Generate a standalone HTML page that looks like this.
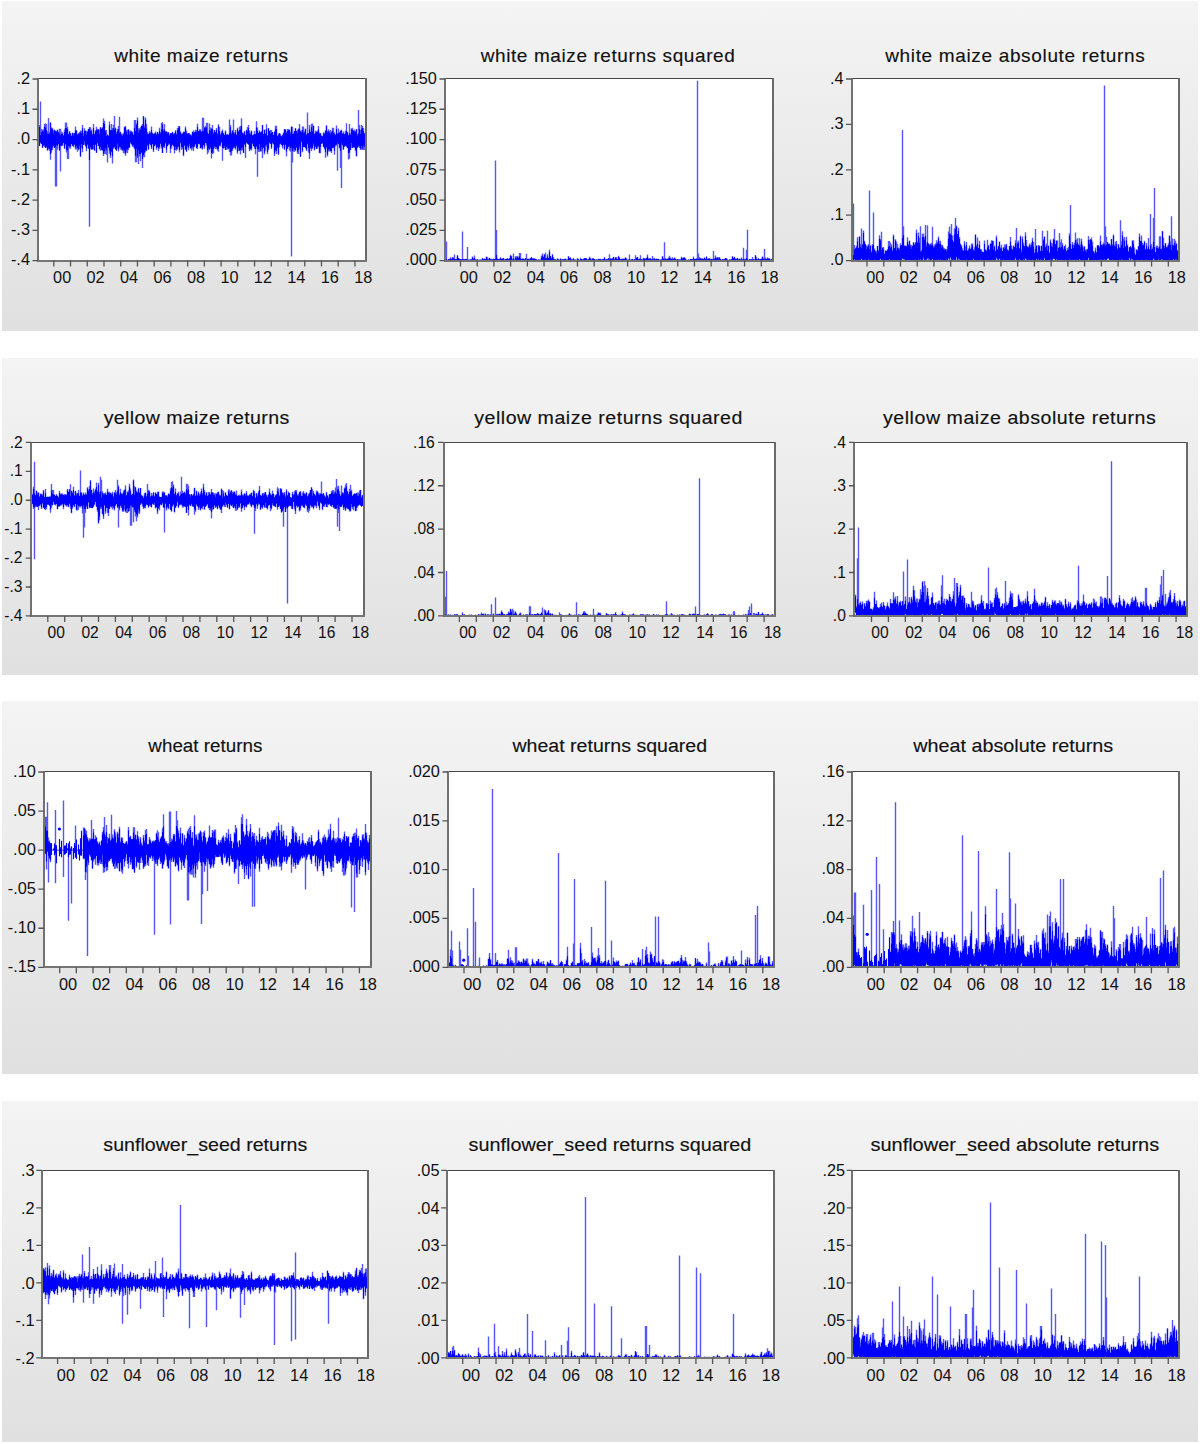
<!DOCTYPE html><html><head><meta charset="utf-8"><style>html,body{margin:0;padding:0;background:#fff;width:1200px;height:1444px;overflow:hidden}.p{position:absolute;left:2px;width:1196px;background:linear-gradient(#f4f4f4,#e0e0e0)}svg{position:absolute;left:0;top:0}text{font-family:"Liberation Sans",sans-serif;fill:#111}.t{stroke:#111;stroke-width:0.15px}</style></head><body>
<div class="p" style="top:1px;height:330px"></div>
<div class="p" style="top:358px;height:317px"></div>
<div class="p" style="top:701px;height:373px"></div>
<div class="p" style="top:1101px;height:341px"></div>
<svg width="1200" height="1444" viewBox="0 0 1200 1444">
<rect x="38" y="79" width="328" height="181.6" fill="#fff"/>
<text class="t" transform="scale(1 1)" x="114.19" y="61.6" font-size="19" textLength="173.8" lengthAdjust="spacing">white maize returns</text>
<path d="M39.5 125V145.9M40.5 101.4V142.8M41.5 129V144M42.5 129.6V147.9M43.5 129.6V145.7M44.5 123.9V147M45.5 123.2V147.7M46.5 124.1V147.8M47.5 131.5V150.7M48.5 118V149.4M49.5 131.8V150.8M50.5 122.2V159.7M51.5 127.3V152.8M52.5 128.3V149.9M53.5 130.6V146M54.5 129.4V147.9M55.5 130.4V186.4M56.5 130.9V186.4M57.5 129.5V149.6M58.5 131.7V144.4M59.5 128.8V150.8M60.5 128.8V171.6M61.5 131.5V146.2M62.5 132.6V146.1M63.5 134.9V142.9M64.5 129.5V149M65.5 122.6V144.8M66.5 122.6V152.5M67.5 126.7V158.9M68.5 134.3V158.9M69.5 130.9V148.3M70.5 132.9V148.7M71.5 135.5V144.1M72.5 132.5V146.1M73.5 132.9V147.3M74.5 133V144.6M75.5 126.4V149.6M76.5 129.9V149.6M77.5 134.1V151.7M78.5 133.6V150.3M79.5 132.1V149.2M80.5 130.6V157.1M81.5 131.1V147.7M82.5 125.1V152.3M83.5 133.2V145.1M84.5 128.3V144.6M85.5 130.7V146.5M86.5 130.8V151.3M87.5 130.8V145.2M88.5 128.9V148.5M89.5 127.1V226.7M90.5 127.2V148.7M91.5 129.5V149.5M92.5 133.7V149.2M93.5 123.9V149.6M94.5 133.8V150.7M95.5 130.3V145M96.5 126.8V152.9M97.5 128.7V143.5M98.5 129V145.9M99.5 129.8V149.5M100.5 127.1V150.8M101.5 128.4V150.5M102.5 127.1V150.7M103.5 118.6V155.9M104.5 120.7V154.1M105.5 130V154.1M106.5 130V154.7M107.5 134.6V162.5M108.5 135.4V147.9M109.5 121.5V153.6M110.5 130V157.7M111.5 124.1V152.3M112.5 128.1V163.4M113.5 124.7V148.8M114.5 115.9V147.3M115.5 127.6V149.3M116.5 132.1V150.8M117.5 128.9V148.3M118.5 125.9V151.5M119.5 116.8V147.8M120.5 131.7V149.4M121.5 133.8V150.3M122.5 133.8V151M123.5 132.7V153.2M124.5 126.8V153.2M125.5 126V155.7M126.5 129.8V152.5M127.5 129.8V152.9M128.5 128.9V150.1M129.5 130.7V147.7M130.5 130.6V143.2M131.5 131.1V144.6M132.5 131.8V146.8M133.5 134.4V147.3M134.5 120.1V149.3M135.5 120.1V162.3M136.5 123.6V162.3M137.5 117.6V158.1M138.5 128.6V164M139.5 128.1V156.4M140.5 127.2V161.2M141.5 125.4V152.8M142.5 124.1V168M143.5 116.1V157.1M144.5 125.5V157.3M145.5 117.5V152.6M146.5 123.7V151.1M147.5 131.9V146M148.5 134V149.8M149.5 131.2V144.1M150.5 132.3V145.2M151.5 126.6V149.1M152.5 132.5V144.2M153.5 133.7V152.1M154.5 133.5V146.3M155.5 131.4V144.9M156.5 133.7V149.8M157.5 132V147.3M158.5 133.6V150.9M159.5 127.8V148.8M160.5 131.9V143.8M161.5 123V148.5M162.5 121.9V153.1M163.5 129.2V147.2M164.5 124.1V148M165.5 130.9V143.6M166.5 131V152.8M167.5 131.9V146.5M168.5 131.9V145.1M169.5 134.6V144.4M170.5 133V153.1M171.5 133V148.8M172.5 131.8V144.9M173.5 133.6V146.5M174.5 133.2V153.5M175.5 130.2V150.1M176.5 133.4V150.7M177.5 128V149.6M178.5 125.9V147.6M179.5 126.1V152.5M180.5 131.2V143.3M181.5 133.4V149.7M182.5 133V148.8M183.5 131.6V156.3M184.5 131.7V146M185.5 126.6V149.6M186.5 130.8V151.6M187.5 133.8V147.2M188.5 133V150.2M189.5 133.1V146.1M190.5 134.5V148.5M191.5 134.7V150.5M192.5 131.5V149.3M193.5 130.4V150.9M194.5 131.8V146.5M195.5 129.7V144.4M196.5 130V148.6M197.5 123.7V149M198.5 131.3V143.8M199.5 129.3V144.6M200.5 129.3V148.6M201.5 131.3V148.6M202.5 117.7V149.7M203.5 117.7V145.2M204.5 126.9V148.8M205.5 126.1V143.1M206.5 122.7V145.5M207.5 122.7V154.3M208.5 133.5V152.4M209.5 123.4V149.6M210.5 127.4V148.4M211.5 128V158.6M212.5 124.9V154M213.5 132.6V153.3M214.5 130.1V148.1M215.5 132.2V148.9M216.5 128V148.7M217.5 133.3V150.4M218.5 124.3V151.7M219.5 127.1V145.6M220.5 134.3V146.4M221.5 131.4V142.8M222.5 129.6V160.7M223.5 133V148.8M224.5 134.7V148M225.5 130.6V150.1M226.5 134.3V149.7M227.5 134.2V149.5M228.5 134.8V149.3M229.5 119.6V151.9M230.5 124.9V155.5M231.5 132.5V155.5M232.5 130.1V151M233.5 119.6V148.4M234.5 132.2V148.1M235.5 129.9V149.7M236.5 134.4V146.4M237.5 127.7V153.8M238.5 131.1V150.8M239.5 126.8V151.1M240.5 126V154.4M241.5 118.3V150.7M242.5 132.7V150.2M243.5 133.3V153M244.5 131.1V145.1M245.5 134.5V158M246.5 129.7V142.8M247.5 127.1V143.7M248.5 125.1V144.5M249.5 130.2V151.2M250.5 132.7V149.2M251.5 130.5V150.4M252.5 135.2V143.6M253.5 134.3V146.2M254.5 131V148.8M255.5 133.7V154.2M256.5 121.2V147.2M257.5 127.5V176.8M258.5 132.9V152M259.5 130.3V152M260.5 132.3V151.5M261.5 131.4V151.5M262.5 125.1V158.3M263.5 133.8V148M264.5 129.4V154.6M265.5 133.3V150.7M266.5 124.3V146.8M267.5 135.2V154.3M268.5 128.1V150.2M269.5 130.8V142.6M270.5 130.1V144M271.5 130.1V149.1M272.5 131.9V143.2M273.5 135V144.6M274.5 131.6V156M275.5 125.5V151.4M276.5 125.9V154M277.5 135.8V148.3M278.5 133.4V155M279.5 133V147.2M280.5 133.7V143.9M281.5 136.3V145M282.5 134.7V148.4M283.5 132.4V145M284.5 129.2V149.8M285.5 129.3V145.3M286.5 131.7V156.5M287.5 128.9V149.1M288.5 128.9V147M289.5 129.4V150.5M290.5 131.9V151.7M291.5 126.6V256.4M292.5 126.9V162.5M293.5 132.7V151.4M294.5 130.8V152.1M295.5 127.9V150.7M296.5 131V147.5M297.5 129.8V153.8M298.5 128.6V154M299.5 124V148.7M300.5 130.6V157M301.5 130.6V142.4M302.5 126.4V152.3M303.5 126.4V146.9M304.5 131.2V147M305.5 128.4V148.3M306.5 133.9V151M307.5 112.6V144.4M308.5 133V152.5M309.5 124.9V159.1M310.5 131.4V148.5M311.5 123.8V150.9M312.5 123.5V148.4M313.5 125.4V146M314.5 133.5V150.4M315.5 130.7V146.9M316.5 131.3V149.1M317.5 130.6V148.8M318.5 125.9V147.2M319.5 132.5V153.2M320.5 133.1V153.2M321.5 135.6V144M322.5 136.3V143.5M323.5 132.2V146.9M324.5 133.5V149.5M325.5 130.6V157.7M326.5 125.2V148.2M327.5 131V156.4M328.5 129.2V151.4M329.5 131V151.4M330.5 130.1V151.5M331.5 131.6V152.9M332.5 127.7V148.2M333.5 127.7V148M334.5 132.3V154.7M335.5 134.6V146.5M336.5 125.6V145.6M337.5 133V170.7M338.5 128.4V144.3M339.5 132.4V148.4M340.5 130.5V168M341.5 129.8V188M342.5 133.5V145.4M343.5 131.5V149.6M344.5 134V146.7M345.5 130.7V145.9M346.5 123.2V147.2M347.5 132V148.3M348.5 134.7V159.4M349.5 124.1V158.8M350.5 133.6V150.2M351.5 128.2V147.6M352.5 127.7V148.2M353.5 130.6V147.4M354.5 129.4V147.8M355.5 130.8V151.2M356.5 129V156.4M357.5 133.8V148.2M358.5 109.9V146.9M359.5 124.7V147.9M360.5 130.1V150.1M361.5 124.9V149.4M362.5 126.1V150M363.5 127.9V150M364.5 132.7V149.9" stroke="#5656ff" stroke-width="1.4" fill="none"/><path d="M39.5 126.9V145.8M40.5 135V142.6M41.5 132.3V144M42.5 130.8V147.6M43.5 131.7V145.5M44.5 126.7V145.3M45.5 127.5V147.7M46.5 130.2V146.5M47.5 133.8V150M48.5 134V147.9M49.5 133.4V148.9M50.5 122.9V154.1M51.5 128.5V150M52.5 128.8V147.4M53.5 133.5V145.7M54.5 130.3V147.8M55.5 131.2V147.2M56.5 132V145.2M57.5 130.2V145.7M58.5 132.5V143.9M59.5 133.7V150.2M60.5 135.3V146.1M61.5 134.2V145.3M62.5 133.6V144.8M63.5 135.7V142.9M64.5 132.2V147.7M65.5 128V143.8M66.5 128.1V149.9M67.5 128.9V150.5M68.5 134.3V145.7M69.5 132V146.6M70.5 133.8V146.4M71.5 136V144.1M72.5 133V145.8M73.5 135.5V145.7M74.5 133.3V144.5M75.5 130.4V147.5M76.5 130.9V146M77.5 134.8V148.1M78.5 133.6V148.9M79.5 133.5V145.5M80.5 132.2V155.8M81.5 133.4V143.9M82.5 128.6V148.7M83.5 136.3V144.9M84.5 131.1V141.1M85.5 130.8V145.4M86.5 134.7V148.3M87.5 132V144.6M88.5 129V148.5M89.5 128.6V159.9M90.5 130.7V146.7M91.5 131.1V149.4M92.5 134.3V149.2M93.5 127.9V145M94.5 134V150.2M95.5 131.4V144.5M96.5 129.7V152.4M97.5 130.1V142.7M98.5 129.5V145.7M99.5 133.9V148.7M100.5 127.8V146.8M101.5 129.1V149.3M102.5 128.3V150M103.5 123.1V153.7M104.5 124.1V151.3M105.5 131.5V148.1M106.5 136V150.3M107.5 134.7V144.4M108.5 136.1V147.3M109.5 125.3V150.6M110.5 130.4V155.3M111.5 129.9V151.4M112.5 130.3V156.2M113.5 127.9V147.4M114.5 129.5V147.2M115.5 128.5V149.3M116.5 134V150.5M117.5 131.3V143.4M118.5 128.9V149.6M119.5 132.8V146.5M120.5 132.3V147.1M121.5 135V148.3M122.5 136.3V149.7M123.5 134.3V149.8M124.5 127.6V150.8M125.5 127.2V153.7M126.5 131.7V149.2M127.5 134.4V149.5M128.5 129.9V147.8M129.5 134.6V147.2M130.5 131.7V142.3M131.5 132.2V144M132.5 132.7V145.4M133.5 135V145.3M134.5 127.9V148.2M135.5 131.3V155.6M136.5 124.5V148.7M137.5 120.6V156.5M138.5 132.5V150.3M139.5 130.1V154.1M140.5 129.7V154.2M141.5 126.1V152.5M142.5 125.9V159M143.5 116.6V154.9M144.5 127.8V152.6M145.5 119.7V149.7M146.5 128.5V150.6M147.5 133.7V145.1M148.5 134.1V149M149.5 132.9V143.3M150.5 133V144.9M151.5 130.1V147.3M152.5 133.6V144M153.5 134V150.3M154.5 133.5V146M155.5 132.7V144.3M156.5 135V147.9M157.5 132.2V146.7M158.5 134V148.4M159.5 130.9V147.3M160.5 133.5V143.5M161.5 129.4V146.5M162.5 124.6V153M163.5 131.2V147M164.5 129.6V146.1M165.5 132.1V142.7M166.5 131.9V149.6M167.5 133.4V146M168.5 132.7V143.6M169.5 135.7V143.7M170.5 133.4V148.6M171.5 133.4V146.1M172.5 132.3V144.4M173.5 134.6V145.8M174.5 133.4V149.9M175.5 131.4V146.7M176.5 134.8V148.9M177.5 130V146.9M178.5 128.2V146.4M179.5 127.2V150.1M180.5 132.4V142.8M181.5 134.5V147M182.5 134.1V147.3M183.5 132.4V154.7M184.5 132.2V145.2M185.5 128.4V149.5M186.5 132.7V151.4M187.5 133.8V145.7M188.5 133.1V147.7M189.5 134.7V143.7M190.5 134.8V148.3M191.5 136.3V147.8M192.5 132V146.8M193.5 132.8V147.2M194.5 132.3V146.4M195.5 131.8V144.1M196.5 131.7V148.1M197.5 126.9V146.8M198.5 131.3V143.8M199.5 130.7V143.7M200.5 130.6V147.9M201.5 132.1V147.3M202.5 130.7V148.3M203.5 131.2V144.9M204.5 128.2V146.4M205.5 127.6V143.1M206.5 127.4V143.3M207.5 132.5V150.3M208.5 134V148.4M209.5 129.9V149.5M210.5 130.8V147.2M211.5 129V153.1M212.5 129.1V152.5M213.5 133.2V149M214.5 130.3V145.9M215.5 132.2V146.8M216.5 129.7V147.1M217.5 134.3V149.2M218.5 126.1V148.7M219.5 130.9V145.6M220.5 134.7V144.5M221.5 133V142M222.5 130.9V148M223.5 133.4V147.7M224.5 135.1V146.2M225.5 131.4V149.9M226.5 135.1V146.9M227.5 134.4V147.6M228.5 135V148.8M229.5 133.2V148.2M230.5 127.3V152.2M231.5 134V151.3M232.5 131.1V149.2M233.5 132.4V147.5M234.5 133.9V146.4M235.5 132.4V148.2M236.5 134.7V145.6M237.5 129.2V151.7M238.5 131.8V147.8M239.5 129.9V150.6M240.5 129.2V149.9M241.5 125.8V148.3M242.5 132.7V147.4M243.5 134.2V152.8M244.5 131.8V143.9M245.5 135.2V146.7M246.5 130.3V142.5M247.5 131.4V143.5M248.5 128V144.5M249.5 133.5V149.2M250.5 134.4V149.2M251.5 131.5V148.4M252.5 135.5V143.4M253.5 134.9V145.9M254.5 133.9V146.9M255.5 134.4V149.1M256.5 127.5V146M257.5 130.9V149.3M258.5 133.2V149.2M259.5 131.8V144M260.5 132.4V150.8M261.5 131.8V146.9M262.5 125.3V149.3M263.5 134V147.6M264.5 130.1V152.4M265.5 133.8V145.6M266.5 129.3V144.8M267.5 135.7V152.1M268.5 128.4V148.5M269.5 131.1V142.4M270.5 133.5V143.8M271.5 132.8V147.5M272.5 132.1V142.7M273.5 135.1V144.1M274.5 131.8V153.5M275.5 129.2V149.9M276.5 128.9V150.9M277.5 135.9V147.6M278.5 134.7V153.6M279.5 133.5V144.2M280.5 135.8V143.6M281.5 136.6V144.7M282.5 135.5V146.3M283.5 133.4V144.6M284.5 129.3V149.3M285.5 129.8V144.5M286.5 133.1V151.4M287.5 130.9V148.6M288.5 130.3V146.4M289.5 130V146.6M290.5 133.7V148.1M291.5 126.8V147.7M292.5 133.9V151M293.5 133.9V148.1M294.5 131.5V149.4M295.5 128.4V150.3M296.5 131.3V147.5M297.5 133.2V151.6M298.5 129.5V149.9M299.5 128.5V146.3M300.5 131.6V156.2M301.5 132.2V141.3M302.5 130.1V150.5M303.5 132.8V146.7M304.5 132.4V146.9M305.5 129.3V147.7M306.5 135.1V149.4M307.5 133.4V143.5M308.5 133.3V148.3M309.5 129.5V153.2M310.5 132.1V147.5M311.5 127.3V148.5M312.5 131.6V148.2M313.5 126V143.5M314.5 134V149.6M315.5 132.9V146.5M316.5 132V148.8M317.5 131.9V146.4M318.5 129.6V145.9M319.5 133.8V152.6M320.5 133.4V146.9M321.5 135.8V143.8M322.5 136.4V142.9M323.5 133.5V146.4M324.5 133.7V147.9M325.5 130.7V151.9M326.5 126.1V146.9M327.5 132.4V154.4M328.5 131.5V149.4M329.5 132.8V149.6M330.5 134.2V150.9M331.5 132.5V150.9M332.5 130.7V147.8M333.5 133.1V147.3M334.5 134V150.8M335.5 135.1V145M336.5 129.1V144.6M337.5 134.3V142.8M338.5 132.9V144.1M339.5 132.6V147.3M340.5 131.3V151.1M341.5 130.4V143.5M342.5 133.8V144.9M343.5 133.4V149.6M344.5 134.6V146.6M345.5 133.2V145.7M346.5 130.8V145.4M347.5 132.6V148M348.5 135.5V153M349.5 133.5V152.5M350.5 135V149.7M351.5 129.4V142.9M352.5 129.8V147.7M353.5 130.7V146.9M354.5 131.4V147.3M355.5 131.9V149.8M356.5 129.4V156M357.5 135.4V147.5M358.5 133.6V145.5M359.5 128.9V146.2M360.5 134.1V148.6M361.5 129.3V145.9M362.5 128.1V148.4M363.5 131.2V145.5M364.5 133.5V146.5" stroke="#0000ff" stroke-width="1.15" fill="none"/>
<rect x="37" y="78" width="330" height="1" fill="#484848"/>
<rect x="37" y="78" width="2" height="184" fill="#727272"/>
<rect x="365" y="78" width="2" height="184" fill="#6a6a6a"/>
<rect x="37" y="260" width="330" height="2" fill="#757575"/>
<text transform="translate(30.06 83.89) scale(1 1)" font-size="16.3" text-anchor="end">.2</text>
<text transform="translate(30.06 114.16) scale(1 1)" font-size="16.3" text-anchor="end">.1</text>
<text transform="translate(30.06 144.42) scale(1 1)" font-size="16.3" text-anchor="end">.0</text>
<text transform="translate(29.95 174.69) scale(1 1)" font-size="16.3" text-anchor="end">-.1</text>
<text transform="translate(29.95 204.96) scale(1 1)" font-size="16.3" text-anchor="end">-.2</text>
<text transform="translate(29.95 235.22) scale(1 1)" font-size="16.3" text-anchor="end">-.3</text>
<text transform="translate(29.95 265.49) scale(1 1)" font-size="16.3" text-anchor="end">-.4</text>
<text transform="translate(62.16 282.6) scale(1 1)" font-size="16.3" text-anchor="middle">00</text>
<text transform="translate(95.62 282.6) scale(1 1)" font-size="16.3" text-anchor="middle">02</text>
<text transform="translate(129.08 282.6) scale(1 1)" font-size="16.3" text-anchor="middle">04</text>
<text transform="translate(162.55 282.6) scale(1 1)" font-size="16.3" text-anchor="middle">06</text>
<text transform="translate(196 282.6) scale(1 1)" font-size="16.3" text-anchor="middle">08</text>
<text transform="translate(229.46 282.6) scale(1 1)" font-size="16.3" text-anchor="middle">10</text>
<text transform="translate(262.93 282.6) scale(1 1)" font-size="16.3" text-anchor="middle">12</text>
<text transform="translate(296.38 282.6) scale(1 1)" font-size="16.3" text-anchor="middle">14</text>
<text transform="translate(329.85 282.6) scale(1 1)" font-size="16.3" text-anchor="middle">16</text>
<text transform="translate(363.31 282.6) scale(1 1)" font-size="16.3" text-anchor="middle">18</text>
<path d="M32.5 79H38M32.5 109.27H38M32.5 139.53H38M32.5 169.8H38M32.5 200.07H38M32.5 230.33H38M32.5 260.6H38M53.8 260.6V266.6M70.53 260.6V266.6M87.26 260.6V266.6M103.99 260.6V266.6M120.72 260.6V266.6M137.45 260.6V266.6M154.18 260.6V266.6M170.91 260.6V266.6M187.64 260.6V266.6M204.37 260.6V266.6M221.1 260.6V266.6M237.83 260.6V266.6M254.56 260.6V266.6M271.29 260.6V266.6M288.02 260.6V266.6M304.75 260.6V266.6M321.48 260.6V266.6M338.21 260.6V266.6M354.94 260.6V266.6" stroke="#555" stroke-width="1.3" fill="none"/>
<rect x="445" y="79" width="328" height="181.6" fill="#fff"/>
<text class="t" transform="scale(1 1)" x="480.69" y="61.6" font-size="19" textLength="254.12" lengthAdjust="spacing">white maize returns squared</text>
<path d="M446.5 241.4V260.9M447.5 260V260.9M448.5 258.9V260.9M449.5 259.1V260.9M450.5 257.2V260.9M451.5 258.9V260.9M452.5 256.9V260.9M453.5 257.3V260.9M454.5 254.4V260.9M455.5 259.1V260.9M456.5 258.7V260.9M457.5 255.1V260.9M458.5 258.1V260.9M459.5 258.7V260.9M460.5 259V260.9M461.5 259.4V260.9M462.5 231.6V260.9M463.5 259V260.9M464.5 259V260.9M465.5 258.7V260.9M466.5 258.9V260.9M467.5 247V260.9M468.5 259.5V260.9M469.5 259.7V260.9M470.5 259V260.9M471.5 259.2V260.9M472.5 256.6V260.9M473.5 258.2V260.9M474.5 255.5V260.9M475.5 259.4V260.9M476.5 259.4V260.9M477.5 259.3V260.9M478.5 259.7V260.9M479.5 259.8V260.9M480.5 259.6V260.9M481.5 259.8V260.9M482.5 258.1V260.9M483.5 259.1V260.9M484.5 258.4V260.9M485.5 258.9V260.9M486.5 256.4V260.9M487.5 257.3V260.9M488.5 259.4V260.9M489.5 257.7V260.9M490.5 258.7V260.9M491.5 258.7V260.9M492.5 259.4V260.9M493.5 258.6V260.9M494.5 258.9V260.9M495.5 160.6V260.9M496.5 230.1V260.8M497.5 258.4V260.9M498.5 259V260.9M499.5 259.3V260.9M500.5 257.2V260.9M501.5 258.7V260.9M502.5 258.3V260.9M503.5 258V260.9M504.5 259.4V260.9M505.5 258.9V260.9M506.5 258.7V260.9M507.5 258.4V260.9M508.5 258.7V260.9M509.5 258.4V260.9M510.5 254.7V260.9M511.5 255.8V260.9M512.5 259.2V260.9M513.5 253.5V260.9M514.5 259.7V260.9M515.5 256.2V260.9M516.5 256.2V260.9M517.5 256.1V260.9M518.5 257.3V260.9M519.5 253V260.9M520.5 253.1V260.9M521.5 259V260.9M522.5 258.5V260.9M523.5 258.7V260.9M524.5 258.9V260.9M525.5 258V260.9M526.5 253.7V260.9M527.5 258.8V260.9M528.5 258.6V260.9M529.5 259.3V260.9M530.5 258V260.9M531.5 257V260.9M532.5 258.3V260.9M533.5 258.2V260.9M534.5 258V260.9M535.5 258.9V260.9M536.5 259.3V260.9M537.5 260V260.9M538.5 259.4V260.9M539.5 259.7V260.9M540.5 259.6V260.9M541.5 255.4V260.9M542.5 253.6V260.9M543.5 256.8V260.9M544.5 254.1V260.9M545.5 252.6V260.9M546.5 258.2V260.9M547.5 254.3V260.9M548.5 257.8V260.9M549.5 249.8V260.8M550.5 256.3V260.8M551.5 257.8V260.9M552.5 254.1V260.9M553.5 257.1V260.9M554.5 259V260.9M555.5 259.3V260.9M556.5 259.9V260.9M557.5 258.2V260.9M558.5 259.2V260.9M559.5 259.8V260.9M560.5 258.3V260.9M561.5 259.5V260.9M562.5 259V260.9M563.5 259.6V260.9M564.5 258.7V260.9M565.5 258.6V260.9M566.5 259.2V260.9M567.5 259.6V260.9M568.5 256.3V260.9M569.5 258V260.9M570.5 257.3V260.9M571.5 259.4V260.9M572.5 259.4V260.9M573.5 258.1V260.9M574.5 259.7V260.9M575.5 259.6V260.9M576.5 259.9V260.9M577.5 258V260.9M578.5 259.2V260.9M579.5 259.9V260.9M580.5 257.8V260.9M581.5 258.9V260.9M582.5 259.2V260.9M583.5 258.7V260.9M584.5 257.9V260.9M585.5 258V260.9M586.5 258.2V260.9M587.5 259.5V260.9M588.5 259V260.9M589.5 256.7V260.9M590.5 257.8V260.9M591.5 259.6V260.9M592.5 258.2V260.9M593.5 258.5V260.9M594.5 258.9V260.9M595.5 259.8V260.9M596.5 259.3V260.9M597.5 259.4V260.9M598.5 258.8V260.9M599.5 259.1V260.9M600.5 258.7V260.9M601.5 259.7V260.9M602.5 259.1V260.9M603.5 259.2V260.9M604.5 257.1V260.9M605.5 259.5V260.9M606.5 259V260.9M607.5 259.3V260.9M608.5 257.9V260.9M609.5 254.2V260.9M610.5 258.3V260.9M611.5 258.8V260.9M612.5 258V260.9M613.5 256.7V260.9M614.5 259.4V260.9M615.5 257V260.9M616.5 257V260.9M617.5 259.2V260.9M618.5 255.7V260.9M619.5 257.6V260.9M620.5 259.2V260.9M621.5 259.2V260.9M622.5 258.6V260.9M623.5 258.6V260.9M624.5 258.4V260.9M625.5 257.3V260.9M626.5 258.3V260.9M627.5 259.7V260.9M628.5 259.5V260.9M629.5 254.5V260.9M630.5 259.8V260.9M631.5 259.3V260.9M632.5 258.9V260.9M633.5 259.9V260.9M634.5 259.1V260.9M635.5 255.2V260.9M636.5 257.6V260.9M637.5 257.1V260.9M638.5 259.4V260.9M639.5 258.6V260.9M640.5 255.2V260.9M641.5 259V260.9M642.5 259.6V260.9M643.5 257.7V260.9M644.5 258.6V260.9M645.5 258.6V260.9M646.5 258V260.9M647.5 254.5V260.9M648.5 258.8V260.9M649.5 258.1V260.9M650.5 258V260.9M651.5 259.4V260.9M652.5 255.9V260.9M653.5 258.4V260.9M654.5 257.7V260.9M655.5 259.2V260.9M656.5 258.6V260.9M657.5 259.1V260.9M658.5 258.8V260.9M659.5 259.8V260.9M660.5 259.4V260.9M661.5 259.2V260.9M662.5 256V260.9M663.5 258.5V260.9M664.5 242.3V260.9M665.5 258.3V260.9M666.5 258.9V260.9M667.5 258.5V260.9M668.5 257.6V260.9M669.5 255.8V260.9M670.5 257.4V260.9M671.5 258.8V260.9M672.5 257.3V260.9M673.5 258.8V260.9M674.5 257.5V260.9M675.5 258.7V260.9M676.5 259.4V260.9M677.5 259.2V260.9M678.5 259.2V260.9M679.5 259.6V260.9M680.5 259.5V260.9M681.5 256.8V260.9M682.5 257.8V260.9M683.5 257.7V260.9M684.5 257.2V260.9M685.5 258.2V260.9M686.5 259.8V260.9M687.5 259.9V260.9M688.5 259.3V260.9M689.5 259.9V260.9M690.5 259V260.9M691.5 259V260.9M692.5 259V260.9M693.5 256.6V260.9M694.5 258.9V260.9M695.5 258.8V260.9M696.5 258.4V260.9M697.5 80.8V260.9M698.5 253.5V260.9M699.5 257V260.9M700.5 258.3V260.9M701.5 258.3V260.9M702.5 258.6V260.9M703.5 259V260.9M704.5 257.7V260.9M705.5 258.8V260.9M706.5 256.4V260.9M707.5 258.8V260.9M708.5 258.3V260.9M709.5 258.1V260.9M710.5 259.4V260.9M711.5 258.7V260.9M712.5 258.7V260.9M713.5 250.9V260.9M714.5 258.2V260.9M715.5 255.4V260.9M716.5 257.6V260.9M717.5 257.1V260.9M718.5 257.1V260.9M719.5 257V260.9M720.5 258.8V260.9M721.5 259.8V260.9M722.5 259.3V260.9M723.5 259.2V260.9M724.5 259.3V260.9M725.5 258V260.9M726.5 257.9V260.9M727.5 259.3V260.9M728.5 260.1V260.9M729.5 259.6V260.9M730.5 259.6V260.9M731.5 259.1V260.9M732.5 256.1V260.9M733.5 258.1V260.9M734.5 256.7V260.9M735.5 258.5V260.9M736.5 258.8V260.9M737.5 258.1V260.9M738.5 259.5V260.9M739.5 258.5V260.9M740.5 259.5V260.9M741.5 257.4V260.9M742.5 259.6V260.9M743.5 247.7V260.9M744.5 258.7V260.9M745.5 259.3V260.9M746.5 249.8V260.9M747.5 229.7V260.9M748.5 259.9V260.9M749.5 259V260.9M750.5 259V260.9M751.5 259.3V260.9M752.5 256.9V260.9M753.5 259.3V260.9M754.5 259.5V260.9M755.5 255.2V260.9M756.5 257.3V260.9M757.5 259.3V260.9M758.5 258.6V260.9M759.5 259.3V260.9M760.5 259V260.9M761.5 258.6V260.9M762.5 256.7V260.9M763.5 258.2V260.9M764.5 248.9V260.9M765.5 257.5V260.9M766.5 258.9V260.9M767.5 257.6V260.9M768.5 258V260.9M769.5 258.6V260.9M770.5 259.7V260.9M771.5 259V260.9" stroke="#5656ff" stroke-width="1.4" fill="none"/><path d="M446.5 259.3V260.9M447.5 260.1V260.9M448.5 259.2V260.9M449.5 259.3V260.9M450.5 258.5V260.9M451.5 259.2V260.9M452.5 258.3V260.9M453.5 258.5V260.9M454.5 258.9V260.9M455.5 259.3V260.9M456.5 258.9V260.9M457.5 255.9V260.9M458.5 258.3V260.9M459.5 258.9V260.9M460.5 259.2V260.9M461.5 259.4V260.9M462.5 259V260.9M463.5 259.2V260.9M464.5 259.6V260.9M465.5 259V260.9M466.5 258.9V260.9M467.5 259.6V260.9M468.5 259.9V260.9M469.5 259.8V260.9M470.5 259.6V260.9M471.5 259.5V260.9M472.5 257.5V260.9M473.5 259.4V260.9M474.5 258V260.9M475.5 259.6V260.9M476.5 259.7V260.9M477.5 259.6V260.9M478.5 259.9V260.9M479.5 259.8V260.9M480.5 259.7V260.9M481.5 259.8V260.9M482.5 258.6V260.9M483.5 259.4V260.9M484.5 259V260.9M485.5 259.3V260.9M486.5 256.9V260.9M487.5 259.6V260.9M488.5 259.4V260.9M489.5 258V260.9M490.5 259.3V260.9M491.5 259.5V260.9M492.5 259.6V260.9M493.5 259V260.9M494.5 259.1V260.9M495.5 259V260.9M496.5 255V260.8M497.5 259.1V260.9M498.5 259.1V260.9M499.5 259.6V260.9M500.5 258.2V260.9M501.5 258.9V260.9M502.5 259V260.9M503.5 258.2V260.9M504.5 259.7V260.9M505.5 259V260.9M506.5 258.9V260.9M507.5 258.6V260.9M508.5 258.9V260.9M509.5 258.4V260.9M510.5 255.9V260.9M511.5 256.8V260.9M512.5 259.4V260.9M513.5 258.6V260.9M514.5 259.8V260.9M515.5 257.6V260.9M516.5 258.6V260.9M517.5 257.1V260.9M518.5 258.1V260.9M519.5 256.2V260.9M520.5 258.4V260.9M521.5 259.1V260.8M522.5 258.7V260.9M523.5 258.8V260.9M524.5 259.7V260.9M525.5 258.3V260.9M526.5 259.7V260.9M527.5 259V260.9M528.5 259V260.9M529.5 259.5V260.9M530.5 258.6V260.9M531.5 257.5V260.9M532.5 259V260.9M533.5 258.7V260.9M534.5 259V260.9M535.5 258.9V260.9M536.5 259.5V260.9M537.5 260.1V260.9M538.5 259.5V260.9M539.5 259.8V260.9M540.5 259.8V260.9M541.5 257.5V260.9M542.5 256.1V260.9M543.5 256.9V260.9M544.5 255.1V260.8M545.5 258.2V260.9M546.5 258.3V260.8M547.5 256.5V260.9M548.5 257.9V260.9M549.5 251.7V260.8M550.5 256.3V260.8M551.5 258.5V260.9M552.5 255.2V260.9M553.5 258.8V260.9M554.5 259.4V260.9M555.5 259.4V260.9M556.5 259.9V260.9M557.5 259V260.9M558.5 259.5V260.9M559.5 259.9V260.9M560.5 258.9V260.9M561.5 259.7V260.9M562.5 259.4V260.9M563.5 259.6V260.9M564.5 259.3V260.9M565.5 258.9V260.9M566.5 259.9V260.9M567.5 259.8V260.9M568.5 256.6V260.9M569.5 258.1V260.9M570.5 258.2V260.9M571.5 259.6V260.9M572.5 259.4V260.9M573.5 258.9V260.9M574.5 259.8V260.9M575.5 259.7V260.9M576.5 259.9V260.9M577.5 259V260.9M578.5 259.4V260.9M579.5 259.9V260.9M580.5 258.9V260.9M581.5 259.3V260.9M582.5 259.5V260.9M583.5 259.2V260.9M584.5 258.3V260.9M585.5 258.4V260.9M586.5 258.8V260.9M587.5 259.7V260.9M588.5 259.4V260.9M589.5 258.1V260.9M590.5 258.7V260.9M591.5 259.7V260.9M592.5 258.7V260.9M593.5 258.5V260.9M594.5 259.4V260.9M595.5 259.8V260.9M596.5 259.7V260.9M597.5 259.7V260.9M598.5 259.2V260.9M599.5 259.2V260.9M600.5 259.2V260.9M601.5 259.7V260.9M602.5 259.2V260.9M603.5 259.2V260.9M604.5 258.2V260.9M605.5 259.7V260.9M606.5 259.2V260.9M607.5 259.3V260.9M608.5 258.5V260.9M609.5 259.4V260.9M610.5 258.7V260.9M611.5 259V260.9M612.5 258.9V260.9M613.5 257.2V260.9M614.5 259.5V260.9M615.5 257.7V260.9M616.5 258.8V260.9M617.5 259.3V260.9M618.5 256.7V260.8M619.5 257.8V260.9M620.5 259.2V260.9M621.5 259.3V260.9M622.5 259.1V260.9M623.5 259.1V260.9M624.5 258.9V260.8M625.5 258V260.9M626.5 259.2V260.9M627.5 259.9V260.9M628.5 259.8V260.9M629.5 259V260.9M630.5 259.9V260.9M631.5 259.4V260.9M632.5 259V260.9M633.5 259.9V260.9M634.5 259.1V260.9M635.5 259.8V260.9M636.5 258V260.9M637.5 257.1V260.8M638.5 259.5V260.9M639.5 259V260.9M640.5 259.3V260.9M641.5 259.1V260.9M642.5 259.8V260.9M643.5 258.4V260.9M644.5 258.6V260.9M645.5 259.2V260.9M646.5 258.1V260.9M647.5 256.7V260.9M648.5 258.8V260.9M649.5 259V260.9M650.5 258.9V260.9M651.5 259.6V260.9M652.5 259.2V260.9M653.5 259.3V260.9M654.5 259V260.9M655.5 259.5V260.9M656.5 259.1V260.9M657.5 259.2V260.9M658.5 259.1V260.9M659.5 259.8V260.9M660.5 259.7V260.9M661.5 259.7V260.9M662.5 256.9V260.9M663.5 258.8V260.9M664.5 259.6V260.9M665.5 258.8V260.9M666.5 259.3V260.9M667.5 258.9V260.9M668.5 258.7V260.9M669.5 258V260.9M670.5 258.4V260.9M671.5 258.9V260.9M672.5 258.7V260.9M673.5 259.3V260.9M674.5 258.3V260.9M675.5 258.7V260.9M676.5 259.7V260.9M677.5 259.2V260.9M678.5 259.7V260.9M679.5 259.6V260.9M680.5 259.7V260.9M681.5 257.8V260.8M682.5 258.7V260.9M683.5 257.8V260.9M684.5 257.8V260.9M685.5 258.9V260.9M686.5 259.9V260.9M687.5 259.9V260.9M688.5 259.7V260.9M689.5 260V260.9M690.5 259V260.9M691.5 259V260.9M692.5 259.4V260.9M693.5 258.1V260.9M694.5 258.9V260.9M695.5 259.1V260.9M696.5 258.8V260.9M697.5 258.8V260.9M698.5 258.9V260.9M699.5 258.7V260.9M700.5 258.4V260.9M701.5 259.2V260.9M702.5 258.7V260.9M703.5 259.1V260.9M704.5 257.7V260.9M705.5 259.3V260.9M706.5 256.8V260.9M707.5 259.1V260.9M708.5 259.1V260.9M709.5 258.7V260.9M710.5 259.5V260.9M711.5 259V260.9M712.5 259.4V260.9M713.5 259.3V260.9M714.5 258.9V260.9M715.5 257.7V260.9M716.5 258.5V260.9M717.5 258V260.9M718.5 259.2V260.9M719.5 258V260.9M720.5 259V260.9M721.5 259.9V260.9M722.5 259.3V260.8M723.5 259.2V260.9M724.5 259.5V260.8M725.5 258.2V260.9M726.5 258.7V260.9M727.5 260V260.9M728.5 260.1V260.9M729.5 259.6V260.9M730.5 259.8V260.9M731.5 259.2V260.9M732.5 257V260.9M733.5 258.2V260.9M734.5 257.6V260.9M735.5 258.9V260.9M736.5 259V260.9M737.5 258.3V260.9M738.5 259.7V260.9M739.5 259V260.9M740.5 259.6V260.9M741.5 258.8V260.9M742.5 259.7V260.9M743.5 258.9V260.9M744.5 259.5V260.9M745.5 259.5V260.9M746.5 258.1V260.9M747.5 259.3V260.9M748.5 259.9V260.9M749.5 259.3V260.9M750.5 259.4V260.9M751.5 259.5V260.9M752.5 259.2V260.9M753.5 259.6V260.9M754.5 259.5V260.9M755.5 255.4V260.9M756.5 259V260.9M757.5 259.4V260.9M758.5 258.6V260.9M759.5 259.4V260.9M760.5 259.3V260.9M761.5 259V260.9M762.5 256.8V260.9M763.5 258.9V260.9M764.5 259.7V260.9M765.5 258.7V260.9M766.5 259.1V260.9M767.5 258.4V260.9M768.5 258.9V260.9M769.5 258.8V260.9M770.5 259.7V260.9M771.5 259.2V260.9" stroke="#0000ff" stroke-width="1.15" fill="none"/>
<rect x="444" y="78" width="330" height="1" fill="#484848"/>
<rect x="444" y="78" width="2" height="184" fill="#727272"/>
<rect x="772" y="78" width="2" height="184" fill="#6a6a6a"/>
<rect x="444" y="260" width="330" height="2" fill="#757575"/>
<text transform="translate(436.94 83.89) scale(1 1)" font-size="16.3" text-anchor="end">.150</text>
<text transform="translate(436.94 114.16) scale(1 1)" font-size="16.3" text-anchor="end">.125</text>
<text transform="translate(436.94 144.42) scale(1 1)" font-size="16.3" text-anchor="end">.100</text>
<text transform="translate(436.94 174.69) scale(1 1)" font-size="16.3" text-anchor="end">.075</text>
<text transform="translate(436.94 204.96) scale(1 1)" font-size="16.3" text-anchor="end">.050</text>
<text transform="translate(436.94 235.22) scale(1 1)" font-size="16.3" text-anchor="end">.025</text>
<text transform="translate(436.94 265.49) scale(1 1)" font-size="16.3" text-anchor="end">.000</text>
<text transform="translate(468.86 282.6) scale(1 1)" font-size="16.3" text-anchor="middle">00</text>
<text transform="translate(502.27 282.6) scale(1 1)" font-size="16.3" text-anchor="middle">02</text>
<text transform="translate(535.7 282.6) scale(1 1)" font-size="16.3" text-anchor="middle">04</text>
<text transform="translate(569.12 282.6) scale(1 1)" font-size="16.3" text-anchor="middle">06</text>
<text transform="translate(602.53 282.6) scale(1 1)" font-size="16.3" text-anchor="middle">08</text>
<text transform="translate(635.96 282.6) scale(1 1)" font-size="16.3" text-anchor="middle">10</text>
<text transform="translate(669.38 282.6) scale(1 1)" font-size="16.3" text-anchor="middle">12</text>
<text transform="translate(702.8 282.6) scale(1 1)" font-size="16.3" text-anchor="middle">14</text>
<text transform="translate(736.22 282.6) scale(1 1)" font-size="16.3" text-anchor="middle">16</text>
<text transform="translate(769.63 282.6) scale(1 1)" font-size="16.3" text-anchor="middle">18</text>
<path d="M439.5 79H445M439.5 109.27H445M439.5 139.53H445M439.5 169.8H445M439.5 200.07H445M439.5 230.33H445M439.5 260.6H445M460.5 260.6V266.6M477.21 260.6V266.6M493.92 260.6V266.6M510.63 260.6V266.6M527.34 260.6V266.6M544.05 260.6V266.6M560.76 260.6V266.6M577.47 260.6V266.6M594.18 260.6V266.6M610.89 260.6V266.6M627.6 260.6V266.6M644.31 260.6V266.6M661.02 260.6V266.6M677.73 260.6V266.6M694.44 260.6V266.6M711.15 260.6V266.6M727.86 260.6V266.6M744.57 260.6V266.6M761.28 260.6V266.6" stroke="#555" stroke-width="1.3" fill="none"/>
<rect x="851.5" y="79" width="327.5" height="181.6" fill="#fff"/>
<text class="t" transform="scale(1 1)" x="885.19" y="61.6" font-size="19" textLength="259.57" lengthAdjust="spacing">white maize absolute returns</text>
<path d="M852.5 243.9V259.3M853.5 203.6V260.8M854.5 245V259.6M855.5 248.2V260.8M856.5 245.8V260.7M857.5 237.3V260.6M858.5 247.8V260.2M859.5 236.3V260.6M860.5 244.1V260.7M861.5 228.5V259.1M862.5 243.8V260.8M863.5 230.5V260.3M864.5 240.8V259.9M865.5 243.9V260.8M866.5 245.4V260.5M867.5 245.5V260.9M868.5 243.9V260M869.5 190.4V260.5M870.5 245.6V260.8M871.5 251.2V260.2M872.5 243.9V260.5M873.5 212.6V260.4M874.5 248.6V259.8M875.5 250.4V260.1M876.5 250.9V260.4M877.5 245.7V260.9M878.5 249.9V260.6M879.5 235.3V259.9M880.5 239.1V258.9M881.5 231.7V260.7M882.5 247.7V259.9M883.5 247V260.2M884.5 253.8V260.8M885.5 250.3V260.9M886.5 250.9V260.5M887.5 249.1V260.5M888.5 241V260M889.5 241V259.4M890.5 242.5V260.7M891.5 244.6V260.2M892.5 249.7V260.7M893.5 234.5V260.2M894.5 248.1V260.4M895.5 239.2V260.2M896.5 241.6V260.7M897.5 243.9V260.1M898.5 247.4V259.9M899.5 247.7V260.4M900.5 243.2V260.6M901.5 244.9V260.9M902.5 130V258.7M903.5 226.3V259.8M904.5 245.6V260.7M905.5 245.6V260.7M906.5 245.7V260.8M907.5 237.3V260.6M908.5 243.9V260.5M909.5 240.6V260.4M910.5 244.5V260.8M911.5 245V260.9M912.5 245.8V260.2M913.5 242.1V260.6M914.5 244.3V260.8M915.5 242.1V260.4M916.5 229.4V260.6M917.5 241.6V260.4M918.5 232.5V260.4M919.5 238.1V260.8M920.5 226.2V259.5M921.5 249.9V260.9M922.5 233.7V260.7M923.5 233.5V258.8M924.5 237.6V260.6M925.5 225V260.6M926.5 243.6V260.1M927.5 225.3V258.8M928.5 242.9V260M929.5 244.6V259.8M930.5 243.8V260.2M931.5 242.8V260.8M932.5 226.7V259.3M933.5 245.9V260.7M934.5 244.6V260.6M935.5 243.5V260.7M936.5 240.3V260.8M937.5 241.7V260.2M938.5 236.4V260M939.5 241.3V260.5M940.5 240.7V259.7M941.5 245V260.9M942.5 244.8V260.8M943.5 247.3V260.2M944.5 248.2V260.9M945.5 249.2V260.7M946.5 249.1V260.1M947.5 246.1V260.4M948.5 231.5V258.5M949.5 226.6V260.2M950.5 232.9V257.8M951.5 224V260.3M952.5 235.5V260.5M953.5 241.6V260.5M954.5 228.3V260.7M955.5 218.1V260.9M956.5 225.6V257.4M957.5 234.1V260.7M958.5 227.8V259.7M959.5 237V260.6M960.5 243.5V260.8M961.5 245.3V260.5M962.5 248.2V259.9M963.5 249.9V260.7M964.5 241.3V260.3M965.5 246.4V260.9M966.5 242V260M967.5 250.5V260.7M968.5 248.5V260.6M969.5 245.4V260.5M970.5 249.1V260.7M971.5 243.7V260.8M972.5 243.2V260.7M973.5 249.3V259.2M974.5 247.3V260.4M975.5 234.3V260.9M976.5 245.3V260.2M977.5 237.6V260.8M978.5 247.9V260.8M979.5 240.8V260.7M980.5 249.3V259.6M981.5 249.2V260.9M982.5 251.6V260.6M983.5 251.9V260.6M984.5 240.4V260.1M985.5 249.2V260.8M986.5 250.3V260.7M987.5 239.8V260.4M988.5 244.9V260.7M989.5 248.9V260.5M990.5 243.4V260.5M991.5 240.2V260.8M992.5 240.6V259.7M993.5 241.3V260.5M994.5 245.4V259.8M995.5 250.7V260.3M996.5 235.6V258.3M997.5 248.9V259.9M998.5 246.1V260.9M999.5 241.4V258.7M1000.5 247.3V260.3M1001.5 244.7V260.5M1002.5 251V260.1M1003.5 247.4V259.8M1004.5 244.4V260.4M1005.5 244.4V260.9M1006.5 243.7V260.6M1007.5 249.2V260.6M1008.5 250.2V260.8M1009.5 245.9V260M1010.5 237V260.9M1011.5 245.5V260.5M1012.5 249.1V260.7M1013.5 245.4V260.7M1014.5 247.1V260.2M1015.5 240.2V258.8M1016.5 228.1V260.4M1017.5 241.8V259.9M1018.5 240.6V260.9M1019.5 248V259.8M1020.5 235.5V260.5M1021.5 249.4V260M1022.5 236.6V260.4M1023.5 242.5V260M1024.5 246V260.6M1025.5 232.2V258.4M1026.5 240.1V259.6M1027.5 246.6V260.6M1028.5 246.6V260.2M1029.5 243.4V260.5M1030.5 244.5V260.7M1031.5 242.5V260.3M1032.5 237.8V259.9M1033.5 242.1V260.7M1034.5 252.7V260.6M1035.5 229V260.8M1036.5 245.5V259.3M1037.5 251.9V260.5M1038.5 245V260.3M1039.5 245.5V260.5M1040.5 250.8V260M1041.5 245.8V260.5M1042.5 230.8V260.7M1043.5 238.7V260.5M1044.5 236.8V258.5M1045.5 246.6V260.6M1046.5 243.5V260.7M1047.5 230.8V260.3M1048.5 245.5V260.7M1049.5 252.7V260.5M1050.5 239.4V259.4M1051.5 243.1V260.9M1052.5 243.5V260.1M1053.5 238.4V258.6M1054.5 229V259M1055.5 244.1V260.8M1056.5 240.6V259.3M1057.5 240.6V260.8M1058.5 247.6V260.7M1059.5 233.1V260.6M1060.5 242.1V260.6M1061.5 239.2V260.3M1062.5 243.2V260.9M1063.5 248.5V260.6M1064.5 246.2V260.6M1065.5 244.5V260M1066.5 250.7V260.5M1067.5 247.9V260.7M1068.5 246.8V260.7M1069.5 233.2V259.9M1070.5 204.9V260.9M1071.5 248.8V260.2M1072.5 242V260.5M1073.5 244.7V260.6M1074.5 242.8V260.2M1075.5 232.6V259.9M1076.5 239.6V260.9M1077.5 238.2V260.8M1078.5 244.1V260.9M1079.5 237.9V259.2M1080.5 244.4V260.5M1081.5 238.7V260.9M1082.5 244.4V260.9M1083.5 247.6V260.9M1084.5 246.5V260.6M1085.5 249.5V260.4M1086.5 249.3V260.1M1087.5 248.8V260.3M1088.5 236V258.2M1089.5 239.7V260.1M1090.5 239.1V260.7M1091.5 237.5V260.4M1092.5 241.4V260.9M1093.5 250.9V260.6M1094.5 252.6V260.9M1095.5 247.4V260.5M1096.5 252.5V260.6M1097.5 245.2V260.2M1098.5 245.4V260.9M1099.5 246.6V260.5M1100.5 235.4V260.3M1101.5 244.8V260.2M1102.5 244.3V259.8M1103.5 242.5V260.4M1104.5 85.5V260.2M1105.5 226.2V260.4M1106.5 236.8V260.8M1107.5 241.9V258.8M1108.5 243.4V258.5M1109.5 243.4V260.8M1110.5 245.3V260.7M1111.5 239.1V260.6M1112.5 244.3V260.9M1113.5 234.5V260.8M1114.5 244.4V260.4M1115.5 241.7V260.9M1116.5 241.1V260.5M1117.5 248.3V260.6M1118.5 244V260.8M1119.5 247.6V260.2M1120.5 220.3V260.7M1121.5 241.3V260.7M1122.5 231.3V260.5M1123.5 238.8V260.8M1124.5 237.1V260.8M1125.5 246.1V260.6M1126.5 236.7V260.9M1127.5 244.5V260.5M1128.5 250.7V260.6M1129.5 247.2V258.6M1130.5 246.4V260.4M1131.5 247.3V259.7M1132.5 240.3V259.5M1133.5 240.2V260.9M1134.5 247.5V260.4M1135.5 254.7V260.3M1136.5 249.6V260.5M1137.5 249.6V260.2M1138.5 245.7V260.4M1139.5 233.4V260.5M1140.5 240.8V260.6M1141.5 235.5V260.3M1142.5 242.9V260.7M1143.5 244.3V260.5M1144.5 240.7V260.8M1145.5 248.8V260.2M1146.5 243V260.1M1147.5 248.6V260.7M1148.5 237.9V260.4M1149.5 249.1V260.8M1150.5 214V260.5M1151.5 244V260.9M1152.5 247.4V260.6M1153.5 218.1V258.5M1154.5 188.1V259.7M1155.5 251.9V260.7M1156.5 245.6V260.3M1157.5 245.7V260.5M1158.5 247.5V260.5M1159.5 236.2V260.5M1160.5 236.2V260.5M1161.5 248.5V259.7M1162.5 231V259.9M1163.5 237.6V260.4M1164.5 246.1V260.6M1165.5 243V260.7M1166.5 247.3V260.5M1167.5 245.6V260.1M1168.5 243.3V260.8M1169.5 235.5V260M1170.5 241.4V260.5M1171.5 216.3V260.7M1172.5 238.5V260.7M1173.5 244.9V259.6M1174.5 238.8V260.4M1175.5 240.7V260.6M1176.5 243.2V260M1177.5 250.5V260.7" stroke="#5656ff" stroke-width="1.4" fill="none"/><path d="M852.5 245.7V259.2M853.5 254.9V260.3M854.5 249.5V259.3M855.5 248.6V260.1M856.5 247.4V260.7M857.5 241.4V260.4M858.5 248.2V259.8M859.5 237.1V260.6M860.5 246.5V260.1M861.5 248.2V258.6M862.5 245V260M863.5 232.9V260M864.5 241.7V259.8M865.5 244.6V259.5M866.5 249.3V260.1M867.5 246.9V260.4M868.5 245.7V258.8M869.5 249.1V260.1M870.5 245.7V260.6M871.5 252.4V259.9M872.5 245.7V260.3M873.5 245.1V260.3M874.5 249.9V259.6M875.5 251.8V260M876.5 253.6V260.4M877.5 246.2V260.2M878.5 251.2V259.9M879.5 238.7V259.8M880.5 240.4V258.5M881.5 250.3V260.5M882.5 247.7V259.8M883.5 249.2V259.8M884.5 254V260.8M885.5 251.1V259.9M886.5 250.9V260.2M887.5 250.2V260.5M888.5 246.7V260M889.5 246V259.1M890.5 248.1V260.6M891.5 246.7V260M892.5 250.9V260.7M893.5 236.3V260M894.5 248.3V260.3M895.5 240.4V260.1M896.5 250.6V260.4M897.5 248V260.1M898.5 249V259.9M899.5 249.9V260.1M900.5 245.6V259.9M901.5 245V260.7M902.5 238.1V258.2M903.5 235.2V259M904.5 245.7V258.9M905.5 246.3V260.5M906.5 246.6V260.6M907.5 241.9V260.5M908.5 245.6V260.5M909.5 241.2V260M910.5 246.5V260.6M911.5 248.7V260.5M912.5 246V259.9M913.5 243.1V260.4M914.5 245.2V260.1M915.5 243.2V259.7M916.5 233.2V260.5M917.5 243V260.1M918.5 236.1V259.2M919.5 242.7V260.7M920.5 251.8V259.3M921.5 251.1V260.6M922.5 237.1V260M923.5 237V257M924.5 239.7V260.2M925.5 235.8V259.6M926.5 246.7V259.6M927.5 242V258.3M928.5 244.2V258.1M929.5 245.4V259.2M930.5 244.4V259.9M931.5 245.6V260.6M932.5 244.5V258.9M933.5 247.6V260.3M934.5 247.6V260.4M935.5 245.5V260.4M936.5 244.2V259.8M937.5 242.9V259.9M938.5 238.6V259.5M939.5 244.1V260.3M940.5 243.7V259.4M941.5 247.7V260.5M942.5 246.3V260.8M943.5 249V260M944.5 249.8V260.6M945.5 249.5V260.5M946.5 251.3V259.5M947.5 249.5V259.7M948.5 238.8V258.2M949.5 233.8V259.3M950.5 234.5V256.7M951.5 235V259.6M952.5 240V260.3M953.5 242V259.3M954.5 234.5V260.2M955.5 229V260.2M956.5 226.4V257.1M957.5 234.3V259.8M958.5 231V258.3M959.5 239.1V258.8M960.5 244.4V260.6M961.5 246.6V260.4M962.5 250.6V259.8M963.5 251V260.4M964.5 244.2V260.3M965.5 250.5V260.8M966.5 244.9V259.2M967.5 251V260.5M968.5 250.3V260.4M969.5 248.2V260.5M970.5 249.3V260.7M971.5 247.5V260.3M972.5 245.2V260.5M973.5 250.5V258.6M974.5 250.4V260.2M975.5 235.2V260.6M976.5 246.8V260M977.5 244.1V260.4M978.5 248V260.4M979.5 244.8V260.5M980.5 249.5V259.5M981.5 251.5V260.7M982.5 252V260.5M983.5 252.2V260.6M984.5 244V260M985.5 250V260.4M986.5 251.2V260M987.5 247.4V260.3M988.5 246V260.2M989.5 250.4V260.2M990.5 243.7V260.2M991.5 243.8V260.3M992.5 241V259.7M993.5 249.6V260.3M994.5 247V259.8M995.5 251.2V260.2M996.5 238V257.6M997.5 249.7V259.1M998.5 246.2V260.8M999.5 242.1V258.6M1000.5 248.4V259.7M1001.5 248.2V259.8M1002.5 251.1V260M1003.5 247.6V259.5M1004.5 249.1V260M1005.5 247.6V260.8M1006.5 245.6V260.5M1007.5 249.9V260.5M1008.5 251.1V260.4M1009.5 246.2V259.9M1010.5 241.8V260.3M1011.5 248.5V260.4M1012.5 250.3V260.7M1013.5 246.5V260.6M1014.5 247.2V259.7M1015.5 243.2V257.4M1016.5 248.2V259.8M1017.5 243.7V259.6M1018.5 242.8V260.9M1019.5 248.8V259.1M1020.5 237.2V260M1021.5 252V259.9M1022.5 239.3V260.2M1023.5 245.3V259.2M1024.5 246.5V260.3M1025.5 235.9V258.2M1026.5 245.5V259.4M1027.5 246.8V260.3M1028.5 247.4V259.6M1029.5 245.4V260.1M1030.5 247.3V260.7M1031.5 245.2V259.9M1032.5 240.7V259.5M1033.5 246.7V260.2M1034.5 252.8V260.5M1035.5 249.1V260.6M1036.5 245.7V258.7M1037.5 252.8V260.1M1038.5 246.3V258.8M1039.5 246.5V260.4M1040.5 251.3V259.3M1041.5 246V259.7M1042.5 251V260.5M1043.5 240.6V260.4M1044.5 236.8V257.6M1045.5 247.4V260.6M1046.5 245.5V260.6M1047.5 250.5V259.9M1048.5 246V260.2M1049.5 252.8V260.4M1050.5 241.5V259.4M1051.5 246.3V260.8M1052.5 247.2V259.7M1053.5 239.5V258.4M1054.5 240.2V258.9M1055.5 244.4V260.6M1056.5 240.8V259.2M1057.5 251.2V260.7M1058.5 247.9V260.7M1059.5 246.8V260.6M1060.5 248.1V260.5M1061.5 247.1V259.5M1062.5 245.2V260.8M1063.5 249.6V259.9M1064.5 246.3V260.5M1065.5 249V259.5M1066.5 251.2V260.4M1067.5 250.2V260.5M1068.5 249.7V260.1M1069.5 236.1V258.8M1070.5 244.2V260.6M1071.5 249.1V260.1M1072.5 244.7V259.8M1073.5 247.9V260.4M1074.5 244.9V259.8M1075.5 240.3V259.8M1076.5 244.3V260.7M1077.5 242.7V260.7M1078.5 244.9V260.6M1079.5 245.4V259M1080.5 247.5V260.4M1081.5 241.4V260.6M1082.5 246.6V260.6M1083.5 251.5V260.8M1084.5 246.6V260M1085.5 250.8V260.2M1086.5 252.2V260M1087.5 249.4V260.3M1088.5 239.9V257.8M1089.5 244V260M1090.5 239.7V260.5M1091.5 239.9V260.3M1092.5 245.8V260.8M1093.5 251.5V260.5M1094.5 253.5V260.6M1095.5 250.6V259.8M1096.5 252.6V260.5M1097.5 245.4V260.1M1098.5 245.4V260.8M1099.5 247.8V259.4M1100.5 241.5V259.5M1101.5 244.9V259.7M1102.5 245.9V259.7M1103.5 244.2V260.2M1104.5 244.4V258.9M1105.5 245.8V260.3M1106.5 244.4V260.8M1107.5 242.5V258.7M1108.5 244.3V258.3M1109.5 244.3V260.5M1110.5 245.8V260.6M1111.5 239.2V260.4M1112.5 245.8V259.5M1113.5 235.7V260.3M1114.5 246.1V260.1M1115.5 246.8V260.3M1116.5 244.1V260.4M1117.5 249V260.5M1118.5 245.3V260.3M1119.5 247.7V259.4M1120.5 247.8V260.7M1121.5 245.3V259.2M1122.5 235.5V259.5M1123.5 248V260.7M1124.5 240.8V260.7M1125.5 246.8V260.5M1126.5 240.4V260.1M1127.5 245.7V260.1M1128.5 251.9V260.4M1129.5 247.4V257.8M1130.5 246.6V260M1131.5 248.4V258M1132.5 241.2V259.2M1133.5 244.3V260.4M1134.5 253.2V260.2M1135.5 254.7V260.3M1136.5 249.7V260.3M1137.5 251.1V259.8M1138.5 246.7V260.2M1139.5 236.7V260.3M1140.5 241.2V259.9M1141.5 240.9V259.6M1142.5 245V260.1M1143.5 245.6V260.3M1144.5 241.9V260.6M1145.5 250.1V259.7M1146.5 245.7V259.6M1147.5 249.3V260.4M1148.5 246.5V260.1M1149.5 249.8V260.2M1150.5 245.6V260.2M1151.5 249.7V260.8M1152.5 248.9V260.6M1153.5 241.7V258.4M1154.5 247V259.6M1155.5 252.3V260.6M1156.5 247.4V260M1157.5 248V260.3M1158.5 249V258.7M1159.5 246.7V260.3M1160.5 249.2V260.3M1161.5 249V259M1162.5 231.4V259.2M1163.5 245.5V260.2M1164.5 247.9V260.3M1165.5 243.4V260.4M1166.5 247.6V260.4M1167.5 247.2V260M1168.5 245.3V260.8M1169.5 236.1V259.7M1170.5 244.9V260.4M1171.5 250V260.7M1172.5 244.8V260.4M1173.5 245.8V259M1174.5 242.8V260.3M1175.5 245.5V259.2M1176.5 244.2V259.3M1177.5 250.6V260.3" stroke="#0000ff" stroke-width="1.15" fill="none"/>
<rect x="851" y="78" width="329" height="1" fill="#484848"/>
<rect x="851" y="78" width="2" height="184" fill="#727272"/>
<rect x="1178" y="78" width="2" height="184" fill="#6a6a6a"/>
<rect x="851" y="260" width="329" height="2" fill="#757575"/>
<text transform="translate(843.56 83.89) scale(1 1)" font-size="16.3" text-anchor="end">.4</text>
<text transform="translate(843.56 129.29) scale(1 1)" font-size="16.3" text-anchor="end">.3</text>
<text transform="translate(843.56 174.69) scale(1 1)" font-size="16.3" text-anchor="end">.2</text>
<text transform="translate(843.56 220.09) scale(1 1)" font-size="16.3" text-anchor="end">.1</text>
<text transform="translate(843.56 265.49) scale(1 1)" font-size="16.3" text-anchor="end">.0</text>
<text transform="translate(875.37 282.6) scale(1 1)" font-size="16.3" text-anchor="middle">00</text>
<text transform="translate(908.85 282.6) scale(1 1)" font-size="16.3" text-anchor="middle">02</text>
<text transform="translate(942.33 282.6) scale(1 1)" font-size="16.3" text-anchor="middle">04</text>
<text transform="translate(975.81 282.6) scale(1 1)" font-size="16.3" text-anchor="middle">06</text>
<text transform="translate(1009.29 282.6) scale(1 1)" font-size="16.3" text-anchor="middle">08</text>
<text transform="translate(1042.77 282.6) scale(1 1)" font-size="16.3" text-anchor="middle">10</text>
<text transform="translate(1076.25 282.6) scale(1 1)" font-size="16.3" text-anchor="middle">12</text>
<text transform="translate(1109.73 282.6) scale(1 1)" font-size="16.3" text-anchor="middle">14</text>
<text transform="translate(1143.21 282.6) scale(1 1)" font-size="16.3" text-anchor="middle">16</text>
<text transform="translate(1176.69 282.6) scale(1 1)" font-size="16.3" text-anchor="middle">18</text>
<path d="M846 79H851.5M846 124.4H851.5M846 169.8H851.5M846 215.2H851.5M846 260.6H851.5M867 260.6V266.6M883.74 260.6V266.6M900.48 260.6V266.6M917.22 260.6V266.6M933.96 260.6V266.6M950.7 260.6V266.6M967.44 260.6V266.6M984.18 260.6V266.6M1000.92 260.6V266.6M1017.66 260.6V266.6M1034.4 260.6V266.6M1051.14 260.6V266.6M1067.88 260.6V266.6M1084.62 260.6V266.6M1101.36 260.6V266.6M1118.1 260.6V266.6M1134.84 260.6V266.6M1151.58 260.6V266.6M1168.32 260.6V266.6" stroke="#555" stroke-width="1.3" fill="none"/>
<rect x="31.3" y="442.4" width="332.7" height="173.5" fill="#fff"/>
<text class="t" transform="scale(1.12 1)" x="92.59" y="424" font-size="17.5" textLength="165.69" lengthAdjust="spacing">yellow maize returns</text>
<path d="M32.5 493.7V504.3M33.5 486.7V509.1M34.5 461.8V559.2M35.5 494.7V507.3M36.5 490.5V507.1M37.5 492.6V506.9M38.5 492.3V509.9M39.5 496.6V506.3M40.5 493.6V504.7M41.5 493.7V508.9M42.5 494.2V503.8M43.5 490V508.1M44.5 496.9V509.3M45.5 489.1V510M46.5 497V509.2M47.5 496.5V504.6M48.5 496.8V505.1M49.5 496.3V506.1M50.5 496.4V512.7M51.5 484V508.1M52.5 489.9V505.4M53.5 489.9V502.3M54.5 494.4V504.7M55.5 495.9V505.4M56.5 494.1V504.1M57.5 495.7V509.2M58.5 496.9V506.4M59.5 490.8V506.8M60.5 493.8V505.8M61.5 493.3V505.8M62.5 493.6V504.4M63.5 494.9V509.3M64.5 493.9V504.6M65.5 494V505.4M66.5 494.5V506.7M67.5 489V505.4M68.5 491.7V507.3M69.5 489.2V504M70.5 484.3V508.7M71.5 490.8V513.2M72.5 492.3V508.7M73.5 486.8V505.3M74.5 495.4V507.2M75.5 491V504.1M76.5 493.4V510.5M77.5 493.2V510.5M78.5 490.1V509.7M79.5 495.6V507.1M80.5 470.4V507.6M81.5 492.2V505.9M82.5 495.6V513.4M83.5 492.6V537.8M84.5 494.5V527.4M85.5 492.6V512.7M86.5 494.4V506.7M87.5 487.3V509M88.5 489.6V502.6M89.5 485.9V508.3M90.5 480V507.5M91.5 489.7V508.3M92.5 493.1V508.3M93.5 488.6V506.9M94.5 491.3V505M95.5 488.7V501.9M96.5 482.4V506.9M97.5 490.5V511.7M98.5 482.7V523.4M99.5 492V520.2M100.5 476.8V509M101.5 479.7V509M102.5 491.3V514M103.5 493.2V518.9M104.5 493V505.7M105.5 492.6V513.7M106.5 494.7V508M107.5 488.8V512.7M108.5 491.8V516M109.5 491.8V509M110.5 492.8V507.1M111.5 493.4V507.7M112.5 491.8V509.4M113.5 496.2V508.1M114.5 492V510.4M115.5 489.9V505.6M116.5 492.6V504M117.5 479.7V508M118.5 485.3V527.4M119.5 493.8V510.4M120.5 488.7V506.2M121.5 493.5V508M122.5 493.4V511.7M123.5 490.5V511.7M124.5 489.7V509.4M125.5 485.6V512M126.5 495.1V513M127.5 491.6V513M128.5 490.3V511.8M129.5 483.7V510.7M130.5 488.5V525.7M131.5 494.5V525.7M132.5 493.7V507.3M133.5 479.6V522.2M134.5 485.9V511.8M135.5 487.2V516.4M136.5 490.5V521.2M137.5 492.4V517.6M138.5 487.7V512.9M139.5 492.1V513.9M140.5 488.1V505M141.5 494.7V503.3M142.5 495.7V506.4M143.5 497.6V509M144.5 493V507.8M145.5 492.6V508.5M146.5 495.7V505M147.5 484V505.2M148.5 489.7V507.8M149.5 490.4V505.9M150.5 496.1V506.4M151.5 493.1V507.3M152.5 495.1V504.1M153.5 492.4V504.9M154.5 496.5V504.9M155.5 492.5V508.5M156.5 494V507.5M157.5 491.8V514.1M158.5 491.4V509M159.5 496.8V510.3M160.5 496.9V504.5M161.5 496.7V505.3M162.5 491.5V503.8M163.5 491.6V508.1M164.5 491.9V532.6M165.5 495.5V503.5M166.5 495.5V510.5M167.5 495.5V507.5M168.5 493.3V509.3M169.5 494.4V504.3M170.5 488.2V510M171.5 482V511.7M172.5 481.3V506.8M173.5 484.4V504.6M174.5 493.5V512.4M175.5 488.5V508.1M176.5 495.2V506.2M177.5 493.4V502.6M178.5 491.7V507.9M179.5 495.9V505.6M180.5 491.6V504.7M181.5 476.8V505.3M182.5 490.7V507.5M183.5 492.8V507.4M184.5 491.5V506.8M185.5 492.7V507.2M186.5 483.7V513.1M187.5 483.7V507.1M188.5 485.6V515.5M189.5 494.2V505.1M190.5 494.4V506.3M191.5 494.2V504.4M192.5 495.4V506.8M193.5 493.8V506.8M194.5 487.8V514.8M195.5 495.4V511.7M196.5 490.5V505.1M197.5 495.3V506.3M198.5 491.6V510M199.5 493.9V508.1M200.5 492.2V510.5M201.5 488.5V508.5M202.5 493.1V509.3M203.5 483.8V506.2M204.5 490.1V509.8M205.5 494.8V507.1M206.5 492.2V506.1M207.5 495.6V504.4M208.5 491.9V508.2M209.5 492V510.1M210.5 494.3V510.4M211.5 489.1V518.4M212.5 492.4V510.3M213.5 492.4V509.3M214.5 493.3V505.5M215.5 493.3V508M216.5 493.4V506.4M217.5 492V509.3M218.5 491.4V505.6M219.5 494.3V508.2M220.5 495.3V510M221.5 488.6V513.1M222.5 490V507.1M223.5 491V505.2M224.5 496.5V507M225.5 492.3V507M226.5 494.7V504.8M227.5 495.9V507.6M228.5 489.4V503.9M229.5 489.4V509.4M230.5 491.2V504.6M231.5 490V506M232.5 491.9V506.7M233.5 491.5V508.3M234.5 491.5V507M235.5 493.4V510.8M236.5 490.6V510.8M237.5 495.9V509.9M238.5 495.2V507.9M239.5 494.6V507.8M240.5 494.9V503.6M241.5 489.5V511.8M242.5 494.4V508.2M243.5 494.4V505.8M244.5 493.3V509.9M245.5 494.2V506.7M246.5 491.1V507.4M247.5 495.3V504.9M248.5 495.6V504.4M249.5 494.4V503.2M250.5 493.5V505.5M251.5 492.5V507.2M252.5 496V504.5M253.5 489.7V505.5M254.5 491V533.8M255.5 497.5V511.1M256.5 493.2V504.6M257.5 495.3V508.7M258.5 491.2V504.7M259.5 485.9V504.4M260.5 495.2V509.9M261.5 495.4V507.6M262.5 492.9V508.7M263.5 492.9V505.3M264.5 492.6V507.7M265.5 492V507.7M266.5 494.4V507.9M267.5 496.6V509.4M268.5 494.6V505.6M269.5 488.5V505.3M270.5 493.3V511.2M271.5 494.8V509.4M272.5 490.6V505M273.5 493.7V506.2M274.5 497.3V506.6M275.5 495V507.3M276.5 494.3V503.5M277.5 487.2V509.7M278.5 488.6V507M279.5 494.9V505.7M280.5 487.9V509M281.5 488.7V512.4M282.5 492.2V511.5M283.5 493V526.8M284.5 492.1V507.3M285.5 495.5V512M286.5 489.2V508.7M287.5 495.2V603.5M288.5 491.6V506.5M289.5 492.8V505.6M290.5 497V506.3M291.5 497.6V508.7M292.5 492.1V509.3M293.5 494.6V502M294.5 491.1V509.2M295.5 489.9V514.1M296.5 489.9V506.1M297.5 494.6V507.8M298.5 494.1V506.9M299.5 491.7V511.5M300.5 491V510.6M301.5 495.6V505.6M302.5 492.6V506.3M303.5 491.1V507.6M304.5 493.1V508.2M305.5 493.5V504.8M306.5 491.9V506M307.5 495.9V511.9M308.5 493.8V512.8M309.5 492.4V510.8M310.5 489.9V505.8M311.5 487V507.6M312.5 489.2V506.8M313.5 491.1V509.3M314.5 493.9V506.4M315.5 495.6V506.5M316.5 490.6V508.3M317.5 490.8V502M318.5 492.5V506.3M319.5 493.3V510.2M320.5 493.2V502.6M321.5 481.4V503.7M322.5 494.1V510.2M323.5 493V506.8M324.5 495.4V506.9M325.5 496.7V504.6M326.5 492V507.2M327.5 495.2V507.2M328.5 496.8V504.7M329.5 494V504M330.5 494V506M331.5 491V507.1M332.5 489.9V504.9M333.5 489.9V507.9M334.5 491.5V508.8M335.5 487.6V509.1M336.5 479.1V509.3M337.5 486.6V526.8M338.5 485.8V513.1M339.5 491.2V530.9M340.5 495.5V507.2M341.5 485.5V506.7M342.5 491.9V505M343.5 493.4V510M344.5 487.6V508.6M345.5 484.6V511M346.5 482.9V507.8M347.5 490.8V508.9M348.5 493.7V509.4M349.5 488.8V511.6M350.5 484.8V511.4M351.5 489.7V506.9M352.5 495.7V509M353.5 494.4V510.3M354.5 493.5V506.8M355.5 493.8V511.2M356.5 493.3V510.7M357.5 492.6V507.5M358.5 492.6V505.5M359.5 490.6V504.6M360.5 490.1V505.8M361.5 496.8V506.6M362.5 494.7V505.9" stroke="#5656ff" stroke-width="1.4" fill="none"/><path d="M32.5 494.9V503.8M33.5 489.1V507M34.5 493.4V507.6M35.5 495.3V505.5M36.5 491.1V505.7M37.5 494.7V506.9M38.5 492.9V506.1M39.5 496.8V505.6M40.5 494.3V504.2M41.5 494.7V507.6M42.5 495.7V503M43.5 491.4V507.3M44.5 497.1V508.7M45.5 493.2V507.7M46.5 497.1V507M47.5 496.9V504.5M48.5 497.1V504.2M49.5 496.9V505.3M50.5 496.7V509.5M51.5 490.3V504.4M52.5 493.8V505.1M53.5 494.3V501.6M54.5 494.9V504.2M55.5 496V504.3M56.5 495.2V504.1M57.5 496V508.7M58.5 497.8V506.2M59.5 493.1V505.9M60.5 494.8V504.9M61.5 494.5V504.1M62.5 494.6V503.7M63.5 495.1V506.9M64.5 495.5V503.4M65.5 494.9V504.8M66.5 495.3V505.3M67.5 490.5V505.1M68.5 492V506.5M69.5 489.4V503.4M70.5 496.2V506.1M71.5 490.9V512.6M72.5 493.3V507.2M73.5 490.1V504.8M74.5 495.6V506.4M75.5 491.3V503.9M76.5 495.6V509.4M77.5 493.2V504.6M78.5 493.5V505.9M79.5 496V505.8M80.5 492.4V506M81.5 493.2V505.7M82.5 495.7V508.6M83.5 494V505.6M84.5 495.1V509.1M85.5 494.5V509.1M86.5 494.5V505.5M87.5 488.6V508.8M88.5 491.2V502.2M89.5 489.1V507.3M90.5 481.6V507.4M91.5 490V507.8M92.5 494.8V508.1M93.5 492.6V506.2M94.5 493.4V504.3M95.5 490.1V501.8M96.5 486.9V506.4M97.5 492.1V509.8M98.5 485.2V522.7M99.5 494.1V516.5M100.5 491.3V506.7M101.5 497.5V507.1M102.5 492.9V513.7M103.5 494.5V516.2M104.5 494.4V505.1M105.5 493.7V511.5M106.5 495V507.8M107.5 491.6V508.1M108.5 493.1V513.1M109.5 493.7V508.8M110.5 493.1V506.1M111.5 494.4V506.5M112.5 494.1V505.9M113.5 496.9V507.2M114.5 493V508.9M115.5 492.9V505.6M116.5 494.8V503.9M117.5 491.1V507.2M118.5 487V506.6M119.5 495.3V508.6M120.5 492.3V505.6M121.5 493.8V506.4M122.5 494.5V510.3M123.5 492.5V510.5M124.5 490.5V505.2M125.5 489.2V511M126.5 495.4V509.3M127.5 492.4V508.1M128.5 492.5V511.3M129.5 486.4V508.1M130.5 491.2V505.6M131.5 495.2V505.6M132.5 494.1V507.3M133.5 480.6V507.2M134.5 494.8V510.1M135.5 487.6V512.4M136.5 491.8V514.2M137.5 492.5V515.6M138.5 488.9V508.8M139.5 492.9V511.4M140.5 488.3V504.2M141.5 495.4V503.2M142.5 496.3V503.8M143.5 498.1V507.2M144.5 495.3V507.6M145.5 492.9V506.1M146.5 496.8V504.2M147.5 494V504.7M148.5 490.9V506.8M149.5 492.1V504.7M150.5 497.3V505M151.5 495.7V507.2M152.5 496.2V503.5M153.5 492.6V503.9M154.5 496.6V502.5M155.5 492.7V507.5M156.5 494.3V507.1M157.5 494.4V511.4M158.5 492V507.9M159.5 496.8V506.6M160.5 496.9V504.3M161.5 497.2V505.1M162.5 492.8V502.8M163.5 493.2V507M164.5 493.1V507.5M165.5 495.6V503.4M166.5 495.5V508.6M167.5 497V506.7M168.5 494.1V508M169.5 494.4V503.8M170.5 490.8V509.6M171.5 487.4V510.8M172.5 488.4V506M173.5 486.2V504.4M174.5 494.1V511.7M175.5 491.9V507.4M176.5 495.5V505.8M177.5 493.6V501.4M178.5 493.5V506.9M179.5 496.6V504.7M180.5 494.9V504.2M181.5 494V504.3M182.5 493.6V505.5M183.5 493.1V505.9M184.5 492.5V505.9M185.5 494.6V506.5M186.5 489.3V512.8M187.5 490.7V506.2M188.5 489.4V510.1M189.5 494.5V504.4M190.5 496.7V505.8M191.5 494.3V503.7M192.5 495.7V505.8M193.5 494.8V506.6M194.5 488V509.1M195.5 496V510.6M196.5 491.4V503.9M197.5 495.5V506.2M198.5 492.9V507.8M199.5 495.9V506.3M200.5 494.6V509.6M201.5 491.1V507.9M202.5 494.4V506.8M203.5 487.3V505.7M204.5 492.3V509M205.5 495.7V506.4M206.5 492.7V504.7M207.5 496.1V504.1M208.5 494.9V507.6M209.5 493.5V508.1M210.5 494.5V508.6M211.5 492.5V512M212.5 492.6V507.1M213.5 494.7V509M214.5 495.2V505.1M215.5 497.2V506.8M216.5 494.1V506.4M217.5 493.4V508.6M218.5 492.6V505.3M219.5 495.6V507.7M220.5 495.8V509M221.5 489.4V509.6M222.5 497.8V505.9M223.5 493.6V504.6M224.5 496.5V505.2M225.5 493.1V502.6M226.5 495.2V504.4M227.5 495.9V507.4M228.5 491.6V503.8M229.5 494.1V508.8M230.5 492.6V504.4M231.5 491.1V505.8M232.5 494V504.6M233.5 492.8V507.9M234.5 491.7V506.2M235.5 494.9V508.1M236.5 494.5V504.1M237.5 496V508.8M238.5 495.5V506.5M239.5 496V506.5M240.5 496.1V503.3M241.5 492.2V508.7M242.5 495.6V507.8M243.5 496.3V505.1M244.5 493.8V507.1M245.5 495.5V505.7M246.5 493.3V506.6M247.5 496V504.3M248.5 496.2V504M249.5 494.8V502.4M250.5 494.7V504.1M251.5 493.2V506.6M252.5 496V504.5M253.5 491.2V504.9M254.5 493.6V507.9M255.5 497.9V507.4M256.5 493.5V503.8M257.5 496.6V505.9M258.5 492.8V503.2M259.5 490.2V503.8M260.5 495.3V509.3M261.5 496V506.5M262.5 493.8V507.6M263.5 495.5V505.1M264.5 494.1V506.8M265.5 492V502.7M266.5 495.6V507.6M267.5 497.2V508.6M268.5 494.7V505.4M269.5 492V504.6M270.5 494.8V508M271.5 495.5V508.3M272.5 494V503.2M273.5 493.8V504.9M274.5 497.4V505.8M275.5 495.7V506.4M276.5 494.5V503.4M277.5 490.4V507.3M278.5 492.6V506.9M279.5 496.3V505.4M280.5 489.3V508.9M281.5 489.8V512.3M282.5 493.1V510.8M283.5 495.1V508.7M284.5 493.6V507M285.5 497V511.9M286.5 490.8V506.2M287.5 495.6V508.3M288.5 492.8V506.4M289.5 493.3V505.5M290.5 497.4V505.7M291.5 498V506M292.5 493.8V508.8M293.5 495.2V501.8M294.5 494.1V506.6M295.5 491.5V511.1M296.5 492.3V505.5M297.5 495.6V506.5M298.5 495.9V506.1M299.5 492.5V509.9M300.5 491.9V507.9M301.5 496V505.6M302.5 496.1V505.2M303.5 493.3V507M304.5 494.5V507.6M305.5 494.6V504.3M306.5 493V505.4M307.5 496.7V509.7M308.5 495.5V508M309.5 493.6V508.7M310.5 490V504.8M311.5 488.2V505.8M312.5 495.7V506.5M313.5 493.1V508.1M314.5 494.6V505.1M315.5 495.8V504.8M316.5 492.4V505.8M317.5 492.2V501.3M318.5 494.3V505.4M319.5 495.3V508.1M320.5 493.8V502.2M321.5 494.1V503.3M322.5 494.5V509M323.5 493.6V506.1M324.5 495.8V504.7M325.5 497.6V503.6M326.5 493.3V507M327.5 495.8V503.8M328.5 498.2V504.5M329.5 494.2V503.7M330.5 494.2V505.4M331.5 492.7V505.8M332.5 492.3V504.9M333.5 493.9V506.9M334.5 493.6V507.3M335.5 492V508.8M336.5 493.8V508.2M337.5 489.7V505.2M338.5 488.9V509.5M339.5 493.8V506M340.5 496.2V506.7M341.5 494.5V506.5M342.5 493V504.2M343.5 493.5V507.5M344.5 489.1V506.8M345.5 488.2V509.7M346.5 486.4V507.6M347.5 491.7V508.3M348.5 494.5V508.7M349.5 491.9V510.1M350.5 491.3V510.7M351.5 491.6V504M352.5 496.1V506.9M353.5 494.5V506.7M354.5 493.8V505.9M355.5 493.8V510.9M356.5 493.3V508M357.5 495.4V505.8M358.5 496.2V505.4M359.5 494.1V504.6M360.5 490.1V505.3M361.5 498.1V506.5M362.5 495.4V505.8" stroke="#0000ff" stroke-width="1.15" fill="none"/>
<rect x="30" y="442" width="335" height="1" fill="#484848"/>
<rect x="30" y="442" width="2" height="175" fill="#727272"/>
<rect x="363" y="442" width="2" height="175" fill="#6a6a6a"/>
<rect x="30" y="615" width="335" height="2" fill="#757575"/>
<text transform="translate(22.66 447.55) scale(1 1)" font-size="15.6" text-anchor="end">.2</text>
<text transform="translate(22.66 476.46) scale(1 1)" font-size="15.6" text-anchor="end">.1</text>
<text transform="translate(22.66 505.38) scale(1 1)" font-size="15.6" text-anchor="end">.0</text>
<text transform="translate(22.55 534.3) scale(1 1)" font-size="15.6" text-anchor="end">-.1</text>
<text transform="translate(22.55 563.21) scale(1 1)" font-size="15.6" text-anchor="end">-.2</text>
<text transform="translate(22.55 592.13) scale(1 1)" font-size="15.6" text-anchor="end">-.3</text>
<text transform="translate(22.55 621.05) scale(1 1)" font-size="15.6" text-anchor="end">-.4</text>
<text transform="translate(56.25 637.5) scale(1 1)" font-size="15.6" text-anchor="middle">00</text>
<text transform="translate(90.05 637.5) scale(1 1)" font-size="15.6" text-anchor="middle">02</text>
<text transform="translate(123.85 637.5) scale(1 1)" font-size="15.6" text-anchor="middle">04</text>
<text transform="translate(157.65 637.5) scale(1 1)" font-size="15.6" text-anchor="middle">06</text>
<text transform="translate(191.45 637.5) scale(1 1)" font-size="15.6" text-anchor="middle">08</text>
<text transform="translate(225.25 637.5) scale(1 1)" font-size="15.6" text-anchor="middle">10</text>
<text transform="translate(259.05 637.5) scale(1 1)" font-size="15.6" text-anchor="middle">12</text>
<text transform="translate(292.85 637.5) scale(1 1)" font-size="15.6" text-anchor="middle">14</text>
<text transform="translate(326.65 637.5) scale(1 1)" font-size="15.6" text-anchor="middle">16</text>
<text transform="translate(360.45 637.5) scale(1 1)" font-size="15.6" text-anchor="middle">18</text>
<path d="M25.8 442.4H31.3M25.8 471.32H31.3M25.8 500.23H31.3M25.8 529.15H31.3M25.8 558.07H31.3M25.8 586.98H31.3M25.8 615.9H31.3M47.8 615.9V621.9M64.7 615.9V621.9M81.6 615.9V621.9M98.5 615.9V621.9M115.4 615.9V621.9M132.3 615.9V621.9M149.2 615.9V621.9M166.1 615.9V621.9M183 615.9V621.9M199.9 615.9V621.9M216.8 615.9V621.9M233.7 615.9V621.9M250.6 615.9V621.9M267.5 615.9V621.9M284.4 615.9V621.9M301.3 615.9V621.9M318.2 615.9V621.9M335.1 615.9V621.9M352 615.9V621.9" stroke="#555" stroke-width="1.3" fill="none"/>
<rect x="443.5" y="442.4" width="331.9" height="173.5" fill="#fff"/>
<text class="t" transform="scale(1.12 1)" x="423.48" y="424" font-size="17.5" textLength="239.38" lengthAdjust="spacing">yellow maize returns squared</text>
<path d="M444.5 613.3V616.2M445.5 596.7V616.2M446.5 570.9V616.2M447.5 614.7V616.2M448.5 614.4V616.2M449.5 614.8V616.2M450.5 614.5V616.2M451.5 615.3V616.2M452.5 614.7V616.2M453.5 615.1V616.2M454.5 614.3V616.2M455.5 614.6V616.2M456.5 614.1V616.2M457.5 614.4V616.2M458.5 615.3V616.2M459.5 615.3V616.2M460.5 615.4V616.2M461.5 615.2V616.2M462.5 612.3V616.2M463.5 614.8V616.2M464.5 614.3V616.2M465.5 615.2V616.2M466.5 615.3V616.2M467.5 615.2V616.2M468.5 614.8V616.2M469.5 614.6V616.2M470.5 615.2V616.2M471.5 614.5V616.2M472.5 615V616.2M473.5 615.1V616.2M474.5 615.1V616.2M475.5 614.6V616.2M476.5 615.1V616.2M477.5 615.1V616.2M478.5 614V616.2M479.5 614.7V616.2M480.5 614.7V616.2M481.5 612.4V616.2M482.5 613.9V616.2M483.5 613.5V616.2M484.5 614.8V616.2M485.5 613.4V616.2M486.5 614.9V616.2M487.5 614.6V616.2M488.5 614.3V616.2M489.5 615V616.2M490.5 614.4V616.2M491.5 604.3V616.2M492.5 614.8V616.2M493.5 613.5V616.2M494.5 615.3V616.2M495.5 597.6V616.2M496.5 614.6V616.2M497.5 613.7V616.2M498.5 614.4V616.2M499.5 613.5V616.2M500.5 614.2V616.2M501.5 610.4V616.2M502.5 611.9V616.2M503.5 614.2V616.2M504.5 613.9V616.2M505.5 615.1V616.2M506.5 614.6V616.2M507.5 614V616.2M508.5 611.6V616.2M509.5 612.4V616.2M510.5 608.8V616.2M511.5 610.6V616.2M512.5 608.7V616.2M513.5 610.3V616.2M514.5 613.3V616.2M515.5 611.2V616.2M516.5 613.3V616.2M517.5 614.9V616.2M518.5 614.9V616.2M519.5 613.7V616.2M520.5 612.5V616.2M521.5 614.7V616.2M522.5 614.9V616.2M523.5 614.6V616.2M524.5 615.3V616.2M525.5 614.8V616.2M526.5 614.3V616.2M527.5 614.3V616.2M528.5 614.9V616.2M529.5 606.2V616.2M530.5 606.2V616.2M531.5 614.3V616.2M532.5 614V616.2M533.5 614.9V616.2M534.5 614V616.2M535.5 614.1V616.2M536.5 614.4V616.2M537.5 612.9V616.2M538.5 613.6V616.2M539.5 614.4V616.2M540.5 613.9V616.2M541.5 612.2V616.2M542.5 607.4V616.2M543.5 615V616.2M544.5 609.5V616.2M545.5 610.2V616.2M546.5 613.5V616.2M547.5 612.3V616.2M548.5 610.1V616.2M549.5 613.4V616.2M550.5 613.3V616.2M551.5 614.6V616.2M552.5 613.8V616.2M553.5 615.2V616.2M554.5 614.7V616.2M555.5 615V616.2M556.5 614.8V616.2M557.5 614.9V616.2M558.5 615.2V616.2M559.5 612.3V616.2M560.5 614.3V616.2M561.5 614.4V616.2M562.5 615.1V616.2M563.5 615V616.2M564.5 615.4V616.2M565.5 614.9V616.2M566.5 614.8V616.2M567.5 614.9V616.2M568.5 614.7V616.2M569.5 613.2V616.2M570.5 614.7V616.2M571.5 614.4V616.2M572.5 615.4V616.2M573.5 615.3V616.2M574.5 614.7V616.2M575.5 614.7V616.2M576.5 602.2V616.2M577.5 615.3V616.2M578.5 614.3V616.2M579.5 614.6V616.2M580.5 614.6V616.2M581.5 615.2V616.2M582.5 613.8V616.2M583.5 611.4V616.2M584.5 611.1V616.2M585.5 612.5V616.2M586.5 613.8V616.2M587.5 613.9V616.2M588.5 615.1V616.2M589.5 615.1V616.2M590.5 614.7V616.2M591.5 615.3V616.2M592.5 614.7V616.2M593.5 608.7V616.2M594.5 614.5V616.2M595.5 614.9V616.2M596.5 614.7V616.2M597.5 613.7V616.2M598.5 612.2V616.2M599.5 612.7V616.2M600.5 612.7V616.2M601.5 615.2V616.2M602.5 615.2V616.2M603.5 615.2V616.2M604.5 615.1V616.2M605.5 615.1V616.2M606.5 613V616.2M607.5 614V616.2M608.5 614.5V616.2M609.5 614.4V616.2M610.5 614.4V616.2M611.5 614.3V616.2M612.5 614.7V616.2M613.5 613.9V616.2M614.5 614.6V616.2M615.5 612.2V616.2M616.5 614.4V616.2M617.5 615V616.2M618.5 614.8V616.2M619.5 615.4V616.2M620.5 614.8V616.2M621.5 614.4V616.2M622.5 611.4V616.2M623.5 614.1V616.2M624.5 614.4V616.2M625.5 614.6V616.2M626.5 615V616.2M627.5 614.9V616.2M628.5 615V616.2M629.5 614.6V616.2M630.5 614.6V616.2M631.5 614.8V616.2M632.5 614.4V616.2M633.5 613.6V616.2M634.5 615V616.2M635.5 614.6V616.2M636.5 615.1V616.2M637.5 614.8V616.2M638.5 615.2V616.2M639.5 615V616.2M640.5 614.2V616.2M641.5 614.6V616.2M642.5 614.3V616.2M643.5 614.3V616.2M644.5 614.9V616.2M645.5 614.7V616.2M646.5 614.7V616.2M647.5 614.2V616.2M648.5 614.5V616.2M649.5 614.5V616.2M650.5 614.9V616.2M651.5 614.9V616.2M652.5 615.3V616.2M653.5 614V616.2M654.5 614.8V616.2M655.5 615.2V616.2M656.5 614.5V616.2M657.5 615.1V616.2M658.5 614.6V616.2M659.5 615.3V616.2M660.5 615.3V616.2M661.5 615.2V616.2M662.5 615.1V616.2M663.5 614.9V616.2M664.5 615.4V616.2M665.5 614.2V616.2M666.5 601.3V616.2M667.5 614.1V616.2M668.5 615V616.2M669.5 614.7V616.2M670.5 614.6V616.2M671.5 613.1V616.2M672.5 614.5V616.2M673.5 614.9V616.2M674.5 614.7V616.2M675.5 615.3V616.2M676.5 614.9V616.2M677.5 614.8V616.2M678.5 614.9V616.2M679.5 614.6V616.2M680.5 615.2V616.2M681.5 613.9V616.2M682.5 614.1V616.2M683.5 614.6V616.2M684.5 614.5V616.2M685.5 615.1V616.2M686.5 615.1V616.2M687.5 615V616.2M688.5 615.2V616.2M689.5 613.5V616.2M690.5 613.9V616.2M691.5 615.3V616.2M692.5 613.7V616.2M693.5 613.8V616.2M694.5 614V616.2M695.5 606.6V616.2M696.5 614.8V616.2M697.5 613.9V616.2M698.5 614.1V616.2M699.5 478.2V616.2M700.5 614.7V616.2M701.5 614.9V616.2M702.5 614.9V616.2M703.5 614.7V616.2M704.5 614.6V616.2M705.5 615.2V616.2M706.5 614.6V616.2M707.5 613.2V616.2M708.5 614.3V616.2M709.5 614.9V616.2M710.5 615.1V616.2M711.5 614V616.2M712.5 614.3V616.2M713.5 615.3V616.2M714.5 615.2V616.2M715.5 614.6V616.2M716.5 614.8V616.2M717.5 615.1V616.2M718.5 614.8V616.2M719.5 613.9V616.2M720.5 613.7V616.2M721.5 614.2V616.2M722.5 614.3V616.2M723.5 613.4V616.2M724.5 614.1V616.2M725.5 614.6V616.2M726.5 615.1V616.2M727.5 615.1V616.2M728.5 614.5V616.2M729.5 614.5V616.2M730.5 614.9V616.2M731.5 614.4V616.2M732.5 615V616.2M733.5 611.2V616.2M734.5 611.2V616.2M735.5 615V616.2M736.5 615.1V616.2M737.5 615.4V616.2M738.5 614.8V616.2M739.5 615V616.2M740.5 615.4V616.2M741.5 615.1V616.2M742.5 615.1V616.2M743.5 614.6V616.2M744.5 615.2V616.2M745.5 614.3V616.2M746.5 614.7V616.2M747.5 614.6V616.2M748.5 610V616.2M749.5 606.6V616.2M750.5 613V616.2M751.5 603.6V616.2M752.5 615V616.2M753.5 612.9V616.2M754.5 612.9V616.2M755.5 614.4V616.2M756.5 613.6V616.2M757.5 614.2V616.2M758.5 611.9V616.2M759.5 614.7V616.2M760.5 614.5V616.2M761.5 614V616.2M762.5 612.6V616.2M763.5 614.2V616.2M764.5 614.7V616.2M765.5 614.4V616.2M766.5 614.4V616.2M767.5 614.1V616.2M768.5 614.1V616.2M769.5 615V616.2M770.5 614.9V616.2M771.5 614.5V616.2M772.5 614.3V616.2M773.5 615.1V616.2M774.5 615.4V616.2" stroke="#5656ff" stroke-width="1.4" fill="none"/><path d="M444.5 613.7V616.2M445.5 614.6V616.2M446.5 614.9V616.2M447.5 615V616.2M448.5 614.7V616.2M449.5 615V616.2M450.5 614.8V616.2M451.5 615.4V616.2M452.5 614.9V616.2M453.5 615.1V616.2M454.5 614.6V616.2M455.5 614.7V616.2M456.5 614.7V616.2M457.5 614.5V616.2M458.5 615.4V616.2M459.5 615.4V616.2M460.5 615.5V616.2M461.5 615.3V616.2M462.5 613.7V616.2M463.5 615V616.2M464.5 614.8V616.2M465.5 615.2V616.2M466.5 615.3V616.2M467.5 615.3V616.2M468.5 615.1V616.2M469.5 615V616.2M470.5 615.2V616.2M471.5 614.8V616.2M472.5 615.1V616.2M473.5 615.2V616.2M474.5 615.3V616.2M475.5 615V616.2M476.5 615.1V616.2M477.5 615.2V616.2M478.5 614.7V616.2M479.5 614.7V616.2M480.5 614.8V616.2M481.5 614.2V616.2M482.5 614.3V616.2M483.5 614.1V616.2M484.5 614.9V616.2M485.5 614.2V616.2M486.5 615.1V616.2M487.5 614.6V616.2M488.5 614.7V616.2M489.5 615V616.2M490.5 614.4V616.2M491.5 615V616.2M492.5 614.9V616.2M493.5 614.2V616.2M494.5 615.3V616.2M495.5 614.9V616.2M496.5 614.6V616.2M497.5 614.4V616.2M498.5 614.5V616.2M499.5 613.9V616.2M500.5 614.6V616.2M501.5 611.8V616.2M502.5 613.3V616.2M503.5 614.6V616.2M504.5 614.5V616.2M505.5 615.3V616.2M506.5 614.6V616.2M507.5 614.2V616.2M508.5 613.2V616.2M509.5 613.1V616.2M510.5 609.2V616.2M511.5 612.3V616.2M512.5 614.8V616.2M513.5 614.3V616.2M514.5 614V616.2M515.5 612.3V616.2M516.5 614V616.2M517.5 615V616.2M518.5 614.9V616.2M519.5 613.8V616.2M520.5 613.5V616.2M521.5 614.9V616.2M522.5 615V616.2M523.5 614.7V616.2M524.5 615.4V616.2M525.5 614.8V616.2M526.5 614.7V616.2M527.5 614.8V616.2M528.5 614.9V616.2M529.5 613.4V616.2M530.5 614.7V616.2M531.5 614.7V616.2M532.5 614.6V616.2M533.5 615V616.2M534.5 614.3V616.2M535.5 614.2V616.2M536.5 614.5V616.2M537.5 613.5V616.2M538.5 614.3V616.2M539.5 614.5V616.2M540.5 614.1V616.2M541.5 613.1V616.2M542.5 614.6V616.2M543.5 615.1V616.2M544.5 614.8V616.2M545.5 610.8V616.1M546.5 613.8V616.2M547.5 613.1V616.2M548.5 611V616.2M549.5 614.2V616.2M550.5 613.5V616.2M551.5 614.7V616.2M552.5 613.8V616.2M553.5 615.4V616.2M554.5 614.9V616.2M555.5 615.1V616.2M556.5 614.9V616.2M557.5 615.2V616.2M558.5 615.3V616.2M559.5 614.7V616.2M560.5 614.8V616.2M561.5 614.8V616.2M562.5 615.3V616.2M563.5 615V616.2M564.5 615.4V616.2M565.5 614.9V616.2M566.5 615.1V616.2M567.5 614.9V616.2M568.5 614.8V616.2M569.5 614V616.2M570.5 614.7V616.2M571.5 615V616.2M572.5 615.4V616.2M573.5 615.4V616.2M574.5 614.8V616.2M575.5 615V616.2M576.5 614.8V616.2M577.5 615.4V616.2M578.5 614.7V616.2M579.5 614.8V616.2M580.5 615.2V616.2M581.5 615.2V616.2M582.5 614.2V616.1M583.5 612.9V616.2M584.5 613.4V616.2M585.5 613.1V616.2M586.5 614V616.2M587.5 614.4V616.2M588.5 615.1V616.2M589.5 615.2V616.2M590.5 614.8V616.2M591.5 615.3V616.2M592.5 614.9V616.2M593.5 615.1V616.2M594.5 614.9V616.2M595.5 615V616.2M596.5 614.9V616.2M597.5 614.4V616.2M598.5 612.9V616.2M599.5 613.5V616.2M600.5 614V616.2M601.5 615.3V616.2M602.5 615.2V616.2M603.5 615.2V616.2M604.5 615.2V616.2M605.5 615.1V616.2M606.5 613.4V616.2M607.5 614.4V616.2M608.5 614.6V616.2M609.5 614.9V616.2M610.5 614.9V616.2M611.5 614.6V616.2M612.5 614.8V616.2M613.5 614.4V616.2M614.5 614.8V616.2M615.5 613.3V616.1M616.5 614.5V616.2M617.5 615.1V616.2M618.5 614.9V616.2M619.5 615.4V616.2M620.5 614.8V616.2M621.5 614.6V616.2M622.5 613.1V616.2M623.5 614.6V616.2M624.5 614.6V616.2M625.5 614.7V616.2M626.5 615.2V616.2M627.5 615V616.2M628.5 615.1V616.2M629.5 614.7V616.2M630.5 615V616.2M631.5 614.9V616.2M632.5 614.6V616.2M633.5 613.8V616.2M634.5 615.2V616.2M635.5 615V616.2M636.5 615.3V616.2M637.5 615V616.2M638.5 615.3V616.2M639.5 615V616.2M640.5 614.5V616.2M641.5 614.7V616.2M642.5 614.5V616.2M643.5 614.8V616.2M644.5 615V616.2M645.5 614.8V616.2M646.5 614.7V616.2M647.5 614.8V616.2M648.5 614.9V616.2M649.5 614.7V616.2M650.5 615.1V616.2M651.5 615.1V616.2M652.5 615.4V616.2M653.5 614.1V616.2M654.5 614.9V616.2M655.5 615.2V616.2M656.5 614.8V616.2M657.5 615.1V616.2M658.5 614.8V616.2M659.5 615.4V616.2M660.5 615.3V616.2M661.5 615.3V616.2M662.5 615.2V616.2M663.5 615V616.2M664.5 615.4V616.2M665.5 614.6V616.2M666.5 614.3V616.2M667.5 615V616.2M668.5 615.1V616.2M669.5 615.1V616.2M670.5 614.9V616.2M671.5 614.2V616.2M672.5 614.6V616.2M673.5 615V616.2M674.5 614.9V616.2M675.5 615.3V616.2M676.5 614.9V616.2M677.5 614.8V616.2M678.5 614.9V616.2M679.5 614.7V616.2M680.5 615.2V616.2M681.5 614.7V616.2M682.5 614.6V616.2M683.5 614.8V616.2M684.5 615V616.2M685.5 615.1V616.2M686.5 615.2V616.2M687.5 615.1V616.2M688.5 615.2V616.2M689.5 614.1V616.2M690.5 614.6V616.2M691.5 615.3V616.2M692.5 614.1V616.2M693.5 613.8V616.2M694.5 614.2V616.2M695.5 614.5V616.2M696.5 614.9V616.2M697.5 613.9V616.2M698.5 614.5V616.2M699.5 614.6V616.2M700.5 614.9V616.2M701.5 615V616.2M702.5 615.3V616.2M703.5 615.1V616.2M704.5 614.7V616.2M705.5 615.3V616.2M706.5 614.6V616.2M707.5 613.8V616.2M708.5 614.8V616.2M709.5 615.1V616.2M710.5 615.1V616.2M711.5 614.4V616.2M712.5 614.4V616.2M713.5 615.3V616.2M714.5 615.3V616.2M715.5 614.8V616.2M716.5 614.9V616.2M717.5 615.2V616.2M718.5 615V616.2M719.5 614.5V616.2M720.5 614.5V616.2M721.5 614.6V616.2M722.5 614.3V616.2M723.5 614.3V616.2M724.5 614.7V616.2M725.5 614.6V616.2M726.5 615.1V616.2M727.5 615.3V616.2M728.5 614.7V616.2M729.5 614.8V616.2M730.5 615V616.2M731.5 614.8V616.2M732.5 615.2V616.2M733.5 615.2V616.2M734.5 614.6V616.2M735.5 615V616.2M736.5 615.2V616.2M737.5 615.4V616.2M738.5 614.9V616.2M739.5 615.2V616.2M740.5 615.4V616.2M741.5 615.2V616.2M742.5 615.2V616.2M743.5 614.8V616.2M744.5 615.2V616.2M745.5 614.5V616.2M746.5 614.7V616.2M747.5 614.7V616.2M748.5 614.1V616.2M749.5 615V616.2M750.5 613.2V616.2M751.5 614.9V616.2M752.5 615.1V616.2M753.5 615.1V616.2M754.5 615V616.2M755.5 614.8V616.2M756.5 614.1V616.2M757.5 614.4V616.2M758.5 612.2V616.2M759.5 614.8V616.2M760.5 614.6V616.2M761.5 614.4V616.2M762.5 613.4V616.2M763.5 614.6V616.2M764.5 615V616.2M765.5 614.8V616.2M766.5 615.1V616.2M767.5 614.4V616.2M768.5 614.5V616.2M769.5 615.2V616.2M770.5 615.1V616.2M771.5 615V616.2M772.5 614.4V616.2M773.5 615.1V616.2M774.5 615.4V616.2" stroke="#0000ff" stroke-width="1.15" fill="none"/>
<rect x="443" y="442" width="333" height="1" fill="#484848"/>
<rect x="443" y="442" width="2" height="175" fill="#727272"/>
<rect x="774" y="442" width="2" height="175" fill="#6a6a6a"/>
<rect x="443" y="615" width="333" height="2" fill="#757575"/>
<text transform="translate(434.8 447.55) scale(1 1)" font-size="15.6" text-anchor="end">.16</text>
<text transform="translate(434.8 490.92) scale(1 1)" font-size="15.6" text-anchor="end">.12</text>
<text transform="translate(434.8 534.3) scale(1 1)" font-size="15.6" text-anchor="end">.08</text>
<text transform="translate(434.8 577.67) scale(1 1)" font-size="15.6" text-anchor="end">.04</text>
<text transform="translate(434.8 621.05) scale(1 1)" font-size="15.6" text-anchor="end">.00</text>
<text transform="translate(467.86 637.5) scale(1 1)" font-size="15.6" text-anchor="middle">00</text>
<text transform="translate(501.72 637.5) scale(1 1)" font-size="15.6" text-anchor="middle">02</text>
<text transform="translate(535.59 637.5) scale(1 1)" font-size="15.6" text-anchor="middle">04</text>
<text transform="translate(569.44 637.5) scale(1 1)" font-size="15.6" text-anchor="middle">06</text>
<text transform="translate(603.3 637.5) scale(1 1)" font-size="15.6" text-anchor="middle">08</text>
<text transform="translate(637.16 637.5) scale(1 1)" font-size="15.6" text-anchor="middle">10</text>
<text transform="translate(671.02 637.5) scale(1 1)" font-size="15.6" text-anchor="middle">12</text>
<text transform="translate(704.88 637.5) scale(1 1)" font-size="15.6" text-anchor="middle">14</text>
<text transform="translate(738.74 637.5) scale(1 1)" font-size="15.6" text-anchor="middle">16</text>
<text transform="translate(772.61 637.5) scale(1 1)" font-size="15.6" text-anchor="middle">18</text>
<path d="M438 442.4H443.5M438 485.77H443.5M438 529.15H443.5M438 572.52H443.5M438 615.9H443.5M459.4 615.9V621.9M476.33 615.9V621.9M493.26 615.9V621.9M510.19 615.9V621.9M527.12 615.9V621.9M544.05 615.9V621.9M560.98 615.9V621.9M577.91 615.9V621.9M594.84 615.9V621.9M611.77 615.9V621.9M628.7 615.9V621.9M645.63 615.9V621.9M662.56 615.9V621.9M679.49 615.9V621.9M696.42 615.9V621.9M713.35 615.9V621.9M730.28 615.9V621.9M747.21 615.9V621.9M764.14 615.9V621.9" stroke="#555" stroke-width="1.3" fill="none"/>
<rect x="854.5" y="442.4" width="332.8" height="173.5" fill="#fff"/>
<text class="t" transform="scale(1.12 1)" x="788.39" y="424" font-size="17.5" textLength="243.56" lengthAdjust="spacing">yellow maize absolute returns</text>
<path d="M855.5 594.5V612.5M856.5 606.2V615.8M857.5 558.3V616.2M858.5 527.5V615.9M859.5 602.9V616.1M860.5 601.5V616M861.5 604.2V616.1M862.5 601.5V615.9M863.5 608.8V615.9M864.5 603.1V615.9M865.5 606.3V615.9M866.5 600.8V615.7M867.5 600.8V615.9M868.5 599.4V615.5M869.5 601.4V616M870.5 608.5V616.2M871.5 608.8V615.6M872.5 609.5V616.2M873.5 607.2V616.1M874.5 591.7V616.1M875.5 603.9V615.9M876.5 600.6V616.1M877.5 607V615.9M878.5 607.9V615.1M879.5 606.9V616M880.5 604V616M881.5 602.6V616M882.5 606.8V615.8M883.5 602V615M884.5 605.6V616.2M885.5 608.8V615.7M886.5 606.1V615.8M887.5 602.5V615.9M888.5 606.6V615.9M889.5 608.3V616.1M890.5 599.1V615.1M891.5 603.1V615.3M892.5 603.2V616M893.5 592.2V615.1M894.5 598.3V615.1M895.5 596.6V615.3M896.5 603.4V616.1M897.5 595.9V616.1M898.5 604.5V616.2M899.5 602.2V616.1M900.5 600.7V616.1M901.5 605.4V615.4M902.5 600.9V616.1M903.5 571.4V615.6M904.5 604.1V615.4M905.5 596.4V613.9M906.5 608.7V615.6M907.5 559.6V616.1M908.5 602.2V615.9M909.5 597.3V615.6M910.5 602.9V616.2M911.5 596.7V615.5M912.5 600.1V615.2M913.5 585.7V615.7M914.5 590.3V615.1M915.5 600.2V615.9M916.5 598.6V615.8M917.5 598.6V616.1M918.5 602.6V616.1M919.5 598.8V616M920.5 589.3V616.1M921.5 591.9V615.9M922.5 581.3V615M923.5 586.2V615.7M924.5 580.9V615.7M925.5 585.2V616M926.5 595.4V615.1M927.5 588V615M928.5 595.8V615.1M929.5 604.6V615.8M930.5 604.4V616.2M931.5 597.3V614.3M932.5 592.4V616M933.5 603V615.9M934.5 604.9V615.2M935.5 602.3V615.6M936.5 602.3V615.4M937.5 603.6V615.5M938.5 600.8V616.1M939.5 600.6V616.1M940.5 604.4V615.8M941.5 585.2V614.1M942.5 575.3V614M943.5 600.9V616M944.5 598.7V616M945.5 604.3V616M946.5 598.8V616M947.5 599.6V616.1M948.5 601.1V616.1M949.5 594.1V615.9M950.5 596.9V616.1M951.5 601.1V615.9M952.5 598.7V616.1M953.5 591.2V616M954.5 577.9V614.7M955.5 605.5V615.9M956.5 583.1V615.5M957.5 583.1V613.9M958.5 596.5V616.2M959.5 591.8V615.6M960.5 584.7V616.2M961.5 595.9V615.5M962.5 595.6V615.5M963.5 595.6V616.1M964.5 597.8V615.4M965.5 607.8V615.8M966.5 602.9V616M967.5 607.3V616.1M968.5 603.7V615.9M969.5 604.6V615.6M970.5 607V615.9M971.5 591.7V616.2M972.5 600.3V616.1M973.5 601.2V615.9M974.5 606.8V616.1M975.5 605.3V615.6M976.5 610.3V616.1M977.5 604.3V616M978.5 603.7V616.2M979.5 603.7V615.6M980.5 603V615.1M981.5 595.2V616.1M982.5 602.8V616.1M983.5 601V615.4M984.5 609V615.4M985.5 608.4V616.1M986.5 603V616.1M987.5 603.2V616.2M988.5 567.5V615.5M989.5 609V616.2M990.5 600.6V615.9M991.5 602.5V615.2M992.5 602.5V616M993.5 607.3V615.6M994.5 598.1V615M995.5 588.7V613.8M996.5 587.6V616.2M997.5 592.3V615.5M998.5 597.8V616.1M999.5 598.5V615.5M1000.5 607.2V615.9M1001.5 605.9V615.9M1002.5 603.3V616.2M1003.5 608V615.9M1004.5 603.1V616.1M1005.5 580.9V615.2M1006.5 601.7V616.2M1007.5 604.8V615.8M1008.5 602.9V615.3M1009.5 597.6V614.9M1010.5 591.2V614M1011.5 593.2V616.1M1012.5 593.2V615.8M1013.5 607V616.1M1014.5 606.9V615.8M1015.5 607V616.1M1016.5 606.2V616.2M1017.5 606.3V616.1M1018.5 594.3V615.7M1019.5 598.8V614.3M1020.5 601.5V615.5M1021.5 601.4V615.9M1022.5 601.4V615.9M1023.5 600.6V616.1M1024.5 603.2V615.2M1025.5 598.4V613.8M1026.5 602.4V615.7M1027.5 591.3V613.8M1028.5 601.3V615.5M1029.5 605.7V615.8M1030.5 603.9V615.8M1031.5 609V616.2M1032.5 603.5V615.8M1033.5 601.2V615.4M1034.5 588.8V615.3M1035.5 599.4V615.7M1036.5 601V615.8M1037.5 602.4V616M1038.5 605.6V615.6M1039.5 604.3V615.8M1040.5 605.8V615.5M1041.5 602.5V615.5M1042.5 602.8V615.7M1043.5 604.1V616.1M1044.5 601.4V615.8M1045.5 596.8V615.1M1046.5 605.7V616M1047.5 602.2V615.8M1048.5 606V615.9M1049.5 604.1V616.2M1050.5 607.8V615.2M1051.5 605.1V616M1052.5 599.8V615.8M1053.5 602.4V615.3M1054.5 600.6V616.2M1055.5 600.6V614.4M1056.5 604.2V616M1057.5 603V615.9M1058.5 602.9V615.6M1059.5 600.2V615.6M1060.5 601.6V616.2M1061.5 601.5V616.1M1062.5 604.6V616M1063.5 604.7V616.2M1064.5 608V615.9M1065.5 598.7V616.1M1066.5 604.1V615.5M1067.5 607.3V615.8M1068.5 601.6V615.4M1069.5 606.3V615.7M1070.5 602.3V616M1071.5 608.6V616.1M1072.5 608.4V615.2M1073.5 607.3V616.1M1074.5 605.6V616.1M1075.5 604.5V616M1076.5 609.6V616.1M1077.5 600.2V615.9M1078.5 565.7V615.9M1079.5 603.2V615.3M1080.5 605.5V616M1081.5 603.4V616.1M1082.5 602.5V615.8M1083.5 594.6V614.2M1084.5 601.6V616.2M1085.5 605V615.6M1086.5 603.3V615.8M1087.5 608.1V615.8M1088.5 604.6V616.2M1089.5 603.6V615.4M1090.5 604.5V616.1M1091.5 602.2V615.6M1092.5 607.6V615.8M1093.5 598.5V615.5M1094.5 599.5V615.8M1095.5 602.3V616.1M1096.5 601.6V616.2M1097.5 606.2V616M1098.5 606.5V616.2M1099.5 605.5V615.8M1100.5 596.5V615.8M1101.5 596.5V616M1102.5 598.6V615.5M1103.5 607.9V616.2M1104.5 597.5V616M1105.5 597.8V615.9M1106.5 599.1V615.7M1107.5 576.1V615.8M1108.5 603.9V614.8M1109.5 598.4V616.1M1110.5 599.5V615.6M1111.5 461.2V615.4M1112.5 603.2V616.1M1113.5 605V615.6M1114.5 607V615.5M1115.5 603.4V615.9M1116.5 602.4V616.1M1117.5 607.6V616M1118.5 602.4V616.1M1119.5 595.2V616.1M1120.5 600.5V615.4M1121.5 604.7V615.6M1122.5 606.1V616.1M1123.5 599.1V615.5M1124.5 600.5V616.1M1125.5 608V615.8M1126.5 604.6V615.8M1127.5 602.4V616.1M1128.5 604.1V616.2M1129.5 605.9V616.2M1130.5 603.5V616M1131.5 598.5V615.3M1132.5 597.2V615.5M1133.5 600.2V614.6M1134.5 600.5V616M1135.5 596.2V616M1136.5 599.5V615.8M1137.5 602.4V615.4M1138.5 606.6V616M1139.5 606.7V616.1M1140.5 601.6V616M1141.5 601.9V616.2M1142.5 604.5V615.8M1143.5 601.2V615.9M1144.5 605.5V616.2M1145.5 587.8V615M1146.5 587.8V615.5M1147.5 605.3V615M1148.5 606V616.1M1149.5 609.6V616.1M1150.5 603.7V616.1M1151.5 605.6V616M1152.5 609.3V616.1M1153.5 606.7V615.9M1154.5 606.7V616.1M1155.5 602.2V616M1156.5 607.1V616M1157.5 600.5V615.1M1158.5 602.9V615.6M1159.5 597V616.2M1160.5 584.4V616M1161.5 576.1V616.2M1162.5 594.4V614.3M1163.5 570.1V616.1M1164.5 605.6V615.4M1165.5 593.9V614.7M1166.5 603.6V616.1M1167.5 601.4V615.2M1168.5 597.2V615.5M1169.5 592.6V615.3M1170.5 590.1V615.1M1171.5 601.9V616M1172.5 602.3V615.8M1173.5 599V615.2M1174.5 592.9V615.7M1175.5 600.2V615.5M1176.5 602.8V616.2M1177.5 601V615.8M1178.5 606V615M1179.5 599.6V615.7M1180.5 600.4V616M1181.5 605.2V615.5M1182.5 604.6V616M1183.5 601.6V616M1184.5 600.8V615.8M1185.5 606.5V615.8M1186.5 609.1V616.2" stroke="#5656ff" stroke-width="1.4" fill="none"/><path d="M855.5 596.4V612.5M856.5 607.6V615.8M857.5 599.2V615.9M858.5 604.4V615.7M859.5 605.6V615.9M860.5 603.1V615.7M861.5 605.2V616M862.5 604V614.4M863.5 609.1V615.8M864.5 604.6V615.8M865.5 606.7V615.8M866.5 602.7V615.6M867.5 604.2V615.6M868.5 601.1V615.2M869.5 602V615.9M870.5 609V616.2M871.5 609.1V615.3M872.5 610.7V616M873.5 608.7V615.9M874.5 597.7V616.1M875.5 604.1V615.9M876.5 604.3V615.9M877.5 607.2V615.9M878.5 608V614.7M879.5 608.4V615.8M880.5 606.9V615.9M881.5 605.8V615.9M882.5 607.1V615.2M883.5 604.3V614.5M884.5 606.1V616M885.5 609.9V615.4M886.5 607.4V615.1M887.5 605.6V615.7M888.5 606.7V615.7M889.5 608.8V615.9M890.5 603.2V615M891.5 603.4V615M892.5 603.6V615.7M893.5 599.8V615M894.5 600.5V614.9M895.5 599.3V614.8M896.5 603.8V615.9M897.5 600.9V615.6M898.5 606.3V615.9M899.5 602.6V616.1M900.5 602.5V615.4M901.5 605.5V615.3M902.5 601.4V616.1M903.5 605.4V615.5M904.5 604.3V615.3M905.5 600.8V613.8M906.5 608.9V615.5M907.5 604.7V615.6M908.5 602.7V615.3M909.5 601.4V615.6M910.5 604.2V615.9M911.5 598.6V615.2M912.5 602.4V614.6M913.5 590.3V615.6M914.5 596.3V615.1M915.5 602.3V615.3M916.5 602.4V615.5M917.5 607.2V615.9M918.5 602.6V616M919.5 600.2V615.9M920.5 599.2V614.8M921.5 594.8V615.8M922.5 582.4V614M923.5 592.1V614.6M924.5 601.9V615.5M925.5 601.8V615.8M926.5 599.2V614.6M927.5 592.1V614.1M928.5 599.1V615M929.5 605.7V615.8M930.5 604.6V616M931.5 598.2V614.1M932.5 596.8V615.7M933.5 603.3V615.6M934.5 605.3V615M935.5 602.9V615.3M936.5 609.2V615.3M937.5 604V615.1M938.5 603.2V616.1M939.5 604.5V615.9M940.5 604.5V615.8M941.5 596.4V613.7M942.5 602.9V613.8M943.5 603.3V615.6M944.5 603.4V615.8M945.5 605.1V615.5M946.5 601V615.8M947.5 599.9V616M948.5 601.8V615.9M949.5 596.5V615.1M950.5 600.9V616M951.5 602.2V615.5M952.5 599.5V615.4M953.5 595.3V616M954.5 602.5V614.6M955.5 606.5V615.6M956.5 603.5V615.1M957.5 586.8V613.4M958.5 597.7V615.7M959.5 595V615.4M960.5 587.6V615.3M961.5 600.1V614.8M962.5 596.4V614.6M963.5 603.3V615.6M964.5 598.1V615.3M965.5 609.7V615.6M966.5 605.1V616M967.5 607.5V615.6M968.5 604.3V615.8M969.5 607.3V615.3M970.5 607.8V615.7M971.5 607.8V616.1M972.5 602V616M973.5 603.9V615.2M974.5 608.4V616.1M975.5 605.4V615.5M976.5 610.4V616M977.5 604.6V616M978.5 607V615.9M979.5 604.8V614.8M980.5 604.2V614.5M981.5 599.8V615.9M982.5 602.8V615.9M983.5 605.8V615.4M984.5 609.4V615M985.5 609.7V616M986.5 603.7V616M987.5 605.1V616.2M988.5 604.1V615.5M989.5 609.1V615.8M990.5 603.7V615.8M991.5 604V614.6M992.5 606.9V615.9M993.5 607.3V615.4M994.5 599.9V612.4M995.5 594.4V613.7M996.5 597.5V616.2M997.5 595V615.2M998.5 598.9V615.6M999.5 601.7V615.2M1000.5 607.6V615.1M1001.5 606.1V615.9M1002.5 604V615.9M1003.5 608.9V615.7M1004.5 604.5V616.1M1005.5 606.4V614.8M1006.5 605.5V616.2M1007.5 605.1V615.7M1008.5 604.5V615M1009.5 601.3V614.9M1010.5 594.3V613.9M1011.5 596.6V615.9M1012.5 599.8V615.8M1013.5 608.6V615.8M1014.5 607.1V615.7M1015.5 607.1V616.1M1016.5 607.6V616.1M1017.5 606.3V615.9M1018.5 595.9V615.6M1019.5 600.6V613.7M1020.5 602.8V615.3M1021.5 604.7V615.2M1022.5 604.9V615.4M1023.5 602.6V616.1M1024.5 603.7V615.1M1025.5 601.3V613.5M1026.5 604.1V615.3M1027.5 596.2V613.2M1028.5 601.5V615.3M1029.5 606.8V615.8M1030.5 604.7V615.1M1031.5 609.4V616M1032.5 603.8V615.4M1033.5 602.6V614.9M1034.5 595.5V614.1M1035.5 603.1V615.5M1036.5 602.7V615.5M1037.5 602.9V615.8M1038.5 607V615.4M1039.5 605.8V615.7M1040.5 606.3V614.2M1041.5 603.2V615.5M1042.5 605.7V615.4M1043.5 604.9V615.6M1044.5 602.8V615.1M1045.5 597.8V615M1046.5 607.5V615.6M1047.5 605.8V615.6M1048.5 607.7V615.6M1049.5 605.3V615.8M1050.5 608.5V615.1M1051.5 605.3V615.9M1052.5 602.1V615.5M1053.5 603.3V615.2M1054.5 601.7V615.6M1055.5 603.8V613.8M1056.5 605.4V616M1057.5 603.5V615.4M1058.5 603.2V615.2M1059.5 604.3V615.6M1060.5 605.2V615.9M1061.5 603.3V615.9M1062.5 606.5V615.9M1063.5 606.3V615.8M1064.5 609.3V615.5M1065.5 599.4V615.8M1066.5 606.1V615.3M1067.5 607.5V615.8M1068.5 603.8V614.9M1069.5 606.7V615.6M1070.5 604V616M1071.5 609.9V616.1M1072.5 608.8V615.1M1073.5 608.6V615.9M1074.5 605.8V616M1075.5 605.4V615.7M1076.5 609.6V616M1077.5 602.4V615.9M1078.5 601V615.5M1079.5 605.2V615.1M1080.5 606.1V615.9M1081.5 606.2V616M1082.5 605V615.5M1083.5 601V614.2M1084.5 602.4V616.1M1085.5 605.8V615.3M1086.5 604.3V615.3M1087.5 608.3V615.4M1088.5 604.7V616M1089.5 603.7V615.3M1090.5 605V615.8M1091.5 603.6V615.4M1092.5 607.7V615.6M1093.5 603.4V615.5M1094.5 603V615.8M1095.5 604.1V615.7M1096.5 605.7V615.8M1097.5 606.4V616M1098.5 607.7V615.9M1099.5 606.8V615.6M1100.5 602.5V614.8M1101.5 603.5V615.9M1102.5 602.7V615.3M1103.5 608V615.8M1104.5 599.8V615.9M1105.5 598V615.9M1106.5 600.1V615.3M1107.5 602.3V615.7M1108.5 604.8V614.4M1109.5 598.5V616.1M1110.5 601.5V615.4M1111.5 603.4V615.2M1112.5 605V616M1113.5 605.6V614.9M1114.5 607.9V615.4M1115.5 607.1V615.9M1116.5 603.2V615.8M1117.5 608.6V615.9M1118.5 602.5V615.9M1119.5 598V615.5M1120.5 604.2V615.3M1121.5 606.3V615.3M1122.5 606.5V615.9M1123.5 601.2V615.2M1124.5 601.5V616M1125.5 608V615.8M1126.5 606V615.7M1127.5 603.9V616M1128.5 604.8V616.1M1129.5 607.5V615.6M1130.5 605.3V616M1131.5 601.9V615M1132.5 602V615.5M1133.5 602.5V614.5M1134.5 600.7V615.8M1135.5 598.1V614.9M1136.5 606.6V615.7M1137.5 602.4V615M1138.5 606.7V615.8M1139.5 608V615.8M1140.5 603V615.6M1141.5 603.9V616.1M1142.5 605.8V615.8M1143.5 603.7V615.6M1144.5 606.4V616.1M1145.5 606.8V614.8M1146.5 602.9V614.7M1147.5 605.8V614.7M1148.5 607.5V615.9M1149.5 610.2V616.1M1150.5 604.9V616.1M1151.5 607.2V615.6M1152.5 609.6V616M1153.5 607V615.5M1154.5 606.9V616.1M1155.5 604.2V615.4M1156.5 607.5V615.9M1157.5 601.8V615.1M1158.5 603.1V615.1M1159.5 600V616.2M1160.5 604.1V615.8M1161.5 600.6V615.5M1162.5 595.7V614.3M1163.5 604.5V616M1164.5 606.4V615.1M1165.5 606.6V614.5M1166.5 605.3V615.2M1167.5 603.7V615.1M1168.5 599.3V615.4M1169.5 596.7V613.7M1170.5 595.2V614.8M1171.5 602.5V615.3M1172.5 603.3V615.5M1173.5 601.2V615.2M1174.5 596.3V615.3M1175.5 603.2V615.4M1176.5 606.1V616.1M1177.5 604.6V615.6M1178.5 606.4V615M1179.5 601.2V615.6M1180.5 602V615.7M1181.5 607.5V615.4M1182.5 606.6V615.9M1183.5 606V616M1184.5 600.9V615.3M1185.5 606.6V615.7M1186.5 610V616.1" stroke="#0000ff" stroke-width="1.15" fill="none"/>
<rect x="853" y="442" width="335" height="1" fill="#484848"/>
<rect x="853" y="442" width="2" height="175" fill="#727272"/>
<rect x="1186" y="442" width="2" height="175" fill="#6a6a6a"/>
<rect x="853" y="615" width="335" height="2" fill="#757575"/>
<text transform="translate(845.86 447.55) scale(1 1)" font-size="15.6" text-anchor="end">.4</text>
<text transform="translate(845.86 490.92) scale(1 1)" font-size="15.6" text-anchor="end">.3</text>
<text transform="translate(845.86 534.3) scale(1 1)" font-size="15.6" text-anchor="end">.2</text>
<text transform="translate(845.86 577.67) scale(1 1)" font-size="15.6" text-anchor="end">.1</text>
<text transform="translate(845.86 621.05) scale(1 1)" font-size="15.6" text-anchor="end">.0</text>
<text transform="translate(879.96 637.5) scale(1 1)" font-size="15.6" text-anchor="middle">00</text>
<text transform="translate(913.8 637.5) scale(1 1)" font-size="15.6" text-anchor="middle">02</text>
<text transform="translate(947.64 637.5) scale(1 1)" font-size="15.6" text-anchor="middle">04</text>
<text transform="translate(981.48 637.5) scale(1 1)" font-size="15.6" text-anchor="middle">06</text>
<text transform="translate(1015.32 637.5) scale(1 1)" font-size="15.6" text-anchor="middle">08</text>
<text transform="translate(1049.16 637.5) scale(1 1)" font-size="15.6" text-anchor="middle">10</text>
<text transform="translate(1083 637.5) scale(1 1)" font-size="15.6" text-anchor="middle">12</text>
<text transform="translate(1116.84 637.5) scale(1 1)" font-size="15.6" text-anchor="middle">14</text>
<text transform="translate(1150.68 637.5) scale(1 1)" font-size="15.6" text-anchor="middle">16</text>
<text transform="translate(1184.52 637.5) scale(1 1)" font-size="15.6" text-anchor="middle">18</text>
<path d="M849 442.4H854.5M849 485.77H854.5M849 529.15H854.5M849 572.52H854.5M849 615.9H854.5M871.5 615.9V621.9M888.42 615.9V621.9M905.34 615.9V621.9M922.26 615.9V621.9M939.18 615.9V621.9M956.1 615.9V621.9M973.02 615.9V621.9M989.94 615.9V621.9M1006.86 615.9V621.9M1023.78 615.9V621.9M1040.7 615.9V621.9M1057.62 615.9V621.9M1074.54 615.9V621.9M1091.46 615.9V621.9M1108.38 615.9V621.9M1125.3 615.9V621.9M1142.22 615.9V621.9M1159.14 615.9V621.9M1176.06 615.9V621.9" stroke="#555" stroke-width="1.3" fill="none"/>
<rect x="43.8" y="772" width="327.2" height="195.3" fill="#fff"/>
<text class="t" transform="scale(0.99 1)" x="149.84" y="752" font-size="19" textLength="115.1" lengthAdjust="spacing">wheat returns</text>
<path d="M44.5 832.9V849.3M45.5 816.8V854M46.5 816.8V869.4M47.5 802.2V851.9M48.5 837.4V882.4M49.5 840.4V858.9M50.5 843V862.3M55.5 810V883.2M63.5 800.6V877M68.5 843.4V920.7M71.5 846.4V903.5M75.5 825.6V857.4M83.5 827.4V859.2M84.5 827.7V858.5M85.5 829.4V879.9M86.5 830.7V872.4M87.5 836.9V955.9M88.5 840.2V865M89.5 838.2V855.2M90.5 838.2V857.1M91.5 820.1V860.3M92.5 838.4V868.9M93.5 828.9V861.5M94.5 838.9V859.2M95.5 835.3V864.8M96.5 836.9V856M97.5 841.4V865.6M98.5 843.7V865.4M99.5 841.5V862.8M100.5 845.2V864M101.5 840.4V864.2M102.5 831.9V864.2M103.5 826.9V872.8M104.5 817V872.2M105.5 835.2V867.2M106.5 825.1V871.2M107.5 837V870.2M108.5 838.5V862.3M109.5 833.7V861M110.5 840.2V859.3M111.5 814.7V859.3M112.5 834.5V863.7M113.5 837.8V866.6M114.5 829.3V868.8M115.5 832.4V868.8M116.5 842.3V867.5M117.5 831.7V868.6M118.5 833.6V863.2M119.5 826.8V871.5M120.5 841.5V863.3M121.5 837.3V871.7M122.5 837.4V873.7M123.5 843V859M124.5 843.8V866.6M125.5 842.2V861M126.5 840.9V854.8M127.5 843.4V864M128.5 827.1V868.4M129.5 837.3V857.6M130.5 835.7V864.8M131.5 839.1V863.2M132.5 838.8V869.2M133.5 827.3V869.6M134.5 827.3V872.9M135.5 834.4V857.6M136.5 839.2V867.8M137.5 831.3V861.9M138.5 836.5V863M139.5 841.6V869.8M140.5 836.9V863.1M141.5 842.5V857.9M142.5 845.4V862.8M143.5 835.1V869.1M144.5 840.2V867.1M145.5 830.1V866.1M146.5 829V855.1M147.5 844.4V864.9M148.5 843.8V866.1M149.5 836.9V857.3M150.5 839.4V858.7M151.5 843.2V855.5M152.5 841V861M153.5 840.5V859.2M154.5 841.1V934.8M155.5 840.1V863.9M156.5 832.7V864.1M157.5 830.2V865.9M158.5 832.3V859.6M159.5 841.5V858M160.5 838.2V863.9M161.5 836.1V862.7M162.5 828.2V868.4M163.5 814.3V864.8M164.5 838.3V861.7M165.5 841.4V854.7M166.5 841.1V859.8M167.5 843.5V866.5M168.5 843.1V868.8M169.5 811.5V861M170.5 811.5V924.6M171.5 838.6V862.1M172.5 839.2V858.5M173.5 834.1V861.7M174.5 834V859.8M175.5 841.4V866.4M176.5 810.9V863.6M177.5 820.2V865.5M178.5 830.4V871.5M179.5 837V858.1M180.5 827.6V861.5M181.5 843.2V869.8M182.5 833.1V861.9M183.5 844.9V865.7M184.5 835V868M185.5 841.1V859.5M186.5 838V855M187.5 830.8V900.4M188.5 828.8V900.4M189.5 827.5V873.5M190.5 826.1V874.5M191.5 837.2V874.7M192.5 831.9V874.7M193.5 845.4V877.4M194.5 815.3V865.9M195.5 834.4V877.8M196.5 834.4V866.2M197.5 839.6V869.6M198.5 833.6V861.2M199.5 832.4V859M200.5 830.6V862.8M201.5 832.3V923.9M202.5 840.4V894.2M203.5 831.9V862.4M204.5 830.5V871.7M205.5 837V866.1M206.5 842.7V862M207.5 841.3V891M208.5 837.2V861.6M209.5 825.4V864.6M210.5 837V868.7M211.5 837.3V866.7M212.5 829.9V864.3M213.5 831.3V867.7M214.5 829.6V864M215.5 829.6V857.2M216.5 844.6V857.1M217.5 845.5V857.3M218.5 839.7V857M219.5 843.1V857M220.5 840.2V856.5M221.5 839.6V863.1M222.5 836.8V864.7M223.5 835.6V854.3M224.5 840.6V857.9M225.5 837.1V856.3M226.5 832.8V863.6M227.5 837.7V862M228.5 829.3V858.1M229.5 841.1V866.2M230.5 833.7V856.1M231.5 841.1V859.4M232.5 848V862M233.5 841.8V862.3M234.5 832.3V873.7M235.5 825.1V869M236.5 827.7V868.5M237.5 841.5V860.3M238.5 847.1V884M239.5 839.9V866.5M240.5 843.9V861.3M241.5 817.2V864.7M242.5 814.2V868.9M243.5 831.2V866.6M244.5 835.8V879M245.5 834.3V865.9M246.5 818.7V875.2M247.5 830.9V866.1M248.5 836.3V879.2M249.5 831.3V867.3M250.5 824.1V876.4M251.5 836.8V862.6M252.5 831.9V906.7M253.5 833.8V863.9M254.5 833V906.7M255.5 841.9V869M256.5 835.8V862.6M257.5 840V863.8M258.5 841.9V859.3M259.5 827.8V871.8M260.5 840V859.4M261.5 837.6V863.9M262.5 836.1V856M263.5 839.4V855.5M264.5 839V859M265.5 836.9V862.8M266.5 843.8V863.7M267.5 831.8V864.6M268.5 833.5V869.7M269.5 839.1V864.5M270.5 838.2V859.2M271.5 830.6V867.2M272.5 832V861.1M273.5 830.6V866.3M274.5 830.1V866.6M275.5 830.1V863.7M276.5 826.3V866.4M277.5 835.8V858M278.5 822.4V856.7M279.5 829.8V866.8M280.5 840V866.8M281.5 824.7V870.5M282.5 835.9V863.3M283.5 830.8V856.9M284.5 838.7V861.8M285.5 845.6V857M286.5 835.4V864M287.5 846.6V860.4M288.5 845.7V857.6M289.5 842.4V856.8M290.5 842.9V854.7M291.5 839.1V872.7M292.5 826.1V858.8M293.5 827.3V866.4M294.5 841.6V863M295.5 831.8V868.8M296.5 833.1V862.9M297.5 841.6V865.1M298.5 840V864.8M299.5 836.3V861.5M300.5 844V860.2M301.5 842.5V856.7M302.5 833.3V858.5M303.5 840.4V856.8M304.5 843.5V857.5M305.5 842.9V889.5M306.5 844.5V860.3M307.5 841V856.9M308.5 838.5V854.4M309.5 837.1V854.8M310.5 841.6V859.7M311.5 835V864M312.5 841.3V856.2M313.5 846.4V856.3M314.5 845V854.6M315.5 842.4V866.4M316.5 841.5V856.2M317.5 840.1V871.4M318.5 829.7V859.6M319.5 838.9V866.3M320.5 841.8V861M321.5 844.4V859.6M322.5 837.8V871.1M323.5 836.3V876.1M324.5 834.4V855.6M325.5 836.7V861.8M326.5 840.3V865.3M327.5 838.2V868.4M328.5 829.4V861.2M329.5 833.6V862.6M330.5 823.8V868.7M331.5 840.4V872.1M332.5 838.2V867M333.5 830.7V867.8M334.5 838.4V855.5M335.5 838.4V856.1M336.5 838.5V862.9M337.5 837.2V864M338.5 817.8V861.3M339.5 838.2V862.9M340.5 838.2V860.4M341.5 842.2V858.5M342.5 838.8V871.9M343.5 836.5V875.4M344.5 831.6V875.4M345.5 841V874.4M346.5 836V868.6M347.5 837.7V860.7M348.5 836.3V861.5M349.5 846.3V858.5M350.5 842.6V863.8M351.5 842.4V907.4M352.5 836.3V865.2M353.5 833.8V865.4M354.5 832.7V912.1M355.5 832.7V865M356.5 828.5V877.5M357.5 838.1V877.5M358.5 835.8V860M359.5 846.1V874.1M360.5 839.9V866.1M361.5 840.6V858.2M362.5 834.3V867M363.5 834.3V859.2M364.5 838.2V860M365.5 824.1V875.3M366.5 832.8V859.3M367.5 840.4V862.7M368.5 842.3V869.9M369.5 835V861.6" stroke="#5656ff" stroke-width="1.4" fill="none"/><path d="M45.5 826.4V853.8M46.5 830.7V861.5M47.5 830.4V851.3M48.5 841.2V855.7M49.5 842.3V857.9M50.5 843.2V860.2M51.5 843.2V854.9M51.5 849.8V850.4M52.5 849.8V850.4M53.5 848.5V850.4M54.5 843.6V855.2M54.5 849.8V850.4M55.5 845.3V853.4M55.5 849.8V850.4M56.5 845.2V863.3M56.5 849.8V851.2M57.5 849.8V850.4M58.5 849.8V850.4M59.5 838.9V856.3M59.5 847.3V850.4M60.5 847.3V854M60.5 849.8V850.4M61.5 840.7V857.3M61.5 849.8V850.4M62.5 849.8V850.4M63.5 849.8V850.4M64.5 845.4V854.8M64.5 849.3V850.4M65.5 845.6V854.2M65.5 849.8V850.4M66.5 843V853.1M66.5 849.8V850.4M67.5 848.3V850.4M68.5 843.4V856.9M68.5 849.8V850.4M69.5 841.3V854.8M69.5 849.8V850.4M70.5 848.6V854.4M70.5 849.8V850.4M71.5 846.4V850.7M71.5 849.8V850.4M72.5 849.8V850.4M73.5 848V859.3M73.5 849.8V850.4M74.5 843V853M74.5 849.8V851.3M75.5 845.8V857.4M75.5 849.6V850.4M76.5 839.6V859.1M76.5 849.8V850.4M77.5 849.8V850.4M78.5 844.5V854.5M78.5 849.8V850.4M79.5 849.3V860.4M79.5 849.8V850.4M80.5 838.3V855.5M80.5 849.4V850.4M81.5 830.8V855.7M81.5 849.8V850.4M82.5 849.8V850.4M83.5 835.6V858.3M84.5 828.6V858.4M85.5 833.6V871.9M86.5 835.1V866.4M87.5 838.7V860.6M88.5 842.1V862.5M89.5 840.7V854.3M90.5 840.2V855.6M91.5 838.9V860.2M92.5 838.9V868.1M93.5 832.6V859.4M94.5 839.6V858.7M95.5 838.9V858.6M96.5 838.2V855.8M97.5 842.6V862.7M98.5 844.4V862.9M99.5 843.2V860.5M100.5 845.7V859.7M101.5 840.7V862.2M102.5 834.6V855.1M103.5 830.4V866.7M104.5 833.6V868M105.5 837.1V863.7M106.5 831.8V867M107.5 843.5V866.9M108.5 838.6V860.2M109.5 837.8V860.7M110.5 840.9V859M111.5 839.6V857.7M112.5 837.5V862.2M113.5 839V866.2M114.5 831.3V863.8M115.5 836.2V861.4M116.5 843V865.6M117.5 834V863.2M118.5 837.7V863.1M119.5 829V870.9M120.5 842.7V862.1M121.5 838.6V868.4M122.5 840.7V870.1M123.5 843.1V859M124.5 844.1V862.2M125.5 843.5V857.6M126.5 841.7V853.4M127.5 844.4V860.7M128.5 830.2V863.3M129.5 837.4V857.1M130.5 836.5V862M131.5 839.2V859.2M132.5 839V868.9M133.5 832.5V868.3M134.5 837.7V871.7M135.5 834.9V856.7M136.5 839.5V865.8M137.5 835.3V861.4M138.5 838.8V862.4M139.5 844.7V862.5M140.5 839.2V858.6M141.5 844.2V856.3M142.5 845.8V860M143.5 837.8V867.2M144.5 842.3V865.3M145.5 834.7V864.1M146.5 834.1V854.8M147.5 844.5V862.7M148.5 844.5V860.5M149.5 839.5V857.2M150.5 841.6V857.3M151.5 843.3V855.5M152.5 841.4V857.7M153.5 841.9V856.2M154.5 841.6V860.5M155.5 840.3V862.2M156.5 834.1V859.5M157.5 836.5V863.4M158.5 839.8V859.3M159.5 842.1V856.5M160.5 838.6V860.9M161.5 837.1V862.2M162.5 831.9V868.4M163.5 826.5V864.2M164.5 839.2V859.7M165.5 842.7V853.8M166.5 843.2V856.6M167.5 844.5V865.7M168.5 845.4V867.7M169.5 843.8V859.7M170.5 841.9V858.5M171.5 841.4V860M172.5 840.4V856.8M173.5 835.9V861.7M174.5 835.4V857.8M175.5 841.6V866.2M176.5 826V862.8M177.5 828.3V864.4M178.5 833.4V869.8M179.5 839.1V856.8M180.5 833.2V859.9M181.5 843.6V862.9M182.5 834.2V859.8M183.5 845.5V865.4M184.5 838V862.5M185.5 842V857.7M186.5 839.1V854.9M187.5 832.8V860.2M188.5 833.8V872.2M189.5 835.2V866.8M190.5 829.9V871.6M191.5 838.4V869.7M192.5 837.7V864.8M193.5 845.9V868.5M194.5 826.3V863.4M195.5 838.4V873.8M196.5 837.3V862.7M197.5 840.6V862.6M198.5 840V860.9M199.5 834.3V852.4M200.5 831.6V862.1M201.5 836.7V866M202.5 842.1V861.5M203.5 835.7V862.1M204.5 833V864M205.5 837.9V864.4M206.5 844.6V857.7M207.5 841.8V859.2M208.5 838.2V858.9M209.5 835.4V863.9M210.5 838V867.6M211.5 837.5V864.7M212.5 833V859.1M213.5 837.8V865.6M214.5 831.6V860.7M215.5 838.2V855M216.5 844.6V856.5M217.5 845.6V857.1M218.5 842V856.8M219.5 843.4V854.5M220.5 842.1V856.3M221.5 842.7V861M222.5 838.1V864.4M223.5 837.7V853.6M224.5 842.6V856.8M225.5 841V854.2M226.5 838.3V862.6M227.5 839.6V860.5M228.5 834.4V857.9M229.5 843.5V864.6M230.5 837.4V854.8M231.5 841.3V859.1M232.5 848.5V861.3M233.5 843.2V858.8M234.5 833.6V871.9M235.5 834.2V868.7M236.5 829.5V860.3M237.5 842.9V858.4M238.5 847.5V860.4M239.5 841V865.4M240.5 845.1V861.1M241.5 823.9V864.3M242.5 824.1V864.4M243.5 832.2V862.9M244.5 837.1V872.4M245.5 835V865.6M246.5 824.9V869.2M247.5 835.2V863.9M248.5 837.3V878.5M249.5 833.5V863.6M250.5 828.6V868.5M251.5 841.3V861.6M252.5 836.1V861.3M253.5 836.5V863.5M254.5 839V868.4M255.5 845.4V865.4M256.5 840.2V856.3M257.5 841.5V860.7M258.5 842V857.2M259.5 833.9V868.4M260.5 841.8V859.4M261.5 840.2V863.5M262.5 838.8V856M263.5 839.8V854.1M264.5 839.1V858M265.5 838.6V861.6M266.5 845.1V859M267.5 836.2V860.8M268.5 837.5V867.8M269.5 839.4V863.7M270.5 839.9V858.5M271.5 835.6V865.3M272.5 832.7V859.9M273.5 831.3V862.6M274.5 830.6V859.6M275.5 841V862M276.5 833.1V865.3M277.5 836.3V857.1M278.5 825.9V855M279.5 830.7V862.1M280.5 840.7V863.4M281.5 832V865.8M282.5 837.2V861.9M283.5 834.4V856.6M284.5 839.9V860.5M285.5 846.1V856.8M286.5 839.2V862.3M287.5 847.1V859.4M288.5 846.2V856.5M289.5 842.5V856.4M290.5 844.1V854.2M291.5 839.2V864.5M292.5 829.6V857.8M293.5 833.1V862.3M294.5 842.8V862.3M295.5 835.3V864.9M296.5 836.7V859.4M297.5 842.2V863.7M298.5 843.5V863.1M299.5 839.8V859.4M300.5 845.5V858M301.5 843.7V855.9M302.5 840.2V858M303.5 843V855.2M304.5 845.1V856.6M305.5 843.5V854.2M306.5 846.1V858.6M307.5 842V855.4M308.5 842.4V853.9M309.5 841.9V854.4M310.5 843.9V858.9M311.5 837.9V861.6M312.5 841.6V855.1M313.5 846.5V856.1M314.5 845.7V854.3M315.5 844.2V862.4M316.5 841.8V855.4M317.5 840.6V869.2M318.5 832.1V858.1M319.5 842.4V863.2M320.5 842.8V859.6M321.5 844.4V858.5M322.5 842.4V870.9M323.5 838.1V873.9M324.5 839.4V854.7M325.5 837.2V861.6M326.5 842.5V860.4M327.5 840.2V867.8M328.5 837V860.8M329.5 835.4V861.9M330.5 829V865.6M331.5 840.4V866.8M332.5 839.7V860.8M333.5 837.6V861.3M334.5 840.8V853.8M335.5 842.8V855.5M336.5 842.5V860M337.5 841.3V863.3M338.5 838.2V861.3M339.5 838.7V861.6M340.5 839.8V859M341.5 842.3V858M342.5 840.4V864.6M343.5 840.3V868.1M344.5 833.9V862.7M345.5 841.4V871.2M346.5 836.6V864.5M347.5 838V860.6M348.5 837.1V860.1M349.5 846.5V855.7M350.5 842.8V861.1M351.5 843.1V862.3M352.5 837.4V865.1M353.5 836.3V861.8M354.5 836.1V857.8M355.5 840.1V864.9M356.5 834.8V873.5M357.5 839V862.4M358.5 837.9V859.7M359.5 846.4V869.7M360.5 840.4V860M361.5 842.4V857.4M362.5 836.2V861.6M363.5 838.7V855.8M364.5 839.7V858.9M365.5 832.5V872.2M366.5 835.5V859.2M367.5 842.2V860.8M368.5 843.3V864.3M369.5 838.4V860.7" stroke="#0000ff" stroke-width="1.15" fill="none"/><circle cx="59.4" cy="829" r="1.6" fill="#0000ff"/>
<rect x="43" y="771" width="329" height="1" fill="#484848"/>
<rect x="43" y="771" width="2" height="197" fill="#727272"/>
<rect x="370" y="771" width="2" height="197" fill="#6a6a6a"/>
<rect x="43" y="966" width="329" height="2" fill="#757575"/>
<text transform="translate(35.8 776.8) scale(1.02 1)" font-size="16" text-anchor="end">.10</text>
<text transform="translate(35.8 815.86) scale(1.02 1)" font-size="16" text-anchor="end">.05</text>
<text transform="translate(35.8 854.92) scale(1.02 1)" font-size="16" text-anchor="end">.00</text>
<text transform="translate(35.85 893.98) scale(1.02 1)" font-size="16" text-anchor="end">-.05</text>
<text transform="translate(35.85 933.04) scale(1.02 1)" font-size="16" text-anchor="end">-.10</text>
<text transform="translate(35.85 972.1) scale(1.02 1)" font-size="16" text-anchor="end">-.15</text>
<text transform="translate(68.03 989.5) scale(1.02 1)" font-size="16" text-anchor="middle">00</text>
<text transform="translate(101.33 989.5) scale(1.02 1)" font-size="16" text-anchor="middle">02</text>
<text transform="translate(134.62 989.5) scale(1.02 1)" font-size="16" text-anchor="middle">04</text>
<text transform="translate(167.93 989.5) scale(1.02 1)" font-size="16" text-anchor="middle">06</text>
<text transform="translate(201.22 989.5) scale(1.02 1)" font-size="16" text-anchor="middle">08</text>
<text transform="translate(234.52 989.5) scale(1.02 1)" font-size="16" text-anchor="middle">10</text>
<text transform="translate(267.82 989.5) scale(1.02 1)" font-size="16" text-anchor="middle">12</text>
<text transform="translate(301.12 989.5) scale(1.02 1)" font-size="16" text-anchor="middle">14</text>
<text transform="translate(334.42 989.5) scale(1.02 1)" font-size="16" text-anchor="middle">16</text>
<text transform="translate(367.72 989.5) scale(1.02 1)" font-size="16" text-anchor="middle">18</text>
<path d="M38.3 772H43.8M38.3 811.06H43.8M38.3 850.12H43.8M38.3 889.18H43.8M38.3 928.24H43.8M38.3 967.3H43.8M59.7 967.3V973.3M76.35 967.3V973.3M93 967.3V973.3M109.65 967.3V973.3M126.3 967.3V973.3M142.95 967.3V973.3M159.6 967.3V973.3M176.25 967.3V973.3M192.9 967.3V973.3M209.55 967.3V973.3M226.2 967.3V973.3M242.85 967.3V973.3M259.5 967.3V973.3M276.15 967.3V973.3M292.8 967.3V973.3M309.45 967.3V973.3M326.1 967.3V973.3M342.75 967.3V973.3M359.4 967.3V973.3" stroke="#555" stroke-width="1.3" fill="none"/>
<rect x="448" y="772" width="326.4" height="195.3" fill="#fff"/>
<text class="t" transform="scale(1.03 1)" x="497.47" y="752" font-size="19" textLength="189.04" lengthAdjust="spacing">wheat returns squared</text>
<path d="M449.5 962.4V967.6M450.5 949.6V967.6M451.5 930.7V967.6M452.5 950.6V967.6M453.5 965.6V967.6M454.5 965.9V967.6M455.5 964.7V967.6M459.5 941.6V967.6M460.5 949.8V967.6M467.5 928.2V967.6M468.5 955.7V967.6M473.5 887.9V967.6M475.5 921.8V967.6M479.5 957.6V967.6M488.5 958.9V967.6M489.5 953.1V967.6M490.5 959.2V967.6M491.5 964.3V967.6M492.5 789V967.6M493.5 965.4V967.6M494.5 964.8V967.6M495.5 952.9V967.6M496.5 961.6V967.6M497.5 960V967.5M498.5 965.1V967.6M499.5 963.6V967.6M500.5 964.3V967.6M501.5 963.3V967.6M502.5 963.4V967.6M503.5 964.6V967.6M504.5 964.1V967.6M505.5 965.3V967.6M506.5 964V967.6M507.5 958.6V967.6M508.5 949.8V967.6M509.5 962.5V967.6M510.5 957.2V967.6M511.5 960.1V967.6M512.5 960.7V967.6M513.5 962.8V967.6M514.5 962.8V967.6M515.5 947.2V967.6M516.5 947.2V967.6M517.5 962.8V967.6M518.5 960.2V967.6M519.5 961.6V967.6M520.5 962.3V967.6M521.5 961.7V967.6M522.5 962.8V967.5M523.5 958.5V967.6M524.5 960.6V967.6M525.5 959.8V967.6M526.5 958.4V967.6M527.5 958.4V967.6M528.5 962.8V967.6M529.5 965.2V967.6M530.5 965.7V967.6M531.5 964V967.6M532.5 958.7V967.6M533.5 962.3V967.6M534.5 963.7V967.6M535.5 964.4V967.6M536.5 961.3V967.6M537.5 961.1V967.6M538.5 958.9V967.6M539.5 963.2V967.6M540.5 962.2V967.6M541.5 961.5V967.5M542.5 964.1V967.6M543.5 961V967.6M544.5 964.3V967.6M545.5 966.1V967.6M546.5 964.5V967.6M547.5 961.4V967.6M548.5 962.5V967.6M549.5 963.1V967.6M550.5 960.1V967.6M551.5 963.6V967.6M552.5 963.1V967.6M553.5 964.3V967.6M554.5 965.3V967.6M555.5 966.3V967.6M556.5 965.2V967.6M557.5 965.6V967.6M558.5 853.1V967.6M559.5 964.1V967.6M560.5 962.3V967.6M561.5 960.8V967.6M562.5 962.1V967.6M563.5 965.9V967.6M564.5 964.1V967.6M565.5 964V967.6M566.5 959.6V967.5M567.5 946.8V967.6M568.5 964.9V967.6M569.5 965.9V967.6M570.5 965.6V967.6M571.5 962.9V967.6M572.5 961.6V967.6M573.5 943.6V967.6M574.5 878.9V967.6M575.5 964.8V967.6M576.5 965.2V967.6M577.5 963.1V967.6M578.5 963V967.6M579.5 962.9V967.5M580.5 942.8V967.5M581.5 953V967.6M582.5 959.9V967.5M583.5 964.4V967.6M584.5 959.1V967.6M585.5 961V967.6M586.5 962.5V967.6M587.5 963.3V967.6M588.5 962V967.5M589.5 965.5V967.6M590.5 964.8V967.6M591.5 927V967.6M592.5 952.5V967.6M593.5 958.5V967.5M594.5 957.7V967.6M595.5 957.6V967.6M596.5 961.9V967.5M597.5 955.4V967.6M598.5 948V967.6M599.5 955V967.6M600.5 963V967.6M601.5 961.1V967.6M602.5 962.8V967.6M603.5 962.2V967.6M604.5 961.1V967.6M605.5 880.7V967.6M606.5 964.7V967.6M607.5 961.8V967.6M608.5 959.7V967.6M609.5 963V967.6M610.5 964.9V967.6M611.5 940.6V967.6M612.5 964.4V967.6M613.5 957.5V967.6M614.5 961.7V967.6M615.5 962.7V967.6M616.5 960.6V967.6M617.5 961.5V967.6M618.5 960.4V967.6M619.5 964.9V967.6M620.5 966.3V967.6M621.5 966.2V967.6M622.5 965.4V967.6M623.5 966.3V967.6M624.5 965.5V967.6M625.5 964V967.6M626.5 963.7V967.6M627.5 963.8V967.6M628.5 965.6V967.6M629.5 964.4V967.6M630.5 962.4V967.6M631.5 964.7V967.6M632.5 960.3V967.6M633.5 963V967.6M634.5 962.8V967.6M635.5 964.9V967.6M636.5 965.3V967.6M637.5 962.1V967.6M638.5 957.3V967.6M639.5 961.7V967.6M640.5 959.2V967.6M641.5 965.4V967.6M642.5 948.9V967.6M643.5 965.3V967.6M644.5 964V967.6M645.5 950V967.6M646.5 946.7V967.6M647.5 953.9V967.6M648.5 962.5V967.6M649.5 963.2V967.6M650.5 951.5V967.6M651.5 953.7V967.6M652.5 958V967.5M653.5 962V967.6M654.5 956.2V967.6M655.5 916.4V967.6M656.5 961.8V967.6M657.5 962.9V967.6M658.5 916.4V967.6M659.5 961.5V967.6M660.5 963.8V967.6M661.5 964.1V967.6M662.5 959.2V967.6M663.5 959.7V967.6M664.5 964.4V967.6M665.5 964.1V967.6M666.5 964V967.6M667.5 965.2V967.6M668.5 964.3V967.6M669.5 964.5V967.6M670.5 964.2V967.6M671.5 961.8V967.6M672.5 961.1V967.6M673.5 963.8V967.6M674.5 961.1V967.6M675.5 962.5V967.6M676.5 961.9V967.6M677.5 961.1V967.6M678.5 960.8V967.6M679.5 962.9V967.6M680.5 958.1V967.6M681.5 955V967.6M682.5 959.8V967.6M683.5 960.6V967.6M684.5 960.6V967.6M685.5 956.9V967.6M686.5 961.2V967.6M687.5 964.4V967.6M688.5 965.7V967.6M689.5 963.7V967.6M690.5 964V967.6M691.5 965.9V967.6M692.5 966.3V967.6M693.5 966.1V967.6M694.5 965.2V967.6M695.5 958V967.6M696.5 962.9V967.6M697.5 958.9V967.6M698.5 961.6V967.6M699.5 961.8V967.6M700.5 962.5V967.6M701.5 964.6V967.6M702.5 963.7V967.6M703.5 965.5V967.6M704.5 965.8V967.6M705.5 966.1V967.6M706.5 962.6V967.6M707.5 966.2V967.6M708.5 942.6V967.6M709.5 951.4V967.6M710.5 966.2V967.6M711.5 964.9V967.6M712.5 966.7V967.6M713.5 964.4V967.6M714.5 963.5V967.6M715.5 963.5V967.6M716.5 966.5V967.6M717.5 966.5V967.6M718.5 962.9V967.6M719.5 966.1V967.6M720.5 962.3V967.6M721.5 960V967.5M722.5 960.5V967.6M723.5 965.3V967.6M724.5 965.2V967.6M725.5 960.4V967.6M726.5 956.4V967.6M727.5 956.4V967.6M728.5 963.2V967.6M729.5 963.4V967.6M730.5 964.8V967.6M731.5 960.3V967.6M732.5 962.8V967.6M733.5 956.1V967.6M734.5 961.7V967.6M735.5 959.5V967.6M736.5 961.2V967.5M737.5 966.2V967.6M738.5 964.9V967.6M739.5 964.5V967.6M740.5 964V967.6M741.5 950.6V967.6M742.5 964.5V967.6M743.5 964.8V967.6M744.5 965.8V967.6M745.5 959.6V967.6M746.5 964.2V967.6M747.5 957V967.6M748.5 965.8V967.6M749.5 957.8V967.6M750.5 963.8V967.6M751.5 964.1V967.6M752.5 964.1V967.6M753.5 965.8V967.6M754.5 963.8V967.6M755.5 915V967.6M756.5 962.9V967.6M757.5 906.1V967.6M758.5 962.3V967.6M759.5 959.8V967.6M760.5 955.3V967.6M761.5 963.2V967.6M762.5 958.1V967.6M763.5 963.1V967.6M764.5 965.6V967.6M765.5 962.6V967.6M766.5 963.1V967.6M767.5 964.8V967.6M768.5 956.4V967.6M769.5 956.4V967.6M770.5 964.6V967.6M771.5 965.6V967.6M772.5 960.9V967.6M773.5 963.5V967.6" stroke="#5656ff" stroke-width="1.4" fill="none"/><path d="M449.5 962.7V967.4M450.5 956.1V967.6M451.5 957.9V967.5M452.5 964.5V967.6M453.5 965.6V967.6M454.5 966.1V967.6M455.5 965.6V967.6M456.5 966.1V967.6M456.5 967V967.6M457.5 966.5V967.6M457.5 967V967.6M458.5 966.3V967.6M458.5 966.9V967.6M459.5 966.7V967.6M459.5 967V967.6M460.5 967V967.6M461.5 964.3V967.6M461.5 967V967.6M462.5 964.3V967.6M462.5 966.2V967.6M463.5 965.1V967.6M463.5 966.8V967.6M464.5 966.5V967.6M464.5 967V967.6M465.5 967V967.6M466.5 965.2V967.6M466.5 967V967.6M467.5 966.7V967.6M467.5 966.9V967.6M468.5 966.7V967.6M468.5 966.9V967.6M469.5 966.7V967.6M469.5 967V967.6M470.5 967V967.6M471.5 966.1V967.6M471.5 966.5V967.6M472.5 966.3V967.6M472.5 967V967.6M473.5 965.8V967.6M473.5 967V967.6M474.5 967V967.6M475.5 967V967.6M476.5 966.3V967.6M476.5 967V967.6M477.5 966V967.6M477.5 967V967.6M478.5 965.7V967.6M478.5 967V967.6M479.5 967V967.6M480.5 966.8V967.6M481.5 966.6V967.6M481.5 967V967.6M482.5 966.5V967.6M482.5 967V967.6M483.5 965.4V967.6M483.5 967V967.6M484.5 966.8V967.6M485.5 966.9V967.6M486.5 965.5V967.6M486.5 967V967.6M487.5 965.8V967.6M487.5 966.8V967.6M488.5 959.1V967.6M489.5 957.2V967.6M490.5 960.3V967.6M491.5 964.7V967.6M492.5 964.6V967.6M493.5 965.5V967.6M494.5 964.9V967.6M495.5 964.8V967.5M496.5 962V967.5M497.5 962.1V967.5M498.5 965.1V967.6M499.5 963.7V967.6M500.5 964.8V967.6M501.5 964.5V967.6M502.5 964.4V967.6M503.5 965.3V967.6M504.5 965.4V967.6M505.5 965.4V967.6M506.5 964.1V967.6M507.5 958.8V967.6M508.5 959V967.6M509.5 963.8V967.5M510.5 960.8V967.6M511.5 962.2V967.6M512.5 963V967.6M513.5 964.2V967.6M514.5 965.7V967.6M515.5 965.8V967.6M516.5 963.8V967.6M517.5 963V967.6M518.5 961.5V967.5M519.5 961.9V967.6M520.5 964V967.6M521.5 961.7V967.6M522.5 963.7V967.4M523.5 959.3V967.6M524.5 963V967.6M525.5 961.7V967.6M526.5 961.3V967.6M527.5 964.3V967.6M528.5 964.5V967.6M529.5 965.7V967.6M530.5 965.9V967.6M531.5 965.2V967.6M532.5 960.5V967.6M533.5 963.5V967.6M534.5 963.8V967.6M535.5 964.8V967.6M536.5 961.6V967.6M537.5 961.9V967.5M538.5 958.9V967.6M539.5 963.4V967.6M540.5 963.2V967.6M541.5 963.4V967.5M542.5 964.3V967.6M543.5 963.7V967.6M544.5 964.4V967.6M545.5 966.1V967.6M546.5 965.4V967.6M547.5 962.4V967.6M548.5 963.4V967.6M549.5 964V967.6M550.5 960.5V967.6M551.5 964.5V967.6M552.5 965.1V967.6M553.5 965.2V967.6M554.5 965.6V967.6M555.5 966.3V967.6M556.5 965.5V967.6M557.5 965.7V967.6M558.5 965.4V967.6M559.5 964.7V967.6M560.5 963V967.6M561.5 962.1V967.6M562.5 964.1V967.6M563.5 966V967.6M564.5 964.5V967.6M565.5 964.3V967.6M566.5 960.8V967.4M567.5 956.2V967.6M568.5 964.9V967.6M569.5 966.2V967.6M570.5 965.7V967.6M571.5 963.2V967.6M572.5 962.2V967.6M573.5 965.2V967.6M574.5 965.6V967.6M575.5 964.9V967.6M576.5 965.6V967.6M577.5 963.8V967.6M578.5 963.7V967.6M579.5 963V967.5M580.5 948.5V967.5M581.5 961.8V967.5M582.5 961.4V967.5M583.5 965.1V967.6M584.5 962.2V967.6M585.5 964V967.6M586.5 963.1V967.6M587.5 963.4V967.6M588.5 962.9V967.5M589.5 965.6V967.6M590.5 965.2V967.6M591.5 962.3V967.5M592.5 956.6V967.5M593.5 958.8V967.5M594.5 957.9V967.6M595.5 960.7V967.5M596.5 962.6V967.5M597.5 959.9V967.6M598.5 956.5V967.6M599.5 958V967.6M600.5 963.6V967.6M601.5 963.5V967.6M602.5 964.1V967.6M603.5 963.1V967.6M604.5 961.7V967.6M605.5 960.8V967.6M606.5 964.7V967.6M607.5 963.5V967.6M608.5 960.5V967.6M609.5 963.8V967.6M610.5 965.6V967.6M611.5 965.7V967.6M612.5 964.7V967.6M613.5 961V967.6M614.5 962.2V967.6M615.5 963.7V967.6M616.5 962.3V967.5M617.5 961.9V967.6M618.5 961.6V967.6M619.5 965.4V967.6M620.5 966.4V967.6M621.5 966.3V967.6M622.5 965.9V967.6M623.5 966.3V967.6M624.5 966V967.6M625.5 964.2V967.6M626.5 964V967.5M627.5 964.6V967.6M628.5 966.3V967.6M629.5 965.3V967.6M630.5 963.4V967.6M631.5 964.8V967.6M632.5 962.9V967.6M633.5 963.8V967.6M634.5 964.4V967.6M635.5 965.4V967.6M636.5 966V967.6M637.5 963.6V967.6M638.5 957.9V967.6M639.5 962.2V967.6M640.5 960.4V967.6M641.5 965.9V967.6M642.5 963.4V967.6M643.5 965.3V967.6M644.5 964.6V967.6M645.5 955.7V967.6M646.5 955V967.5M647.5 958.1V967.6M648.5 962.8V967.6M649.5 963.5V967.6M650.5 954.7V967.6M651.5 954.4V967.6M652.5 960.6V967.5M653.5 962.2V967.6M654.5 956.3V967.6M655.5 965.3V967.6M656.5 963.1V967.6M657.5 963.4V967.6M658.5 960.9V967.6M659.5 962.8V967.6M660.5 966.4V967.6M661.5 964.9V967.6M662.5 962.4V967.6M663.5 961.7V967.6M664.5 965V967.5M665.5 964.3V967.6M666.5 964.7V967.6M667.5 965.4V967.6M668.5 964.4V967.6M669.5 965.5V967.6M670.5 965.5V967.6M671.5 962.9V967.6M672.5 962V967.6M673.5 964.2V967.6M674.5 961.9V967.6M675.5 963.4V967.6M676.5 962.6V967.6M677.5 961.5V967.6M678.5 961.1V967.6M679.5 963.4V967.6M680.5 962.3V967.5M681.5 957.7V967.6M682.5 963.7V967.5M683.5 961.8V967.6M684.5 961.8V967.6M685.5 960.8V967.6M686.5 963V967.5M687.5 964.7V967.6M688.5 965.9V967.6M689.5 965V967.6M690.5 964.7V967.6M691.5 966.1V967.6M692.5 966.4V967.6M693.5 966.1V967.6M694.5 965.2V967.6M695.5 958.6V967.6M696.5 963.9V967.6M697.5 962.3V967.6M698.5 963.2V967.6M699.5 962.2V967.6M700.5 964.1V967.6M701.5 965.1V967.6M702.5 963.9V967.6M703.5 965.7V967.6M704.5 966.1V967.6M705.5 966.2V967.6M706.5 964.3V967.6M707.5 966.3V967.6M708.5 966.4V967.6M709.5 966V967.6M710.5 966.2V967.6M711.5 965.4V967.6M712.5 966.8V967.6M713.5 965.3V967.6M714.5 964.6V967.6M715.5 965V967.6M716.5 966.5V967.6M717.5 966.6V967.6M718.5 964.5V967.6M719.5 966.1V967.6M720.5 964.1V967.6M721.5 961.7V967.4M722.5 961.9V967.6M723.5 965.5V967.6M724.5 965.7V967.6M725.5 962.8V967.6M726.5 958.1V967.6M727.5 965.4V967.6M728.5 963.8V967.6M729.5 964.6V967.6M730.5 965.5V967.6M731.5 961.1V967.5M732.5 963.8V967.6M733.5 959.7V967.5M734.5 963.3V967.6M735.5 961.2V967.6M736.5 961.7V967.5M737.5 966.2V967.6M738.5 965.8V967.6M739.5 964.8V967.6M740.5 964.3V967.6M741.5 964.4V967.6M742.5 964.7V967.6M743.5 965V967.6M744.5 966V967.5M745.5 963.1V967.6M746.5 964.5V967.6M747.5 959.6V967.6M748.5 965.8V967.6M749.5 960V967.6M750.5 963.9V967.6M751.5 964.4V967.6M752.5 964.9V967.6M753.5 965.9V967.6M754.5 964V967.6M755.5 963.8V967.6M756.5 963.2V967.6M757.5 965.3V967.6M758.5 963V967.6M759.5 960.1V967.6M760.5 958.8V967.5M761.5 963.6V967.6M762.5 961V967.6M763.5 964.4V967.6M764.5 965.7V967.6M765.5 964.1V967.6M766.5 964V967.6M767.5 965.3V967.6M768.5 956.8V967.6M769.5 961.8V967.6M770.5 964.6V967.5M771.5 965.6V967.6M772.5 963.2V967.6M773.5 963.9V967.6" stroke="#0000ff" stroke-width="1.15" fill="none"/><circle cx="463.7" cy="960.2" r="1.6" fill="#0000ff"/>
<rect x="447" y="771" width="328" height="1" fill="#484848"/>
<rect x="447" y="771" width="2" height="197" fill="#727272"/>
<rect x="773" y="771" width="2" height="197" fill="#6a6a6a"/>
<rect x="447" y="966" width="328" height="2" fill="#757575"/>
<text transform="translate(439.94 776.8) scale(1.02 1)" font-size="16" text-anchor="end">.020</text>
<text transform="translate(439.94 825.62) scale(1.02 1)" font-size="16" text-anchor="end">.015</text>
<text transform="translate(439.94 874.45) scale(1.02 1)" font-size="16" text-anchor="end">.010</text>
<text transform="translate(439.94 923.27) scale(1.02 1)" font-size="16" text-anchor="end">.005</text>
<text transform="translate(439.94 972.1) scale(1.02 1)" font-size="16" text-anchor="end">.000</text>
<text transform="translate(472.3 989.5) scale(1.02 1)" font-size="16" text-anchor="middle">00</text>
<text transform="translate(505.5 989.5) scale(1.02 1)" font-size="16" text-anchor="middle">02</text>
<text transform="translate(538.7 989.5) scale(1.02 1)" font-size="16" text-anchor="middle">04</text>
<text transform="translate(571.9 989.5) scale(1.02 1)" font-size="16" text-anchor="middle">06</text>
<text transform="translate(605.1 989.5) scale(1.02 1)" font-size="16" text-anchor="middle">08</text>
<text transform="translate(638.3 989.5) scale(1.02 1)" font-size="16" text-anchor="middle">10</text>
<text transform="translate(671.5 989.5) scale(1.02 1)" font-size="16" text-anchor="middle">12</text>
<text transform="translate(704.7 989.5) scale(1.02 1)" font-size="16" text-anchor="middle">14</text>
<text transform="translate(737.9 989.5) scale(1.02 1)" font-size="16" text-anchor="middle">16</text>
<text transform="translate(771.1 989.5) scale(1.02 1)" font-size="16" text-anchor="middle">18</text>
<path d="M442.5 772H448M442.5 820.83H448M442.5 869.65H448M442.5 918.47H448M442.5 967.3H448M464 967.3V973.3M480.6 967.3V973.3M497.2 967.3V973.3M513.8 967.3V973.3M530.4 967.3V973.3M547 967.3V973.3M563.6 967.3V973.3M580.2 967.3V973.3M596.8 967.3V973.3M613.4 967.3V973.3M630 967.3V973.3M646.6 967.3V973.3M663.2 967.3V973.3M679.8 967.3V973.3M696.4 967.3V973.3M713 967.3V973.3M729.6 967.3V973.3M746.2 967.3V973.3M762.8 967.3V973.3" stroke="#555" stroke-width="1.3" fill="none"/>
<rect x="852.3" y="772" width="326.7" height="195.3" fill="#fff"/>
<text class="t" transform="scale(1.04 1)" x="878.11" y="752" font-size="19" textLength="192.21" lengthAdjust="spacing">wheat absolute returns</text>
<path d="M853.5 915.5V966.1M854.5 892.5V965.2M855.5 892.5V967.1M856.5 952.2V967.5M857.5 952.2V967.5M858.5 948.4V967M863.5 904.7V967.6M871.5 890.1V967.6M876.5 857.1V967.6M879.5 884V967.6M883.5 929.2V967.6M891.5 931.9V967.6M892.5 932.4V967.2M893.5 921V967.6M894.5 932.6V966M895.5 802.2V967.5M896.5 944.2V967.6M897.5 948.8V967.6M898.5 949.3V967.3M899.5 920.6V967.3M900.5 940.3V964.2M901.5 934.3V965.6M902.5 944.4V967.6M903.5 944.5V967.5M904.5 946.8V967M905.5 943.3V967.5M906.5 943.6V967.5M907.5 947.7V967M908.5 945.8V967.5M909.5 945.5V967.5M910.5 931.2V967.5M911.5 931.2V966.9M912.5 915.7V967.2M913.5 940.8V966.7M914.5 928.3V967M915.5 936V966.8M916.5 948.5V966.5M917.5 941.8V966.2M918.5 952V966.3M919.5 912.1V966.7M920.5 943.1V967.4M921.5 941.7V967.1M922.5 934.9V967.3M923.5 938.2V967.2M924.5 940.3V967.3M925.5 938.6V965.7M926.5 941.7V964M927.5 931.1V965.2M928.5 946.9V965.8M929.5 933.8V967.3M930.5 930.7V967.4M931.5 953.6V967.4M932.5 941.7V967.4M933.5 950.5V967.6M934.5 953V967.4M935.5 945.8V966.8M936.5 931.4V967M937.5 947.5V967.5M938.5 944.5V966.7M939.5 947.1V966.4M940.5 937.6V966.7M941.5 937V966.5M942.5 931.8V966.4M943.5 942.9V966.7M944.5 939.8V966.6M945.5 938V964.3M946.5 946.1V967M947.5 936.7V967.5M948.5 946.8V967.3M949.5 955.3V967.5M950.5 947.6V966.8M951.5 937.8V966.3M952.5 940.9V966.8M953.5 942.5V967.4M954.5 934.5V967.2M955.5 944.4V967.1M956.5 942.5V967.2M957.5 946.9V967.4M958.5 950.8V967M959.5 956.8V967.5M960.5 950.5V967.3M961.5 952.5V965.5M962.5 835.2V967.4M963.5 946V965.7M964.5 940.3V967M965.5 936.3V967.5M966.5 939.6V967.2M967.5 954V967.3M968.5 946V967.1M969.5 945.5V966.8M970.5 933.3V964.6M971.5 911.4V966.7M972.5 949V966.9M973.5 953.8V967.5M974.5 953.3V967.5M975.5 943.9V965.5M976.5 938.2V967.4M977.5 941.3V967.4M978.5 851V967.3M979.5 948.8V967.4M980.5 950.3V964.3M981.5 942.5V965.7M982.5 942.3V967.6M983.5 942V966.1M984.5 942V964.8M985.5 906.2V965.8M986.5 934.1V964.7M987.5 936.6V967M988.5 932.3V967.1M989.5 936.7V966.9M990.5 940.8V967.2M991.5 943.1V966.1M992.5 939.5V967.1M993.5 943.9V967M994.5 948.6V967.4M995.5 937.3V965.5M996.5 888.9V965.7M997.5 930.9V964.7M998.5 929.3V967.1M999.5 937.5V967M1000.5 929.1V964.5M1001.5 924.9V967M1002.5 913.1V966.7M1003.5 924.3V965.5M1004.5 942.4V967.2M1005.5 948.7V966.8M1006.5 937V966.6M1007.5 939.8V966.9M1008.5 937V965.6M1009.5 852.3V967.5M1010.5 898.6V966.9M1011.5 948.3V965.6M1012.5 933.7V967.1M1013.5 942.4V965.6M1014.5 947.2V967.4M1015.5 903.5V966.3M1016.5 947.2V967.1M1017.5 944.8V967.5M1018.5 928.9V965.8M1019.5 938.5V967M1020.5 945.2V967M1021.5 935.9V963.6M1022.5 941V967.4M1023.5 935.3V967.5M1024.5 953.7V966.5M1025.5 956.2V967.6M1026.5 956.8V967.5M1027.5 951.2V966.8M1028.5 952V966.6M1029.5 953.1V967.3M1030.5 944.7V967.2M1031.5 944.8V967.1M1032.5 952.6V966.7M1033.5 957.7V967.2M1034.5 940.4V966.4M1035.5 948.1V967.6M1036.5 935V967M1037.5 942.3V967.4M1038.5 941.7V967.6M1039.5 953V967M1040.5 948.9V967.5M1041.5 958.2V967.4M1042.5 930.6V967.2M1043.5 928.4V966.7M1044.5 937.5V966.8M1045.5 932.5V967.1M1046.5 949.7V967.2M1047.5 914.5V967.5M1048.5 950.7V967.4M1049.5 916.1V966.9M1050.5 911.4V966.9M1051.5 938.8V962.5M1052.5 922.3V966.3M1053.5 940.8V965.7M1054.5 935.7V967.1M1055.5 918.3V967.4M1056.5 922V965.3M1057.5 938.1V967.2M1058.5 926.5V966M1059.5 946.7V967.3M1060.5 879.1V967.4M1061.5 938.9V966.4M1062.5 932.7V967.6M1063.5 879.1V967.5M1064.5 937.9V966M1065.5 954.6V966.9M1066.5 946.1V967.6M1067.5 932.5V967.1M1068.5 949.7V967.6M1069.5 946V965.5M1070.5 953.1V966.6M1071.5 945.6V967.5M1072.5 950.2V967.6M1073.5 946.7V965.2M1074.5 946.3V966.8M1075.5 938.9V967.5M1076.5 938.9V967.5M1077.5 936.9V966.8M1078.5 948.8V967M1079.5 936.9V967.3M1080.5 940.9V967.5M1081.5 939.2V967.5M1082.5 937V967.3M1083.5 936.2V966.4M1084.5 942V965.7M1085.5 930.2V965.6M1086.5 924.2V965.4M1087.5 938.3V965.8M1088.5 935.7V967.6M1089.5 935.6V965.9M1090.5 927.8V966.4M1091.5 937.3V967.5M1092.5 947.2V967.2M1093.5 952.9V967.1M1094.5 944.5V967.4M1095.5 945.8V967.5M1096.5 955.8V967.6M1097.5 957V967.3M1098.5 955.4V967M1099.5 950.2V967.3M1100.5 929.9V967.5M1101.5 931.8V967.5M1102.5 931.8V966.9M1103.5 938.3V965.6M1104.5 938.8V967.4M1105.5 944.1V967.4M1106.5 948V966.1M1107.5 944.5V967.1M1108.5 951.8V967M1109.5 953.6V967.3M1110.5 955.5V967.1M1111.5 941.2V967.4M1112.5 956V967.5M1113.5 906V967.3M1114.5 918.2V967M1115.5 956.1V966.4M1116.5 949.2V966.4M1117.5 960.2V967.5M1118.5 947.1V967.5M1119.5 943.9V966.6M1120.5 943.9V967.2M1121.5 958.2V965.8M1122.5 957.9V966.9M1123.5 942.1V967.2M1124.5 955V967.2M1125.5 940.3V967.1M1126.5 934.2V963.9M1127.5 935.6V965.5M1128.5 950.8V967.4M1129.5 950.4V967.4M1130.5 935.2V966.8M1131.5 933V966.5M1132.5 926.8V967.2M1133.5 942.9V965.8M1134.5 943.7V966.9M1135.5 948.9V967.1M1136.5 935.1V963.7M1137.5 941.7V967M1138.5 926.3V965.2M1139.5 938.4V966.8M1140.5 933.2V966.7M1141.5 937.2V964.3M1142.5 939.9V966.9M1143.5 949.2V967M1144.5 947.4V967.4M1145.5 945.8V967.2M1146.5 917V967M1147.5 947.5V966.4M1148.5 948.8V967.3M1149.5 951.4V965.1M1150.5 933.5V966.1M1151.5 948.2V966.9M1152.5 928V966.6M1153.5 945V965.9M1154.5 929.6V966.6M1155.5 944.8V967.2M1156.5 948V966.2M1157.5 945.9V965.9M1158.5 954.1V967.2M1159.5 946.1V965.6M1160.5 877.9V966.4M1161.5 941.9V966.7M1162.5 943.6V966.9M1163.5 870.6V966.6M1164.5 935.1V967.4M1165.5 924.7V962.9M1166.5 942.8V967M1167.5 930.1V967.3M1168.5 942.2V966.8M1169.5 952.9V967.1M1170.5 941.2V966.6M1171.5 941.2V966.7M1172.5 948.4V966.1M1173.5 928.2V967M1174.5 926.8V967.6M1175.5 947.8V965.9M1176.5 947.8V964.7M1177.5 936.5V966.7" stroke="#5656ff" stroke-width="1.4" fill="none"/><path d="M853.5 925.1V965.9M854.5 934.7V964.4M855.5 936.7V966.8M856.5 952.6V967.5M857.5 955.4V967.2M858.5 951.7V966.9M859.5 955V967.6M859.5 960.5V967.6M860.5 958V967.6M860.5 965.1V967.6M861.5 957V967.6M861.5 963.2V967.6M862.5 967V967.6M863.5 963.3V967.6M864.5 946.9V967.6M864.5 965.8V967.6M865.5 948.6V967.6M865.5 965.7V967.6M866.5 946.6V967.6M866.5 960.9V967.6M867.5 961.8V967.6M868.5 966.1V967.6M869.5 950.6V967.6M869.5 966.1V967.6M870.5 960.9V967.6M870.5 965.3V967.6M871.5 959.7V967.6M871.5 966.2V967.6M872.5 962V967.6M873.5 965.6V967.6M874.5 956.3V967.6M874.5 964.6V967.6M875.5 955V967.6M875.5 964.6V967.6M876.5 953.8V967.6M876.5 966.1V967.6M877.5 967V967.6M878.5 960.7V967.6M878.5 965.5V967.6M879.5 961.7V967.6M879.5 966.9V967.6M880.5 956.9V967.6M880.5 966V967.6M881.5 953.2V967.6M881.5 966.8V967.6M882.5 964.3V967.6M883.5 960.8V967.6M883.5 962.2V967.6M884.5 951V967.6M884.5 961V967.6M885.5 960V967.6M885.5 967V967.6M886.5 958.6V967.6M886.5 963.9V967.6M887.5 966.1V967.6M888.5 949V967.6M888.5 962.1V967.6M889.5 937.2V967.6M889.5 967V967.6M890.5 951.7V967.6M890.5 963.5V967.6M891.5 943.8V967.6M892.5 933.9V966.7M893.5 932.3V966.8M894.5 935.1V963.1M895.5 948V966.7M896.5 948.2V967.6M897.5 952.8V966.5M898.5 951.9V966.2M899.5 942.2V964.2M900.5 943.9V964.1M901.5 940.1V964.7M902.5 947.5V967.4M903.5 949.9V966.8M904.5 948.8V966.4M905.5 947.8V967.3M906.5 947.5V966.9M907.5 951.3V967M908.5 949.4V967.4M909.5 948.6V967.1M910.5 935.6V966.2M911.5 936.7V966.8M912.5 932.2V966.4M913.5 942.7V964.9M914.5 931.8V966.9M915.5 941.2V965M916.5 949V966.4M917.5 946.7V966.1M918.5 952.6V966M919.5 949V966.6M920.5 946.4V966.8M921.5 942.3V966.9M922.5 936.8V965.3M923.5 942.4V967.1M924.5 943.4V966.4M925.5 938.6V965.4M926.5 944.6V962.6M927.5 932.7V965.1M928.5 948.8V965.1M929.5 938.9V966.9M930.5 936.3V967.4M931.5 953.6V967.2M932.5 948.7V966.2M933.5 953V967.6M934.5 954.3V967M935.5 951V966.7M936.5 935.6V965.6M937.5 947.6V966.4M938.5 944.8V966.4M939.5 948.9V966M940.5 938.2V966.1M941.5 938.9V965.2M942.5 931.9V966M943.5 943.7V966.6M944.5 943V966.1M945.5 944.2V963.8M946.5 946.8V966.5M947.5 946.5V967.5M948.5 947V966.8M949.5 955.5V967.4M950.5 952V966.5M951.5 940.7V966.1M952.5 943.8V965.9M953.5 945.7V966.8M954.5 935.4V966.4M955.5 947.9V966.8M956.5 950.9V966.8M957.5 950.9V967.2M958.5 952.7V966.4M959.5 957.9V967.4M960.5 952V967M961.5 952.9V964.9M962.5 951.2V967.2M963.5 948.6V965.7M964.5 942.5V966.3M965.5 939.9V967M966.5 946.9V967M967.5 954.7V966.8M968.5 947.5V967M969.5 946.8V964.6M970.5 936.4V963.4M971.5 929.9V965.5M972.5 949.1V966.7M973.5 955.6V967.2M974.5 956.6V967.5M975.5 948.7V965.4M976.5 940.3V966.8M977.5 946.5V967.4M978.5 952.2V966.9M979.5 949.2V967.4M980.5 952.3V963.5M981.5 945.2V965.3M982.5 944.5V967.2M983.5 946.7V964.6M984.5 944.7V964.5M985.5 914.3V964.2M986.5 935.5V964.6M987.5 943.4V966.4M988.5 941V967M989.5 946.4V966.9M990.5 945.4V966.4M991.5 943.7V965.9M992.5 942V965.6M993.5 953.2V966.3M994.5 950.3V967.2M995.5 940.6V964.6M996.5 927.3V964.6M997.5 931.5V964M998.5 929.7V967M999.5 941.5V965.7M1000.5 934.6V963.9M1001.5 935.1V966.3M1002.5 928.6V965.9M1003.5 930.4V963.9M1004.5 942.7V966.4M1005.5 953.3V966.5M1006.5 944.4V965.8M1007.5 940.8V966.4M1008.5 941.5V965.3M1009.5 935.9V967M1010.5 951.6V966.5M1011.5 948.3V965.5M1012.5 935.5V966.5M1013.5 943.1V965.3M1014.5 947.8V966.8M1015.5 953.3V965.6M1016.5 948.5V965.9M1017.5 945.9V967.4M1018.5 936.6V965.2M1019.5 940.1V966.6M1020.5 945.9V964.7M1021.5 937.1V963M1022.5 943.7V967.4M1023.5 942.8V967.1M1024.5 955.2V966.4M1025.5 956.4V967.5M1026.5 957.2V967.1M1027.5 954.2V965.8M1028.5 954.9V966.6M1029.5 955.5V966.9M1030.5 945.2V966.4M1031.5 948V967M1032.5 954V966.6M1033.5 957.8V967M1034.5 943.8V966M1035.5 950V966.8M1036.5 942.8V966.5M1037.5 944.9V967M1038.5 947.6V967.4M1039.5 953.2V965.4M1040.5 950V967.1M1041.5 958.3V967.4M1042.5 933.4V967.2M1043.5 933.8V966.5M1044.5 938.2V966.5M1045.5 944.5V966.8M1046.5 950.7V966.4M1047.5 943.5V967.5M1048.5 952.9V967.3M1049.5 926.5V966.2M1050.5 926.3V965.3M1051.5 940V960M1052.5 931V966M1053.5 943.2V965.6M1054.5 939.6V966.4M1055.5 923.9V966.9M1056.5 923.1V963M1057.5 939.5V965.6M1058.5 926.6V965.1M1059.5 947.4V966.9M1060.5 949.5V966.9M1061.5 940.6V966M1062.5 937.2V967.5M1063.5 950.3V967M1064.5 941.9V965.6M1065.5 955.4V966.6M1066.5 949.2V967.3M1067.5 933.1V966.3M1068.5 950.8V967.3M1069.5 946.5V964.7M1070.5 954.3V966M1071.5 948.4V967.1M1072.5 950.2V967M1073.5 947.2V965.2M1074.5 949.9V966.8M1075.5 948.2V967.2M1076.5 943.3V967.3M1077.5 939.9V966.3M1078.5 949.6V967M1079.5 939V966.9M1080.5 946.5V966.6M1081.5 940.8V967.1M1082.5 938.1V966M1083.5 936.9V966M1084.5 943.7V965.6M1085.5 939.3V965.5M1086.5 929.7V965M1087.5 945V964.7M1088.5 938.9V967.1M1089.5 938.9V965.5M1090.5 937.6V966.3M1091.5 942.7V965.3M1092.5 948.3V965.6M1093.5 955.7V966.8M1094.5 947.9V967.2M1095.5 948.6V967.3M1096.5 957.9V967.5M1097.5 957.7V967.3M1098.5 955.5V966.8M1099.5 950.4V967.2M1100.5 931.2V967.2M1101.5 937.5V966.6M1102.5 949.4V966.7M1103.5 943.3V965.3M1104.5 940V967.3M1105.5 946.1V967.3M1106.5 951.3V965.9M1107.5 945.3V967.1M1108.5 952.8V966.3M1109.5 957.6V967.3M1110.5 955.7V967.1M1111.5 947.3V967.3M1112.5 956.5V967.4M1113.5 957.2V967M1114.5 955.2V966.8M1115.5 956.2V966.2M1116.5 951.5V966.4M1117.5 960.9V967.4M1118.5 951.1V966.8M1119.5 948.4V966.2M1120.5 950.2V967.1M1121.5 958.2V965.3M1122.5 959.3V966.7M1123.5 947.9V966.5M1124.5 955.4V967.2M1125.5 946.7V966.4M1126.5 938.7V962.8M1127.5 939.3V965.2M1128.5 951.7V967.4M1129.5 953.1V967.3M1130.5 942.5V966.6M1131.5 933.9V965.8M1132.5 940.3V966.2M1133.5 944.9V965.6M1134.5 946.8V966.7M1135.5 952.3V967.1M1136.5 937.2V963.1M1137.5 946.5V966.8M1138.5 934.5V962.9M1139.5 943.3V965.5M1140.5 937.6V966.3M1141.5 938.7V964M1142.5 956.1V965.7M1143.5 954.2V966.4M1144.5 948.5V967.1M1145.5 946.6V967.1M1146.5 944.6V966.7M1147.5 948.9V966M1148.5 948.8V966.6M1149.5 954.3V964.6M1150.5 945.2V965.8M1151.5 949.1V966.7M1152.5 933.9V965.9M1153.5 950.7V965.8M1154.5 934.2V966.4M1155.5 944.9V967M1156.5 948.1V965.8M1157.5 947.5V965.7M1158.5 954.2V966.8M1159.5 950.4V964.9M1160.5 945.4V966M1161.5 943V966.6M1162.5 946.7V966.5M1163.5 943.7V966.3M1164.5 938.3V966.7M1165.5 929.8V961.8M1166.5 947.4V966.4M1167.5 938.5V967M1168.5 942.3V965.6M1169.5 954.4V966.3M1170.5 946.3V966.3M1171.5 945.7V966.5M1172.5 952.1V966M1173.5 939.7V966.5M1174.5 932.4V967.5M1175.5 947.8V965.7M1176.5 952.7V964.3M1177.5 943.8V965.8" stroke="#0000ff" stroke-width="1.15" fill="none"/><circle cx="867.2" cy="934.3" r="1.6" fill="#0000ff"/>
<rect x="851" y="771" width="329" height="1" fill="#484848"/>
<rect x="851" y="771" width="2" height="197" fill="#727272"/>
<rect x="1178" y="771" width="2" height="197" fill="#6a6a6a"/>
<rect x="851" y="966" width="329" height="2" fill="#757575"/>
<text transform="translate(844.3 776.8) scale(1.02 1)" font-size="16" text-anchor="end">.16</text>
<text transform="translate(844.3 825.62) scale(1.02 1)" font-size="16" text-anchor="end">.12</text>
<text transform="translate(844.3 874.45) scale(1.02 1)" font-size="16" text-anchor="end">.08</text>
<text transform="translate(844.3 923.27) scale(1.02 1)" font-size="16" text-anchor="end">.04</text>
<text transform="translate(844.3 972.1) scale(1.02 1)" font-size="16" text-anchor="end">.00</text>
<text transform="translate(875.85 989.5) scale(1.02 1)" font-size="16" text-anchor="middle">00</text>
<text transform="translate(909.25 989.5) scale(1.02 1)" font-size="16" text-anchor="middle">02</text>
<text transform="translate(942.65 989.5) scale(1.02 1)" font-size="16" text-anchor="middle">04</text>
<text transform="translate(976.05 989.5) scale(1.02 1)" font-size="16" text-anchor="middle">06</text>
<text transform="translate(1009.45 989.5) scale(1.02 1)" font-size="16" text-anchor="middle">08</text>
<text transform="translate(1042.85 989.5) scale(1.02 1)" font-size="16" text-anchor="middle">10</text>
<text transform="translate(1076.25 989.5) scale(1.02 1)" font-size="16" text-anchor="middle">12</text>
<text transform="translate(1109.65 989.5) scale(1.02 1)" font-size="16" text-anchor="middle">14</text>
<text transform="translate(1143.05 989.5) scale(1.02 1)" font-size="16" text-anchor="middle">16</text>
<text transform="translate(1176.45 989.5) scale(1.02 1)" font-size="16" text-anchor="middle">18</text>
<path d="M846.8 772H852.3M846.8 820.83H852.3M846.8 869.65H852.3M846.8 918.47H852.3M846.8 967.3H852.3M867.5 967.3V973.3M884.2 967.3V973.3M900.9 967.3V973.3M917.6 967.3V973.3M934.3 967.3V973.3M951 967.3V973.3M967.7 967.3V973.3M984.4 967.3V973.3M1001.1 967.3V973.3M1017.8 967.3V973.3M1034.5 967.3V973.3M1051.2 967.3V973.3M1067.9 967.3V973.3M1084.6 967.3V973.3M1101.3 967.3V973.3M1118 967.3V973.3M1134.7 967.3V973.3M1151.4 967.3V973.3M1168.1 967.3V973.3" stroke="#555" stroke-width="1.3" fill="none"/>
<rect x="41.8" y="1170.4" width="326.6" height="187.5" fill="#fff"/>
<text class="t" transform="scale(1.06 1)" x="97.53" y="1150.7" font-size="18.5" textLength="192.28" lengthAdjust="spacing">sunflower_seed returns</text>
<path d="M42.5 1277.8V1285.7M43.5 1268.1V1293.2M44.5 1269V1292.2M45.5 1267.3V1299.1M46.5 1275.6V1294.7M47.5 1262.9V1295.2M48.5 1275.4V1304.2M49.5 1265.5V1298.4M50.5 1276V1292.7M51.5 1273V1291M52.5 1274.4V1291M53.5 1269.7V1292.3M54.5 1277.2V1294.2M55.5 1274.4V1290.7M56.5 1273.5V1288.8M57.5 1277.6V1295M58.5 1274.2V1285.9M59.5 1273.4V1286.8M60.5 1271.1V1288M61.5 1277.4V1292.4M62.5 1277.8V1286.7M63.5 1270.2V1290.2M64.5 1279.2V1288.2M65.5 1273.4V1291.8M66.5 1278.5V1290M67.5 1279.7V1288.2M68.5 1279.6V1286.6M69.5 1274.8V1289.9M70.5 1277.8V1289.1M71.5 1277.1V1289.6M72.5 1277.2V1290.9M73.5 1276.9V1302.7M74.5 1275.9V1290.8M75.5 1276.3V1294.9M76.5 1276.5V1288.2M77.5 1276.5V1288.5M78.5 1275.7V1290.2M79.5 1273.8V1290.4M80.5 1276.3V1291.7M81.5 1273.7V1290.1M82.5 1254.5V1290.1M83.5 1276V1302.7M84.5 1271.1V1289.4M85.5 1276.8V1288.8M86.5 1276V1287.3M87.5 1276.5V1290.3M88.5 1272.2V1289.7M89.5 1247V1298.1M90.5 1278.7V1294M91.5 1276.1V1289.7M92.5 1279V1288.5M93.5 1269.1V1303.8M94.5 1274.9V1294M95.5 1273.7V1289.5M96.5 1278V1291M97.5 1266.7V1288.7M98.5 1274.4V1288.9M99.5 1276.5V1297.5M100.5 1275.7V1290.8M101.5 1264.2V1294.9M102.5 1279V1290.2M103.5 1273.9V1287.1M104.5 1277.3V1287.5M105.5 1273.7V1289M106.5 1268.7V1292M107.5 1272.6V1289.5M108.5 1278.1V1292.5M109.5 1264.9V1290.8M110.5 1264.9V1288.1M111.5 1278V1296.7M112.5 1274V1289M113.5 1268V1290.8M114.5 1263.5V1292.5M115.5 1276.4V1294.2M116.5 1275.6V1290.1M117.5 1278.6V1290.2M118.5 1272.5V1286M119.5 1278.5V1295.8M120.5 1272.2V1292.1M121.5 1278.5V1288.9M122.5 1263.9V1323.7M123.5 1276.8V1296.3M124.5 1274.6V1288.4M125.5 1278.6V1295M126.5 1278.6V1286.6M127.5 1273.8V1314.7M128.5 1277.6V1287.8M129.5 1274.7V1294.4M130.5 1271.6V1287.4M131.5 1277.1V1291.3M132.5 1277.1V1290.5M133.5 1273.1V1286.2M134.5 1278.8V1287.3M135.5 1274.8V1291.8M136.5 1278.8V1289M137.5 1273.9V1288.8M138.5 1279.1V1287.1M139.5 1278.7V1288.5M140.5 1277.7V1308.7M141.5 1277.1V1289.8M142.5 1277.1V1285.7M143.5 1273V1287.1M144.5 1279V1288.4M145.5 1277.3V1289.1M146.5 1279.9V1287.3M147.5 1276.2V1291.1M148.5 1277V1287.1M149.5 1268.4V1291.8M150.5 1277.8V1288.5M151.5 1273.5V1291.2M152.5 1277.6V1290.1M153.5 1278.8V1287.4M154.5 1273.2V1292.2M155.5 1260.9V1288.8M156.5 1277.4V1286.5M157.5 1278V1292.8M158.5 1278V1287.8M159.5 1278.6V1286.7M160.5 1273V1288.6M161.5 1273.1V1287M162.5 1257.5V1289.2M163.5 1275V1317M164.5 1277.3V1289M165.5 1276.6V1286.2M166.5 1271.5V1299.2M167.5 1278.4V1290.5M168.5 1278.5V1290.4M169.5 1276.6V1292.8M170.5 1274V1289.3M171.5 1279.2V1288.9M172.5 1274.2V1290.3M173.5 1276.9V1288.6M174.5 1277.9V1290.2M175.5 1275.6V1287.1M176.5 1272.4V1288.4M177.5 1273.9V1291.9M178.5 1268.5V1296.4M179.5 1278.3V1292M180.5 1205V1285.3M181.5 1272.8V1290.5M182.5 1278.8V1296.1M183.5 1277.1V1288.9M184.5 1277.5V1289.4M185.5 1273.7V1291.5M186.5 1274V1288.2M187.5 1276.9V1289.8M188.5 1276.8V1291.7M189.5 1276.1V1328.2M190.5 1274.4V1287.9M191.5 1276.8V1287.7M192.5 1274.6V1290.7M193.5 1276.6V1296.9M194.5 1279.3V1296.9M195.5 1275.9V1286.5M196.5 1277.3V1288.2M197.5 1274.5V1287.5M198.5 1279.1V1289.5M199.5 1278.9V1288.8M200.5 1277.6V1285.1M201.5 1278.6V1291.7M202.5 1280.1V1289.2M203.5 1277.2V1287.3M204.5 1277.2V1287.4M205.5 1273.5V1290.2M206.5 1277.4V1327.1M207.5 1279.2V1286.3M208.5 1278.4V1290.1M209.5 1276.8V1285.3M210.5 1280.2V1287.5M211.5 1276.3V1287.6M212.5 1272.4V1287.6M213.5 1279.6V1287.2M214.5 1273.3V1289.3M215.5 1275.8V1290.2M216.5 1277.5V1310.2M217.5 1277.5V1287.1M218.5 1277V1287.8M219.5 1271.5V1289M220.5 1274V1288.4M221.5 1277.8V1294.5M222.5 1277.8V1286.1M223.5 1277.3V1291.7M224.5 1275V1287.3M225.5 1276.5V1287.3M226.5 1272.2V1287.6M227.5 1276V1285.7M228.5 1277V1288.1M229.5 1273V1287.1M230.5 1268.4V1299M231.5 1276.3V1290M232.5 1276.1V1287.9M233.5 1273.1V1291.7M234.5 1278.3V1288.4M235.5 1275.2V1289.5M236.5 1277.5V1287.9M237.5 1274.9V1287.8M238.5 1278V1287.9M239.5 1277.8V1287.6M240.5 1277.2V1317.7M241.5 1274.8V1294.1M242.5 1271.1V1290.4M243.5 1271.7V1289.5M244.5 1278.7V1305M245.5 1279.7V1288.5M246.5 1277.9V1287.1M247.5 1279.4V1291.6M248.5 1274.9V1290M249.5 1274.9V1290.7M250.5 1278V1294.3M251.5 1271.6V1287.3M252.5 1278.7V1290.4M253.5 1279.4V1291.5M254.5 1279.5V1287.3M255.5 1278.3V1290.1M256.5 1278.2V1288.1M257.5 1277.9V1288M258.5 1276.3V1287.3M259.5 1274.9V1293.5M260.5 1279.5V1290.4M261.5 1277.7V1288.2M262.5 1280.1V1287M263.5 1277.6V1291.7M264.5 1278.3V1289.5M265.5 1275.7V1287.6M266.5 1278.1V1286.3M267.5 1280V1284.6M268.5 1280.2V1287.4M269.5 1276.5V1288.9M270.5 1275.4V1291.3M271.5 1276.3V1286.6M272.5 1273.1V1286.7M273.5 1273.3V1285.3M274.5 1273.3V1345.1M275.5 1280.3V1292.4M276.5 1278.7V1286.5M277.5 1278.4V1286.9M278.5 1277.5V1284.9M279.5 1278V1286.8M280.5 1280.9V1286.6M281.5 1278.6V1288.2M282.5 1280V1286.3M283.5 1280.1V1286.6M284.5 1276.4V1290.1M285.5 1277.6V1286.6M286.5 1278.7V1288.8M287.5 1277.5V1287.8M288.5 1279.5V1286.8M289.5 1275.6V1285.5M290.5 1278.1V1287.9M291.5 1274.9V1341.3M292.5 1275.4V1287.1M293.5 1272.4V1287.9M294.5 1277.4V1289.4M295.5 1252.6V1339.5M296.5 1278.9V1288.3M297.5 1279V1285.8M298.5 1279.2V1287M299.5 1281V1289.8M300.5 1277.5V1285.7M301.5 1277.2V1286.9M302.5 1278.7V1285M303.5 1277.6V1288.8M304.5 1280.6V1288.6M305.5 1278.7V1287.2M306.5 1278.9V1286.8M307.5 1275.4V1288.6M308.5 1275.4V1285.6M309.5 1279.6V1289M310.5 1276.7V1286.4M311.5 1277.3V1288.6M312.5 1271.7V1289.6M313.5 1276.1V1288.2M314.5 1277.2V1291M315.5 1278V1287.5M316.5 1280.3V1287.5M317.5 1278.1V1286.4M318.5 1281.2V1285.6M319.5 1281V1286M320.5 1277.3V1288.7M321.5 1279.7V1289.9M322.5 1272.8V1290.1M323.5 1276.8V1288.1M324.5 1278.4V1287.6M325.5 1276.5V1288.5M326.5 1280.2V1287.7M327.5 1270.4V1288.7M328.5 1273V1323.7M329.5 1275.8V1291.4M330.5 1276.3V1288.9M331.5 1277.1V1291.4M332.5 1275.5V1287.6M333.5 1277.3V1287.9M334.5 1278.5V1291.7M335.5 1276.8V1288.9M336.5 1275.5V1287.8M337.5 1278.7V1288.3M338.5 1278.1V1286.3M339.5 1275.5V1286.8M340.5 1276.5V1296.1M341.5 1276.5V1288.5M342.5 1277.2V1293.2M343.5 1271.7V1291.8M344.5 1279V1291.8M345.5 1275.3V1290.8M346.5 1277.4V1293.2M347.5 1274.3V1295.4M348.5 1271.9V1289.3M349.5 1272.4V1289.3M350.5 1274.2V1290M351.5 1274.2V1288.7M352.5 1275.9V1291.8M353.5 1277.2V1290.8M354.5 1276.5V1288.1M355.5 1270.5V1289.6M356.5 1267.8V1289.3M357.5 1275.6V1291.1M358.5 1274.8V1293.1M359.5 1269.7V1290.1M360.5 1269.9V1290.1M361.5 1268.1V1289.4M362.5 1263.9V1287.8M363.5 1273.7V1299.2M364.5 1272.9V1286.8M365.5 1268.6V1295.7M366.5 1268.6V1288.4M367.5 1274.2V1287.1" stroke="#5656ff" stroke-width="1.4" fill="none"/><path d="M43.5 1269.5V1292.2M44.5 1270.7V1292.1M45.5 1271.3V1294.7M46.5 1276.2V1292.4M47.5 1267.6V1293M48.5 1275.5V1294.3M49.5 1269.3V1295.3M50.5 1277.6V1289.4M51.5 1275.7V1290.9M52.5 1276.9V1288.9M53.5 1270.5V1292.2M54.5 1277.8V1294.1M55.5 1275.5V1290.6M56.5 1276.4V1288.7M57.5 1278.1V1293M58.5 1275.4V1285.4M59.5 1275.5V1286M60.5 1274.8V1287M61.5 1277.6V1291.5M62.5 1279.6V1286.4M63.5 1272.6V1289M64.5 1279.4V1288.1M65.5 1277.6V1289.1M66.5 1278.8V1289.3M67.5 1280V1288.1M68.5 1279.7V1286M69.5 1276.7V1289.7M70.5 1278.1V1287.9M71.5 1279.5V1289.4M72.5 1278V1289.5M73.5 1277.9V1297.2M74.5 1276.4V1289.4M75.5 1277.5V1291.1M76.5 1278.2V1288.1M77.5 1281.7V1288.3M78.5 1278V1288.2M79.5 1276.2V1287.2M80.5 1276.7V1289.7M81.5 1275.1V1288.4M82.5 1277.8V1285.5M83.5 1278.3V1287.7M84.5 1272.9V1288.7M85.5 1277.1V1288.7M86.5 1276.8V1287.3M87.5 1277V1290.1M88.5 1275.7V1287.3M89.5 1280.2V1293.7M90.5 1279.1V1291M91.5 1278.8V1286.8M92.5 1279.5V1287M93.5 1273.8V1287.7M94.5 1277.7V1293M95.5 1273.9V1288.7M96.5 1278.4V1289.4M97.5 1273.2V1288.1M98.5 1275.5V1287.8M99.5 1279.1V1293.7M100.5 1275.8V1289.9M101.5 1270.2V1292.6M102.5 1279.2V1289.4M103.5 1276.7V1287.1M104.5 1278.6V1286.1M105.5 1276.8V1287.8M106.5 1271.1V1287.9M107.5 1273.4V1289.5M108.5 1278.2V1291M109.5 1269.7V1289.3M110.5 1272V1287.9M111.5 1279V1291.7M112.5 1276.2V1288.2M113.5 1271V1288.2M114.5 1277.3V1291.7M115.5 1277.8V1291.2M116.5 1276.9V1288.8M117.5 1279.4V1287.8M118.5 1273.5V1285.6M119.5 1279.4V1294.2M120.5 1276.9V1290.3M121.5 1278.8V1287.3M122.5 1277.7V1291.4M123.5 1277.1V1287M124.5 1276.9V1287.9M125.5 1279V1293.1M126.5 1280V1286.1M127.5 1276.3V1287.9M128.5 1278.1V1287.4M129.5 1276.4V1290.8M130.5 1272.6V1287M131.5 1278.2V1289.4M132.5 1277.1V1289.5M133.5 1275.2V1285.8M134.5 1279.3V1285.9M135.5 1276.4V1290.4M136.5 1279.4V1287.4M137.5 1275V1287.9M138.5 1279.3V1287.1M139.5 1279.5V1288.4M140.5 1278.9V1285.5M141.5 1278.2V1289.5M142.5 1278V1285.6M143.5 1277V1287M144.5 1279.8V1288.3M145.5 1277.7V1288.8M146.5 1280V1286.4M147.5 1278.2V1288.8M148.5 1277.6V1286.8M149.5 1272.9V1290.5M150.5 1279.3V1288.2M151.5 1275.3V1288.3M152.5 1279.5V1289.9M153.5 1279.5V1286.6M154.5 1275.2V1290.9M155.5 1280.6V1287.1M156.5 1277.5V1286.4M157.5 1278.9V1290M158.5 1278.9V1285.7M159.5 1279.2V1286.2M160.5 1274.2V1287.4M161.5 1277.3V1286.6M162.5 1278.6V1288.4M163.5 1276.9V1288.2M164.5 1278.3V1288.9M165.5 1277.3V1285.6M166.5 1272.6V1292M167.5 1279.1V1289.1M168.5 1278.9V1288.8M169.5 1277.6V1292.3M170.5 1277.1V1288.6M171.5 1279.6V1287.9M172.5 1275.2V1287.3M173.5 1277.3V1287.7M174.5 1278.5V1290M175.5 1277.9V1285.2M176.5 1273.4V1286.8M177.5 1274.7V1289.7M178.5 1271.4V1296.3M179.5 1278.7V1292M180.5 1278.6V1285.2M181.5 1274V1287.4M182.5 1279V1294.5M183.5 1278.4V1288.7M184.5 1277.9V1288.3M185.5 1273.9V1288.3M186.5 1277V1288.1M187.5 1277.7V1289.3M188.5 1278.5V1289.9M189.5 1277.7V1290.1M190.5 1276.2V1287.5M191.5 1277.6V1287M192.5 1276.4V1288.9M193.5 1277.4V1292.5M194.5 1279.9V1291M195.5 1276.2V1285.5M196.5 1278V1287.9M197.5 1275.4V1286.5M198.5 1279.9V1289.5M199.5 1279.1V1287.5M200.5 1278.1V1284.6M201.5 1278.8V1288.3M202.5 1280.1V1288.2M203.5 1279.2V1286.3M204.5 1279.1V1286.6M205.5 1277.7V1289M206.5 1278.7V1285.5M207.5 1279.9V1285.7M208.5 1279.2V1289M209.5 1277.6V1285.2M210.5 1280.3V1287M211.5 1277.4V1287.5M212.5 1274.9V1286.4M213.5 1279.7V1287.1M214.5 1276.4V1288.4M215.5 1277.9V1288.8M216.5 1279.1V1286.3M217.5 1278.6V1286.9M218.5 1278.2V1287.5M219.5 1273.5V1289M220.5 1275.5V1287.6M221.5 1278.9V1290.6M222.5 1278V1285.9M223.5 1277.9V1289.2M224.5 1276.5V1286.3M225.5 1276.8V1286.7M226.5 1273.1V1287.5M227.5 1278.8V1285.6M228.5 1277.7V1287.4M229.5 1275.5V1286.2M230.5 1274.5V1297.8M231.5 1276.9V1289M232.5 1278.5V1287.9M233.5 1274.2V1291.5M234.5 1280.3V1287.6M235.5 1277.1V1288.3M236.5 1278.4V1286.9M237.5 1276.5V1286.8M238.5 1279V1286.5M239.5 1278.2V1286.6M240.5 1278.6V1289.1M241.5 1276.9V1291.8M242.5 1274.8V1289.9M243.5 1273.8V1287.2M244.5 1278.8V1287.9M245.5 1279.7V1287.3M246.5 1278.6V1286.8M247.5 1280.1V1289.3M248.5 1275.9V1289.7M249.5 1278.3V1289.1M250.5 1279.7V1292.4M251.5 1273.3V1287M252.5 1279.5V1289M253.5 1279.9V1289.4M254.5 1280.3V1287.1M255.5 1279.2V1289M256.5 1278.9V1287.5M257.5 1278.3V1287.5M258.5 1278.5V1287.3M259.5 1277.6V1289.7M260.5 1279.9V1288.1M261.5 1279.1V1287.8M262.5 1280.2V1286.7M263.5 1279.1V1289M264.5 1278.8V1287M265.5 1277V1286.3M266.5 1278.7V1286.2M267.5 1280.1V1283.9M268.5 1280.8V1287.2M269.5 1278.3V1286.6M270.5 1276.2V1289.5M271.5 1276.6V1286.3M272.5 1274.5V1285.4M273.5 1276.6V1285M274.5 1275.2V1291.6M275.5 1280.5V1285.4M276.5 1279.1V1285.6M277.5 1278.4V1286.5M278.5 1277.9V1284.5M279.5 1280V1286.1M280.5 1281V1286.4M281.5 1279.5V1288.1M282.5 1280.2V1285.3M283.5 1280.1V1286.6M284.5 1277.1V1288.8M285.5 1279.8V1286M286.5 1279.2V1288.1M287.5 1278.6V1287.7M288.5 1280.3V1286.6M289.5 1276.7V1285.5M290.5 1279.3V1286.9M291.5 1275.6V1284.7M292.5 1276.1V1287M293.5 1275.2V1287.4M294.5 1278.6V1289.1M295.5 1281V1285.4M296.5 1279.3V1286.3M297.5 1280.1V1285.4M298.5 1280.3V1287M299.5 1281.1V1288M300.5 1278.3V1284.8M301.5 1278.1V1286.3M302.5 1279.1V1284.7M303.5 1278.2V1288.4M304.5 1280.7V1288.2M305.5 1280.3V1287.1M306.5 1279.6V1286.5M307.5 1277V1288.2M308.5 1278.9V1285.6M309.5 1280V1288.9M310.5 1277V1285.9M311.5 1278.4V1287.8M312.5 1275.6V1288.9M313.5 1276.9V1288.1M314.5 1278.6V1287.3M315.5 1278.8V1286.5M316.5 1280.8V1285.1M317.5 1279.5V1286.1M318.5 1281.2V1285.4M319.5 1281.2V1285M320.5 1279V1287.3M321.5 1279.8V1287.6M322.5 1276.4V1288.8M323.5 1277V1287.2M324.5 1278.6V1286.5M325.5 1277V1287.2M326.5 1280.6V1287.4M327.5 1271.1V1288.5M328.5 1273.3V1283.9M329.5 1276.1V1290.3M330.5 1278.7V1288.3M331.5 1277.8V1288.7M332.5 1276.5V1287.4M333.5 1278.5V1286.5M334.5 1279.7V1289.2M335.5 1276.8V1288.1M336.5 1277.1V1287.4M337.5 1278.9V1286.9M338.5 1278.3V1286M339.5 1276.9V1286.2M340.5 1276.8V1293M341.5 1277.2V1287.9M342.5 1277.3V1289.6M343.5 1273.5V1290.1M344.5 1279.7V1288.1M345.5 1275.9V1289.9M346.5 1278.7V1292.1M347.5 1277.1V1292.3M348.5 1274.2V1287.7M349.5 1274.7V1288.5M350.5 1274.4V1287.2M351.5 1277.4V1287M352.5 1276.6V1291.3M353.5 1277.3V1290.4M354.5 1277.2V1287.4M355.5 1273.5V1289.4M356.5 1268.4V1286.2M357.5 1277.3V1290.2M358.5 1276.7V1289.6M359.5 1272V1289.3M360.5 1271.3V1287M361.5 1272.7V1288.3M362.5 1273.3V1287.4M363.5 1276.9V1298.4M364.5 1274.4V1286.3M365.5 1272.2V1292M366.5 1277.1V1288.3M367.5 1275.3V1287.1" stroke="#0000ff" stroke-width="1.15" fill="none"/>
<rect x="41" y="1170" width="328" height="1" fill="#484848"/>
<rect x="41" y="1170" width="2" height="189" fill="#727272"/>
<rect x="367" y="1170" width="2" height="189" fill="#6a6a6a"/>
<rect x="41" y="1357" width="328" height="2" fill="#757575"/>
<text transform="translate(34.66 1176.01) scale(0.96 1)" font-size="17" text-anchor="end">.3</text>
<text transform="translate(34.66 1213.51) scale(0.96 1)" font-size="17" text-anchor="end">.2</text>
<text transform="translate(34.66 1251.01) scale(0.96 1)" font-size="17" text-anchor="end">.1</text>
<text transform="translate(34.66 1288.51) scale(0.96 1)" font-size="17" text-anchor="end">.0</text>
<text transform="translate(34.55 1326.01) scale(0.96 1)" font-size="17" text-anchor="end">-.1</text>
<text transform="translate(34.55 1363.51) scale(0.96 1)" font-size="17" text-anchor="end">-.2</text>
<text transform="translate(65.93 1380.6) scale(0.96 1)" font-size="17" text-anchor="middle">00</text>
<text transform="translate(99.25 1380.6) scale(0.96 1)" font-size="17" text-anchor="middle">02</text>
<text transform="translate(132.57 1380.6) scale(0.96 1)" font-size="17" text-anchor="middle">04</text>
<text transform="translate(165.89 1380.6) scale(0.96 1)" font-size="17" text-anchor="middle">06</text>
<text transform="translate(199.21 1380.6) scale(0.96 1)" font-size="17" text-anchor="middle">08</text>
<text transform="translate(232.53 1380.6) scale(0.96 1)" font-size="17" text-anchor="middle">10</text>
<text transform="translate(265.85 1380.6) scale(0.96 1)" font-size="17" text-anchor="middle">12</text>
<text transform="translate(299.17 1380.6) scale(0.96 1)" font-size="17" text-anchor="middle">14</text>
<text transform="translate(332.49 1380.6) scale(0.96 1)" font-size="17" text-anchor="middle">16</text>
<text transform="translate(365.81 1380.6) scale(0.96 1)" font-size="17" text-anchor="middle">18</text>
<path d="M36.3 1170.4H41.8M36.3 1207.9H41.8M36.3 1245.4H41.8M36.3 1282.9H41.8M36.3 1320.4H41.8M36.3 1357.9H41.8M57.6 1357.9V1363.9M74.26 1357.9V1363.9M90.92 1357.9V1363.9M107.58 1357.9V1363.9M124.24 1357.9V1363.9M140.9 1357.9V1363.9M157.56 1357.9V1363.9M174.22 1357.9V1363.9M190.88 1357.9V1363.9M207.54 1357.9V1363.9M224.2 1357.9V1363.9M240.86 1357.9V1363.9M257.52 1357.9V1363.9M274.18 1357.9V1363.9M290.84 1357.9V1363.9M307.5 1357.9V1363.9M324.16 1357.9V1363.9M340.82 1357.9V1363.9M357.48 1357.9V1363.9" stroke="#555" stroke-width="1.3" fill="none"/>
<rect x="446.7" y="1170.4" width="327.7" height="187.5" fill="#fff"/>
<text class="t" transform="scale(1.07 1)" x="437.95" y="1150.7" font-size="18.5" textLength="264.27" lengthAdjust="spacing">sunflower_seed returns squared</text>
<path d="M447.5 1355.6V1358.2M448.5 1352V1358.1M449.5 1352.7V1358.2M450.5 1350.9V1358.2M451.5 1354.1V1358.2M452.5 1347.3V1358.2M453.5 1345.8V1358.2M454.5 1349.8V1358.2M455.5 1355.2V1358.2M456.5 1355.1V1358.2M457.5 1355.8V1358.2M458.5 1353.2V1358.2M459.5 1354.4V1358.2M460.5 1355.8V1358.2M461.5 1355.4V1358.2M462.5 1353.9V1358.2M463.5 1355.7V1358.2M464.5 1355.4V1358.2M465.5 1354.1V1358.2M466.5 1355.4V1358.2M467.5 1357V1358.2M468.5 1353.5V1358.2M469.5 1356.8V1358.2M470.5 1355.4V1358.2M471.5 1356.4V1358.2M472.5 1356.9V1358.2M473.5 1357.3V1358.2M474.5 1356V1358.2M475.5 1356.7V1358.2M476.5 1356.5V1358.2M477.5 1356V1358.2M478.5 1347.5V1358.2M479.5 1353.1V1358.2M480.5 1353.9V1358.2M481.5 1356.9V1358.2M482.5 1356.6V1358.2M483.5 1356.3V1358.2M484.5 1355.5V1358.2M485.5 1355.7V1358.2M486.5 1355.5V1358.2M487.5 1356.3V1358.2M488.5 1336.5V1358.2M489.5 1354V1358.2M490.5 1356.6V1358.2M491.5 1356.4V1358.2M492.5 1356.3V1358.2M493.5 1356.5V1358.2M494.5 1323.8V1358.2M495.5 1351.7V1358.2M496.5 1356.5V1358.2M497.5 1356.9V1358.2M498.5 1346.3V1358.2M499.5 1354.5V1358.2M500.5 1355.5V1358.2M501.5 1356V1358.2M502.5 1350.9V1358.2M503.5 1355.8V1358.2M504.5 1352.2V1358.2M505.5 1356.1V1358.2M506.5 1348.6V1358.2M507.5 1356.3V1358.2M508.5 1355.6V1358.2M509.5 1356.8V1358.2M510.5 1355.5V1358.2M511.5 1352.4V1358.2M512.5 1355V1358.2M513.5 1355.3V1358.2M514.5 1355.4V1358.2M515.5 1349.2V1358.2M516.5 1352.7V1358.2M517.5 1356.7V1358.2M518.5 1351.9V1358.2M519.5 1347.8V1358.2M520.5 1354.4V1358.2M521.5 1356.3V1358.2M522.5 1356.3V1358.2M523.5 1354.9V1358.2M524.5 1353.4V1358.2M525.5 1353.4V1358.2M526.5 1355.5V1358.2M527.5 1313.9V1358.2M528.5 1353V1358.2M529.5 1355.9V1358.2M530.5 1353.9V1358.2M531.5 1357.2V1358.2M532.5 1331.1V1358.2M533.5 1356.8V1358.2M534.5 1354.3V1358.2M535.5 1354.3V1358.2M536.5 1355.9V1358.2M537.5 1356.2V1358.2M538.5 1355.2V1358.2M539.5 1357.2V1358.2M540.5 1355.6V1358.2M541.5 1355.6V1358.2M542.5 1355.6V1358.2M543.5 1356.4V1358.2M544.5 1356.8V1358.2M545.5 1340.3V1358.2M546.5 1356.4V1358.2M547.5 1356.8V1358.2M548.5 1355.1V1358.2M549.5 1356.9V1358.2M550.5 1356.7V1358.2M551.5 1356.8V1358.2M552.5 1355.9V1358.2M553.5 1356.8V1358.2M554.5 1352.2V1358.2M555.5 1356.9V1358.2M556.5 1355.4V1358.2M557.5 1356.5V1358.2M558.5 1356.3V1358.2M559.5 1355.3V1358.2M560.5 1356.8V1358.2M561.5 1345V1358.2M562.5 1355.1V1358.2M563.5 1357V1358.2M564.5 1357.2V1358.2M565.5 1355.1V1358.2M566.5 1355.2V1358.2M567.5 1340.8V1358.2M568.5 1327.2V1358.2M569.5 1356.7V1358.2M570.5 1356.6V1358.2M571.5 1350.8V1358.2M572.5 1356.2V1358.2M573.5 1356.2V1358.2M574.5 1355.1V1358.2M575.5 1355.6V1358.2M576.5 1356.7V1358.2M577.5 1355.7V1358.2M578.5 1356.7V1358.2M579.5 1356.3V1358.2M580.5 1356.3V1358.2M581.5 1354.8V1358.2M582.5 1355.6V1358.2M583.5 1352.3V1358.2M584.5 1355.4V1358.2M585.5 1196.9V1358.2M586.5 1355V1358.2M587.5 1353.2V1358.2M588.5 1354.9V1358.2M589.5 1356.6V1358.2M590.5 1355.5V1358.2M591.5 1355.7V1358.2M592.5 1355.6V1358.2M593.5 1355.7V1358.2M594.5 1303.6V1358.2M595.5 1355.8V1358.2M596.5 1356.7V1358.2M597.5 1355.9V1358.2M598.5 1356.6V1358.2M599.5 1352.6V1358.2M600.5 1356.4V1358.2M601.5 1356.6V1358.2M602.5 1355.8V1358.2M603.5 1356.5V1358.2M604.5 1356.6V1358.2M605.5 1356.9V1358.2M606.5 1355.7V1358.2M607.5 1356.6V1358.2M608.5 1356.8V1358.2M609.5 1356.8V1358.2M610.5 1355.4V1358.2M611.5 1306.3V1358.2M612.5 1357.3V1358.2M613.5 1356.3V1358.2M614.5 1356.7V1358.2M615.5 1357.1V1358.2M616.5 1356.5V1358.2M617.5 1356.7V1358.2M618.5 1354.8V1358.2M619.5 1355.3V1358.2M620.5 1356.3V1358.2M621.5 1338.2V1358.2M622.5 1356.9V1358.2M623.5 1356.8V1358.2M624.5 1356.1V1358.2M625.5 1354.3V1358.2M626.5 1354.2V1358.2M627.5 1357V1358.2M628.5 1355.7V1358.2M629.5 1356.1V1358.2M630.5 1356.8V1358.2M631.5 1354.7V1358.2M632.5 1356.4V1358.2M633.5 1356.8V1358.2M634.5 1355.2V1358.2M635.5 1351V1358.2M636.5 1352.2V1358.2M637.5 1356.5V1358.2M638.5 1355.2V1358.2M639.5 1356.9V1358.2M640.5 1356.1V1358.2M641.5 1356.9V1358.2M642.5 1356V1358.2M643.5 1357V1358.2M644.5 1357V1358.2M645.5 1325.9V1358.2M646.5 1325.9V1358.2M647.5 1354.1V1358.2M648.5 1354.4V1358.2M649.5 1345V1358.2M650.5 1356.8V1358.2M651.5 1357V1358.2M652.5 1355.7V1358.2M653.5 1356.4V1358.2M654.5 1356V1358.2M655.5 1354.3V1358.2M656.5 1354.4V1358.2M657.5 1356.2V1358.2M658.5 1355.8V1358.2M659.5 1357.2V1358.2M660.5 1356.3V1358.2M661.5 1357V1358.2M662.5 1357V1358.2M663.5 1356.5V1358.2M664.5 1354.8V1358.2M665.5 1356.2V1358.2M666.5 1356.9V1358.2M667.5 1357V1358.2M668.5 1355.7V1358.2M669.5 1356.5V1358.2M670.5 1356.3V1358.2M671.5 1357.1V1358.2M672.5 1357.4V1358.2M673.5 1357.1V1358.2M674.5 1356.6V1358.2M675.5 1355.9V1358.2M676.5 1356.5V1358.2M677.5 1355.2V1358.2M678.5 1356.6V1358.2M679.5 1255.5V1358.2M680.5 1355.3V1358.2M681.5 1357.2V1358.2M682.5 1357.1V1358.2M683.5 1356.9V1358.2M684.5 1357V1358.2M685.5 1357.3V1358.2M686.5 1356.9V1358.2M687.5 1356.9V1358.2M688.5 1357.3V1358.2M689.5 1356.3V1358.2M690.5 1356.9V1358.2M691.5 1356.8V1358.2M692.5 1356.9V1358.2M693.5 1357.2V1358.2M694.5 1356.3V1358.2M695.5 1357V1358.2M696.5 1267.5V1358.2M697.5 1356.2V1358.2M698.5 1354.8V1358.2M699.5 1356.6V1358.2M700.5 1273.2V1358.2M701.5 1356.9V1358.2M702.5 1357.3V1358.2M703.5 1357.2V1358.2M704.5 1356.4V1358.2M705.5 1356.9V1358.2M706.5 1356.8V1358.2M707.5 1357.2V1358.2M708.5 1356.8V1358.2M709.5 1356.8V1358.2M710.5 1357.2V1358.2M711.5 1357.2V1358.2M712.5 1356.8V1358.2M713.5 1356.2V1358.2M714.5 1356.7V1358.2M715.5 1356.7V1358.2M716.5 1356.8V1358.2M717.5 1354.5V1358.2M718.5 1356.5V1358.2M719.5 1356V1358.2M720.5 1357V1358.2M721.5 1357.1V1358.2M722.5 1357V1358.2M723.5 1357.4V1358.2M724.5 1357.4V1358.2M725.5 1356.8V1358.2M726.5 1356.4V1358.2M727.5 1355V1358.2M728.5 1356.7V1358.2M729.5 1357.1V1358.2M730.5 1356.6V1358.2M731.5 1357.1V1358.2M732.5 1353.6V1358.2M733.5 1313.9V1358.2M734.5 1355.8V1358.2M735.5 1356.5V1358.2M736.5 1355.8V1358.2M737.5 1356.2V1358.2M738.5 1356.8V1358.2M739.5 1355.7V1358.2M740.5 1356.7V1358.2M741.5 1356.3V1358.2M742.5 1356.9V1358.2M743.5 1357.1V1358.2M744.5 1356.3V1358.2M745.5 1353.2V1358.2M746.5 1356.6V1358.2M747.5 1354.9V1358.2M748.5 1354.4V1358.2M749.5 1355.6V1358.2M750.5 1356.1V1358.2M751.5 1354.9V1358.2M752.5 1353.6V1358.2M753.5 1354.5V1358.2M754.5 1354.8V1358.2M755.5 1355.8V1358.2M756.5 1355.7V1358.2M757.5 1355.6V1358.2M758.5 1356.1V1358.2M759.5 1356.6V1358.2M760.5 1353.7V1358.2M761.5 1351.8V1358.2M762.5 1355.9V1358.2M763.5 1355V1358.2M764.5 1353.2V1358.2M765.5 1353.3V1358.2M766.5 1352V1358.2M767.5 1348.2V1358.2M768.5 1350.7V1358.2M769.5 1350.7V1358.2M770.5 1353.4V1358.2M771.5 1352.4V1358.2M772.5 1355.7V1358.2M773.5 1353.3V1358.2" stroke="#5656ff" stroke-width="1.4" fill="none"/><path d="M447.5 1355.8V1358.1M448.5 1353V1358.1M449.5 1353.8V1358.2M450.5 1351.1V1358.2M451.5 1355.2V1358.2M452.5 1350.9V1358.2M453.5 1353.5V1358.2M454.5 1350.7V1358.2M455.5 1355.9V1358.2M456.5 1355.6V1358.2M457.5 1355.9V1358.2M458.5 1353.7V1358.2M459.5 1354.4V1358.2M460.5 1356V1358.2M461.5 1356.2V1358.2M462.5 1355V1358.2M463.5 1356.2V1358.2M464.5 1356.2V1358.2M465.5 1355.7V1358.2M466.5 1355.8V1358.2M467.5 1357V1358.2M468.5 1354.8V1358.2M469.5 1357V1358.2M470.5 1355.5V1358.2M471.5 1356.6V1358.2M472.5 1357V1358.2M473.5 1357.4V1358.2M474.5 1356.2V1358.2M475.5 1356.8V1358.2M476.5 1356.6V1358.2M477.5 1356.5V1358.2M478.5 1352.3V1358.2M479.5 1356.2V1358.2M480.5 1355.4V1358.2M481.5 1357V1358.2M482.5 1356.7V1358.2M483.5 1356.3V1358.2M484.5 1356.4V1358.2M485.5 1356V1358.2M486.5 1356.1V1358.2M487.5 1356.6V1358.2M488.5 1356.5V1358.2M489.5 1355V1358.2M490.5 1356.7V1358.2M491.5 1356.7V1358.2M492.5 1356.3V1358.2M493.5 1356.8V1358.2M494.5 1353.3V1358.2M495.5 1355.6V1358.2M496.5 1356.5V1358.2M497.5 1357.1V1358.2M498.5 1354.8V1358.2M499.5 1355V1358.2M500.5 1355.6V1358.2M501.5 1356.5V1358.2M502.5 1354.2V1358.2M503.5 1356.3V1358.2M504.5 1354.7V1358.2M505.5 1356.1V1358.2M506.5 1351.6V1358.2M507.5 1356.6V1358.2M508.5 1356.5V1358.2M509.5 1357V1358.2M510.5 1356.2V1358.2M511.5 1354.2V1358.2M512.5 1355.1V1358.2M513.5 1355.9V1358.2M514.5 1355.8V1358.2M515.5 1350.7V1358.2M516.5 1355.1V1358.2M517.5 1356.9V1358.2M518.5 1353.8V1358.2M519.5 1355.7V1358.2M520.5 1355.7V1358.2M521.5 1356.3V1358.2M522.5 1356.8V1358.2M523.5 1355.5V1358.2M524.5 1354.3V1358.2M525.5 1356V1358.2M526.5 1356.2V1358.2M527.5 1357V1358.2M528.5 1355.1V1358.2M529.5 1356.5V1358.2M530.5 1354.9V1358.2M531.5 1357.2V1358.2M532.5 1356.2V1358.2M533.5 1357.1V1358.2M534.5 1355.8V1358.2M535.5 1354.9V1358.2M536.5 1356.4V1358.2M537.5 1356.5V1358.2M538.5 1356.1V1358.2M539.5 1357.2V1358.2M540.5 1355.8V1358.2M541.5 1356.7V1358.2M542.5 1356V1358.2M543.5 1357.2V1358.2M544.5 1357V1358.2M545.5 1356.9V1358.2M546.5 1356.5V1358.2M547.5 1357V1358.2M548.5 1356.1V1358.2M549.5 1356.9V1358.2M550.5 1356.8V1358.2M551.5 1357.3V1358.2M552.5 1356.2V1358.2M553.5 1356.9V1358.2M554.5 1354.1V1358.2M555.5 1356.9V1358.2M556.5 1355.7V1358.2M557.5 1356.7V1358.2M558.5 1356.8V1358.2M559.5 1355.4V1358.2M560.5 1357.2V1358.2M561.5 1356.9V1358.2M562.5 1356.3V1358.2M563.5 1357V1358.2M564.5 1357.2V1358.2M565.5 1355.7V1358.2M566.5 1356.3V1358.2M567.5 1356.8V1358.2M568.5 1356.6V1358.2M569.5 1356.7V1358.2M570.5 1356.8V1358.2M571.5 1352.8V1358.2M572.5 1356.7V1358.2M573.5 1356.6V1358.2M574.5 1355.4V1358.2M575.5 1356.2V1358.2M576.5 1357V1358.2M577.5 1356V1358.2M578.5 1356.8V1358.2M579.5 1356.4V1358.2M580.5 1356.8V1358.2M581.5 1355.3V1358.2M582.5 1355.9V1358.2M583.5 1352.7V1358.2M584.5 1355.5V1358.2M585.5 1357.2V1358.2M586.5 1355.6V1358.2M587.5 1354.1V1358.2M588.5 1356.8V1358.2M589.5 1356.8V1358.2M590.5 1355.6V1358.2M591.5 1356.4V1358.2M592.5 1356.1V1358.2M593.5 1356.2V1358.2M594.5 1356V1358.2M595.5 1356.4V1358.2M596.5 1356.9V1358.2M597.5 1356V1358.2M598.5 1356.7V1358.2M599.5 1353.6V1358.2M600.5 1356.8V1358.2M601.5 1356.7V1358.2M602.5 1356.2V1358.2M603.5 1356.5V1358.2M604.5 1356.9V1358.2M605.5 1357V1358.2M606.5 1356.6V1358.2M607.5 1356.9V1358.2M608.5 1357V1358.2M609.5 1357V1358.2M610.5 1355.9V1358.2M611.5 1357.2V1358.2M612.5 1357.3V1358.2M613.5 1356.7V1358.2M614.5 1357.1V1358.2M615.5 1357.2V1358.2M616.5 1356.9V1358.2M617.5 1356.9V1358.2M618.5 1356.1V1358.2M619.5 1356V1358.2M620.5 1356.3V1358.2M621.5 1357.1V1358.2M622.5 1357.1V1358.2M623.5 1356.9V1358.2M624.5 1356.4V1358.2M625.5 1355.1V1358.2M626.5 1355.7V1358.2M627.5 1357V1358.2M628.5 1356.3V1358.2M629.5 1356.6V1358.2M630.5 1356.8V1358.2M631.5 1355.2V1358.2M632.5 1356.7V1358.2M633.5 1356.9V1358.2M634.5 1356.1V1358.2M635.5 1351.7V1358.2M636.5 1354.7V1358.2M637.5 1356.8V1358.2M638.5 1355.5V1358.2M639.5 1357V1358.2M640.5 1356.4V1358.2M641.5 1357V1358.2M642.5 1356.6V1358.2M643.5 1357V1358.2M644.5 1357V1358.2M645.5 1356.7V1358.2M646.5 1356.2V1358.2M647.5 1354.3V1358.2M648.5 1355.5V1358.2M649.5 1357.2V1358.2M650.5 1356.9V1358.2M651.5 1357.1V1358.2M652.5 1356.5V1358.2M653.5 1356.5V1358.2M654.5 1356.1V1358.2M655.5 1355.3V1358.2M656.5 1355.2V1358.2M657.5 1356.7V1358.2M658.5 1356.5V1358.2M659.5 1357.2V1358.2M660.5 1356.7V1358.2M661.5 1357V1358.2M662.5 1357V1358.2M663.5 1356.9V1358.2M664.5 1355.5V1358.2M665.5 1356.9V1358.2M666.5 1357V1358.2M667.5 1357.4V1358.2M668.5 1356.4V1358.2M669.5 1356.9V1358.2M670.5 1356.7V1358.2M671.5 1357.2V1358.2M672.5 1357.4V1358.2M673.5 1357.2V1358.2M674.5 1356.7V1358.2M675.5 1356.1V1358.2M676.5 1356.6V1358.2M677.5 1355.8V1358.2M678.5 1357.3V1358.2M679.5 1355.7V1358.2M680.5 1356.5V1358.2M681.5 1357.3V1358.2M682.5 1357.1V1358.2M683.5 1357V1358.2M684.5 1357.2V1358.2M685.5 1357.4V1358.2M686.5 1357V1358.2M687.5 1357.4V1358.2M688.5 1357.3V1358.2M689.5 1356.5V1358.2M690.5 1357.1V1358.2M691.5 1356.9V1358.2M692.5 1357V1358.2M693.5 1357.3V1358.2M694.5 1356.6V1358.2M695.5 1357V1358.2M696.5 1356.3V1358.2M697.5 1356.5V1358.2M698.5 1356V1358.2M699.5 1356.7V1358.2M700.5 1357.4V1358.2M701.5 1357.1V1358.2M702.5 1357.3V1358.2M703.5 1357.2V1358.2M704.5 1356.9V1358.2M705.5 1357.1V1358.2M706.5 1357V1358.2M707.5 1357.3V1358.2M708.5 1356.9V1358.2M709.5 1356.9V1358.2M710.5 1357.2V1358.2M711.5 1357.3V1358.2M712.5 1356.9V1358.2M713.5 1356.6V1358.2M714.5 1356.7V1358.2M715.5 1356.9V1358.2M716.5 1356.8V1358.2M717.5 1355.6V1358.2M718.5 1356.7V1358.2M719.5 1356.5V1358.2M720.5 1357.2V1358.2M721.5 1357.3V1358.2M722.5 1357.2V1358.2M723.5 1357.5V1358.2M724.5 1357.4V1358.2M725.5 1356.8V1358.2M726.5 1356.9V1358.2M727.5 1355.8V1358.2M728.5 1356.8V1358.2M729.5 1357.1V1358.2M730.5 1356.7V1358.2M731.5 1357.1V1358.2M732.5 1354.1V1358.2M733.5 1355.3V1358.2M734.5 1356.1V1358.2M735.5 1356.7V1358.2M736.5 1356.4V1358.2M737.5 1356.6V1358.2M738.5 1356.9V1358.2M739.5 1356.5V1358.2M740.5 1356.7V1358.2M741.5 1356.7V1358.2M742.5 1357.1V1358.2M743.5 1357.1V1358.2M744.5 1356.7V1358.2M745.5 1354.8V1358.2M746.5 1356.8V1358.2M747.5 1356V1358.2M748.5 1355.3V1358.2M749.5 1356.1V1358.2M750.5 1356.1V1358.2M751.5 1355.8V1358.2M752.5 1354.8V1358.2M753.5 1355.6V1358.2M754.5 1355.8V1358.2M755.5 1356.1V1358.2M756.5 1356.3V1358.2M757.5 1355.8V1358.2M758.5 1356.2V1358.2M759.5 1356.8V1358.2M760.5 1355.2V1358.2M761.5 1352.2V1358.2M762.5 1356.1V1358.2M763.5 1355.5V1358.2M764.5 1354.5V1358.2M765.5 1355V1358.2M766.5 1353.6V1358.2M767.5 1355.1V1358.2M768.5 1351.4V1358.1M769.5 1355.8V1358.2M770.5 1354.9V1358.2M771.5 1354.3V1358.2M772.5 1356.5V1358.2M773.5 1354V1358.2" stroke="#0000ff" stroke-width="1.15" fill="none"/>
<rect x="446" y="1170" width="329" height="1" fill="#484848"/>
<rect x="446" y="1170" width="2" height="189" fill="#727272"/>
<rect x="773" y="1170" width="2" height="189" fill="#6a6a6a"/>
<rect x="446" y="1357" width="329" height="2" fill="#757575"/>
<text transform="translate(439.5 1176.01) scale(0.96 1)" font-size="17" text-anchor="end">.05</text>
<text transform="translate(439.5 1213.51) scale(0.96 1)" font-size="17" text-anchor="end">.04</text>
<text transform="translate(439.5 1251.01) scale(0.96 1)" font-size="17" text-anchor="end">.03</text>
<text transform="translate(439.5 1288.51) scale(0.96 1)" font-size="17" text-anchor="end">.02</text>
<text transform="translate(439.5 1326.01) scale(0.96 1)" font-size="17" text-anchor="end">.01</text>
<text transform="translate(439.5 1363.51) scale(0.96 1)" font-size="17" text-anchor="end">.00</text>
<text transform="translate(471.03 1380.6) scale(0.96 1)" font-size="17" text-anchor="middle">00</text>
<text transform="translate(504.35 1380.6) scale(0.96 1)" font-size="17" text-anchor="middle">02</text>
<text transform="translate(537.67 1380.6) scale(0.96 1)" font-size="17" text-anchor="middle">04</text>
<text transform="translate(570.99 1380.6) scale(0.96 1)" font-size="17" text-anchor="middle">06</text>
<text transform="translate(604.31 1380.6) scale(0.96 1)" font-size="17" text-anchor="middle">08</text>
<text transform="translate(637.63 1380.6) scale(0.96 1)" font-size="17" text-anchor="middle">10</text>
<text transform="translate(670.95 1380.6) scale(0.96 1)" font-size="17" text-anchor="middle">12</text>
<text transform="translate(704.27 1380.6) scale(0.96 1)" font-size="17" text-anchor="middle">14</text>
<text transform="translate(737.59 1380.6) scale(0.96 1)" font-size="17" text-anchor="middle">16</text>
<text transform="translate(770.91 1380.6) scale(0.96 1)" font-size="17" text-anchor="middle">18</text>
<path d="M441.2 1170.4H446.7M441.2 1207.9H446.7M441.2 1245.4H446.7M441.2 1282.9H446.7M441.2 1320.4H446.7M441.2 1357.9H446.7M462.7 1357.9V1363.9M479.36 1357.9V1363.9M496.02 1357.9V1363.9M512.68 1357.9V1363.9M529.34 1357.9V1363.9M546 1357.9V1363.9M562.66 1357.9V1363.9M579.32 1357.9V1363.9M595.98 1357.9V1363.9M612.64 1357.9V1363.9M629.3 1357.9V1363.9M645.96 1357.9V1363.9M662.62 1357.9V1363.9M679.28 1357.9V1363.9M695.94 1357.9V1363.9M712.6 1357.9V1363.9M729.26 1357.9V1363.9M745.92 1357.9V1363.9M762.58 1357.9V1363.9" stroke="#555" stroke-width="1.3" fill="none"/>
<rect x="852.3" y="1170.4" width="326.7" height="187.5" fill="#fff"/>
<text class="t" transform="scale(1.08 1)" x="805.96" y="1150.7" font-size="18.5" textLength="267.36" lengthAdjust="spacing">sunflower_seed absolute returns</text>
<path d="M853.5 1336.5V1355.4M854.5 1325.8V1356.9M855.5 1327V1358.2M856.5 1333.6V1358.1M857.5 1318.3V1357.6M858.5 1315.6V1355.7M859.5 1337V1357M860.5 1342.6V1357.8M861.5 1338.4V1357.6M862.5 1334.6V1356.9M863.5 1331.9V1357.9M864.5 1335.7V1357.9M865.5 1341.3V1357.9M866.5 1333.9V1358.2M867.5 1333.9V1357.8M868.5 1340.9V1357.8M869.5 1339.3V1358.2M870.5 1334.6V1357.8M871.5 1342.5V1357.6M872.5 1332.8V1357.2M873.5 1332.8V1358M874.5 1339.2V1357.6M875.5 1340.5V1357.9M876.5 1347.9V1358M877.5 1347.6V1357.8M878.5 1342V1357.7M879.5 1342V1357.9M880.5 1346.7V1357.9M881.5 1342.2V1358M882.5 1327.4V1357.8M883.5 1318.6V1357.7M884.5 1334.1V1357.9M885.5 1345V1358.2M886.5 1345.4V1358.2M887.5 1347V1357.6M888.5 1343.6V1357.4M889.5 1339.9V1357.9M890.5 1340.6V1357.9M891.5 1339.8V1358.1M892.5 1301.4V1356.7M893.5 1344.4V1357.6M894.5 1334.5V1358.1M895.5 1346V1357M896.5 1344.4V1358M897.5 1343.5V1357.5M898.5 1336.8V1358M899.5 1286.4V1357.5M900.5 1336V1358.2M901.5 1344.6V1358.2M902.5 1347.1V1358.2M903.5 1316.4V1358.2M904.5 1336.1V1358.1M905.5 1339.9V1357.1M906.5 1342.1V1357M907.5 1325.9V1357.3M908.5 1341.2V1357.9M909.5 1329.1V1357.2M910.5 1334.3V1357.8M911.5 1320.8V1358M912.5 1343.7V1358.1M913.5 1340.3V1357.1M914.5 1339.7V1358.1M915.5 1339.7V1357.4M916.5 1329.7V1357.6M917.5 1337.7V1357M918.5 1338.9V1358M919.5 1322.2V1357.6M920.5 1328.2V1357.7M921.5 1330.6V1358M922.5 1340.4V1357.8M923.5 1328.4V1357.8M924.5 1319.4V1357.6M925.5 1335.7V1358M926.5 1343.5V1358.2M927.5 1343.5V1357.9M928.5 1337.4V1357.9M929.5 1332.4V1358M930.5 1336.9V1358.1M931.5 1348.8V1358M932.5 1276.6V1358.1M933.5 1346V1358.1M934.5 1341.7V1358.1M935.5 1333.9V1357.9M936.5 1349.6V1358.2M937.5 1294.6V1357.6M938.5 1347.6V1357.7M939.5 1335.3V1357.7M940.5 1335.5V1356.6M941.5 1341.4V1357.9M942.5 1342.9V1357.8M943.5 1338.7V1357.2M944.5 1349.4V1357.2M945.5 1340.3V1357.9M946.5 1346V1358.2M947.5 1340.2V1357.8M948.5 1349.7V1357.9M949.5 1347V1357.9M950.5 1306.6V1357.4M951.5 1344.4V1357.7M952.5 1346.6V1358M953.5 1338.3V1357.9M954.5 1347.3V1357.9M955.5 1345.7V1358M956.5 1349.4V1358.1M957.5 1341.8V1358.1M958.5 1346.4V1358M959.5 1329.1V1357.6M960.5 1347V1358M961.5 1339.4V1358.1M962.5 1343.8V1357.2M963.5 1343.8V1357.4M964.5 1338.8V1357.8M965.5 1314.1V1358.1M966.5 1314.1V1358M967.5 1338.3V1357.8M968.5 1348.3V1358.2M969.5 1349.5V1357.7M970.5 1338.4V1357.5M971.5 1338.7V1358.1M972.5 1307.4V1357.9M973.5 1290.1V1357.9M974.5 1345.9V1357.2M975.5 1345.5V1357.7M976.5 1325.7V1357.9M977.5 1343V1358.2M978.5 1343.1V1357.8M979.5 1338.4V1357.6M980.5 1340.3V1355.7M981.5 1346.3V1358M982.5 1340.9V1358M983.5 1346.1V1356.5M984.5 1343.6V1357.6M985.5 1343.7V1358.1M986.5 1337.3V1357.2M987.5 1340.2V1356.5M988.5 1329.5V1355.7M989.5 1339.6V1357.1M990.5 1202.4V1357.6M991.5 1338V1357.6M992.5 1331.9V1357.9M993.5 1337.3V1357M994.5 1345.2V1357.7M995.5 1339.8V1357.9M996.5 1340.5V1358.2M997.5 1340.3V1356.3M998.5 1340.7V1358M999.5 1267.6V1358M1000.5 1341.2V1358.1M1001.5 1346.1V1357.8M1002.5 1341.6V1357.4M1003.5 1342.7V1358M1004.5 1330.2V1358M1005.5 1344.3V1358.1M1006.5 1345.1V1358M1007.5 1341.3V1357.8M1008.5 1344.6V1357.8M1009.5 1345V1358.1M1010.5 1347.7V1357.8M1011.5 1340.6V1357.9M1012.5 1345.6V1357.6M1013.5 1346.8V1357.9M1014.5 1349.2V1358.2M1015.5 1339.5V1358.1M1016.5 1269.9V1358M1017.5 1353.1V1357.9M1018.5 1343.7V1358.1M1019.5 1346.1V1358.1M1020.5 1346.1V1358.2M1021.5 1345V1358.2M1022.5 1346.1V1357.7M1023.5 1337.2V1358.1M1024.5 1339V1357.8M1025.5 1343.6V1357.4M1026.5 1303.6V1358M1027.5 1347.5V1358M1028.5 1346.3V1357.8M1029.5 1346.1V1358.2M1030.5 1335.4V1357.1M1031.5 1334.9V1358.2M1032.5 1347.9V1358M1033.5 1340.5V1358M1034.5 1342.4V1357.9M1035.5 1346.3V1357.8M1036.5 1336.8V1357.9M1037.5 1340.2V1357.8M1038.5 1346.3V1357.6M1039.5 1338.5V1358M1040.5 1326.1V1358.1M1041.5 1326.1V1356.9M1042.5 1344V1358.2M1043.5 1340.6V1357.9M1044.5 1338.6V1357.9M1045.5 1342.8V1358M1046.5 1347.3V1357.2M1047.5 1342.2V1357.9M1048.5 1348.2V1357.4M1049.5 1348V1357.6M1050.5 1345.4V1357.9M1051.5 1288.6V1357.8M1052.5 1334.6V1357.2M1053.5 1343.2V1358M1054.5 1335.8V1357.6M1055.5 1314.1V1357.4M1056.5 1348.2V1358M1057.5 1340.8V1357.8M1058.5 1345V1357.9M1059.5 1342.3V1358M1060.5 1342.5V1357.1M1061.5 1335.5V1357.1M1062.5 1341.5V1358.1M1063.5 1341V1357.8M1064.5 1349.5V1357.9M1065.5 1343.8V1357.8M1066.5 1347.7V1358.1M1067.5 1349.9V1357.9M1068.5 1347.9V1357.5M1069.5 1337.1V1358.1M1070.5 1342.3V1358M1071.5 1343.3V1357.7M1072.5 1347.8V1357.7M1073.5 1340.6V1358.1M1074.5 1345V1358.1M1075.5 1348.3V1357.9M1076.5 1343.8V1358M1077.5 1348.5V1358.1M1078.5 1352.1V1358.1M1079.5 1345.4V1358.1M1080.5 1341.4V1358.1M1081.5 1343.2V1357.9M1082.5 1338.6V1357.6M1083.5 1345.1V1358M1084.5 1339.1V1357.9M1085.5 1233.9V1358.2M1086.5 1351.1V1358.2M1087.5 1349.2V1357.9M1088.5 1348.8V1358.2M1089.5 1347.5V1358.1M1090.5 1348.4V1358.1M1091.5 1348.2V1358.1M1092.5 1347.5V1358.2M1093.5 1350.9V1358.1M1094.5 1343.9V1358.2M1095.5 1345.2V1357.6M1096.5 1346.5V1357.8M1097.5 1348.8V1357.3M1098.5 1347.5V1358M1099.5 1343.6V1357.9M1100.5 1348.3V1357.8M1101.5 1241.4V1357.4M1102.5 1344.9V1358.1M1103.5 1337.1V1357.6M1104.5 1345.2V1357.6M1105.5 1245.1V1356.6M1106.5 1297.6V1357.8M1107.5 1347.5V1358.2M1108.5 1349.9V1358.2M1109.5 1344.4V1357.8M1110.5 1352.7V1358M1111.5 1346.8V1358M1112.5 1349.7V1358.1M1113.5 1346.5V1357.6M1114.5 1347.8V1357.2M1115.5 1346.8V1358M1116.5 1349.6V1358M1117.5 1349V1357.9M1118.5 1343.3V1357.8M1119.5 1346.4V1357.9M1120.5 1345.7V1358M1121.5 1346.9V1357.4M1122.5 1344.7V1358M1123.5 1335.9V1357.6M1124.5 1344.7V1357.9M1125.5 1342V1357.8M1126.5 1349.1V1358.2M1127.5 1348.5V1357.7M1128.5 1351.3V1358M1129.5 1353.6V1358.2M1130.5 1351.7V1357.9M1131.5 1344.2V1357.8M1132.5 1348.4V1357.9M1133.5 1337.9V1358M1134.5 1346V1357.3M1135.5 1347V1357.2M1136.5 1345.4V1358.1M1137.5 1335.7V1358M1138.5 1333.1V1357.9M1139.5 1276.6V1358.2M1140.5 1341.2V1356.7M1141.5 1346.7V1358.1M1142.5 1341.1V1358.1M1143.5 1343.4V1358.1M1144.5 1349.3V1358.1M1145.5 1340.6V1358.1M1146.5 1346.1V1358.2M1147.5 1343.5V1356.6M1148.5 1347.4V1357.4M1149.5 1348.7V1358.2M1150.5 1343.4V1358M1151.5 1331.8V1358M1152.5 1345.5V1357.2M1153.5 1337.6V1357.9M1154.5 1335.8V1358.1M1155.5 1349.8V1357.3M1156.5 1342.4V1358.2M1157.5 1337.7V1357.9M1158.5 1333.3V1358M1159.5 1336.1V1357.8M1160.5 1337.2V1357.5M1161.5 1340.8V1357.5M1162.5 1344.1V1357.7M1163.5 1340.4V1358M1164.5 1343.8V1358M1165.5 1333.5V1357.7M1166.5 1344V1358.1M1167.5 1328.1V1356.7M1168.5 1341.7V1357M1169.5 1337.7V1357M1170.5 1331.8V1356.8M1171.5 1332.2V1357.7M1172.5 1320.1V1358.1M1173.5 1328.6V1357.9M1174.5 1325.5V1356.4M1175.5 1338.1V1357.5M1176.5 1329.6V1357.8M1177.5 1340.8V1357.3" stroke="#5656ff" stroke-width="1.4" fill="none"/><path d="M853.5 1337.7V1354.1M854.5 1328.4V1356.8M855.5 1334.9V1357.9M856.5 1334.1V1357.7M857.5 1327.6V1356.7M858.5 1324.8V1355.7M859.5 1337.7V1356.5M860.5 1346.7V1357.5M861.5 1340.3V1357.6M862.5 1336.5V1356.5M863.5 1336V1357.9M864.5 1335.8V1357.9M865.5 1342V1357.6M866.5 1337V1358.1M867.5 1343.4V1357.5M868.5 1344.6V1357.3M869.5 1343.3V1358M870.5 1337.2V1357M871.5 1345.6V1357.3M872.5 1340.6V1356.9M873.5 1342.6V1358M874.5 1344V1357.2M875.5 1342.5V1357.8M876.5 1348.1V1357.8M877.5 1348.5V1357.4M878.5 1346.9V1357.4M879.5 1344.5V1357.4M880.5 1346.7V1357.8M881.5 1343.6V1357.4M882.5 1338.2V1357.6M883.5 1337.1V1356.9M884.5 1339.8V1357.8M885.5 1346.5V1358.2M886.5 1346.9V1357.8M887.5 1347.3V1357.2M888.5 1343.7V1357.4M889.5 1341.7V1357.7M890.5 1343V1357.6M891.5 1342V1357.4M892.5 1347.8V1356.6M893.5 1344.8V1357.5M894.5 1338.2V1357.4M895.5 1346.2V1356.1M896.5 1345.9V1357.6M897.5 1343.7V1357.4M898.5 1341.2V1357.8M899.5 1332.1V1357.2M900.5 1347.8V1358.1M901.5 1344.7V1358.1M902.5 1348.9V1358M903.5 1336.6V1357.9M904.5 1338.1V1358.1M905.5 1340.3V1356.8M906.5 1345.1V1356.8M907.5 1337.3V1357.2M908.5 1343.5V1357.3M909.5 1336.6V1357M910.5 1338.9V1357.4M911.5 1332.7V1357.4M912.5 1345.2V1357.8M913.5 1344V1356.8M914.5 1346.3V1358M915.5 1348.1V1357.2M916.5 1334.7V1357.2M917.5 1341.7V1356.7M918.5 1342.1V1356.9M919.5 1325.5V1357.5M920.5 1343.5V1357.5M921.5 1340.6V1358M922.5 1343.5V1357.5M923.5 1334.5V1357.7M924.5 1340.7V1357.4M925.5 1341V1357.8M926.5 1343.7V1357.8M927.5 1347V1357.8M928.5 1339.5V1357.7M929.5 1335.6V1357.9M930.5 1338.5V1358.1M931.5 1349.6V1357.7M932.5 1338.8V1357.8M933.5 1346.6V1357.9M934.5 1344.8V1357.9M935.5 1337.4V1357.6M936.5 1351.1V1358.1M937.5 1343.6V1356.9M938.5 1348.1V1357M939.5 1338.9V1357.4M940.5 1337.5V1356.3M941.5 1344.3V1357.7M942.5 1345V1357.8M943.5 1342.9V1356.7M944.5 1349.9V1357.1M945.5 1341.3V1357.6M946.5 1348.2V1358.2M947.5 1342.3V1357.4M948.5 1349.8V1357.5M949.5 1347.2V1357.4M950.5 1349.8V1357.3M951.5 1345V1356.5M952.5 1348.3V1357.9M953.5 1344.7V1357.9M954.5 1347.4V1357.5M955.5 1346.4V1357.9M956.5 1351V1358.1M957.5 1343.4V1357.6M958.5 1347.6V1357.2M959.5 1335.4V1357.5M960.5 1347.5V1357.9M961.5 1340.6V1358M962.5 1344.2V1356.2M963.5 1349.7V1357.3M964.5 1339.3V1357.8M965.5 1349.9V1358.1M966.5 1347.5V1358M967.5 1343.9V1357.1M968.5 1348.4V1357.9M969.5 1350.1V1357.7M970.5 1340.8V1356.8M971.5 1345.1V1358M972.5 1346.8V1357.9M973.5 1346V1357M974.5 1346.1V1355.4M975.5 1347V1357.7M976.5 1331.1V1357.7M977.5 1346.5V1358M978.5 1345.8V1357M979.5 1339.4V1356.3M980.5 1343.2V1355.6M981.5 1348.4V1357.7M982.5 1342.3V1356.8M983.5 1346.5V1356.4M984.5 1344V1357.2M985.5 1347.1V1358M986.5 1339.1V1357.1M987.5 1341.7V1355.8M988.5 1330.5V1355.6M989.5 1339.8V1357M990.5 1349.7V1357.2M991.5 1340.4V1357.5M992.5 1334.9V1357.9M993.5 1346.5V1356.4M994.5 1347.1V1357.3M995.5 1340.5V1357.5M996.5 1344.4V1358.1M997.5 1342.6V1356.3M998.5 1344.1V1357.9M999.5 1342.5V1357M1000.5 1344.8V1357.8M1001.5 1347.2V1357.5M1002.5 1342.2V1356.9M1003.5 1345.8V1357.2M1004.5 1333.2V1357.5M1005.5 1347.3V1358M1006.5 1346.1V1357.1M1007.5 1345.6V1357.2M1008.5 1344.8V1357.8M1009.5 1345.9V1357.9M1010.5 1348.5V1357.7M1011.5 1346V1357.9M1012.5 1347.6V1357.6M1013.5 1348.1V1357.8M1014.5 1350.7V1357.9M1015.5 1343.5V1358M1016.5 1345.5V1357.9M1017.5 1353.3V1357.8M1018.5 1345.9V1357.5M1019.5 1348.9V1357.9M1020.5 1350V1358.1M1021.5 1347.2V1357.9M1022.5 1347.7V1357M1023.5 1344.3V1357.8M1024.5 1342.6V1357.4M1025.5 1343.8V1357.4M1026.5 1349V1357.9M1027.5 1348.8V1358M1028.5 1347.5V1357.2M1029.5 1346.1V1358.1M1030.5 1338.2V1356.8M1031.5 1341.2V1357.8M1032.5 1348V1357.2M1033.5 1344.7V1358M1034.5 1345V1357.6M1035.5 1346.9V1356.7M1036.5 1338.7V1357.5M1037.5 1346.1V1357.4M1038.5 1347.1V1357.4M1039.5 1343.3V1358M1040.5 1336.7V1356.9M1041.5 1329.8V1355.9M1042.5 1344.3V1358.1M1043.5 1341V1357.7M1044.5 1343.4V1357.5M1045.5 1344V1357.9M1046.5 1348.4V1356.9M1047.5 1345.5V1357.6M1048.5 1348.3V1357.4M1049.5 1348.4V1357.2M1050.5 1346.2V1357.8M1051.5 1344.3V1357.8M1052.5 1335.2V1357.1M1053.5 1344.1V1358M1054.5 1340.2V1357.5M1055.5 1347.1V1356.7M1056.5 1349.6V1357.4M1057.5 1345.4V1357.4M1058.5 1348.1V1357.8M1059.5 1343.3V1357.9M1060.5 1342.6V1356.9M1061.5 1335.6V1356.1M1062.5 1343.8V1357.6M1063.5 1342.2V1357.7M1064.5 1350.4V1357.9M1065.5 1347.4V1356.9M1066.5 1347.7V1358.1M1067.5 1350.2V1357.9M1068.5 1348.1V1357.3M1069.5 1341.5V1358.1M1070.5 1347.4V1357.8M1071.5 1345.7V1357.5M1072.5 1348.4V1357.1M1073.5 1344.5V1358M1074.5 1348.2V1358M1075.5 1348.7V1357.8M1076.5 1346.6V1357.8M1077.5 1349.8V1358.1M1078.5 1352.3V1356.8M1079.5 1345.9V1358.1M1080.5 1345V1357.8M1081.5 1344.2V1357.1M1082.5 1341.4V1357.5M1083.5 1349.6V1357.9M1084.5 1340.8V1357.6M1085.5 1345V1358.1M1086.5 1351.2V1358.1M1087.5 1349.6V1357.5M1088.5 1349V1358.1M1089.5 1349.1V1358M1090.5 1351V1358M1091.5 1349.6V1357.9M1092.5 1348.7V1358.1M1093.5 1351.2V1358M1094.5 1344.6V1358M1095.5 1350.1V1357.4M1096.5 1347.8V1357.1M1097.5 1349.7V1357.3M1098.5 1348V1357.9M1099.5 1345.8V1357.4M1100.5 1350.3V1357.7M1101.5 1345.5V1357.4M1102.5 1345.3V1357.7M1103.5 1340.6V1357.1M1104.5 1345.8V1357.5M1105.5 1349.6V1356.6M1106.5 1352.2V1357.5M1107.5 1349V1357.7M1108.5 1350V1358M1109.5 1348V1357.7M1110.5 1352.8V1358M1111.5 1347.1V1357.7M1112.5 1349.8V1358M1113.5 1347.1V1357.6M1114.5 1349.4V1357.1M1115.5 1347.6V1357.9M1116.5 1349.7V1357.5M1117.5 1349.1V1357.7M1118.5 1345.3V1357.8M1119.5 1349.3V1357.7M1120.5 1345.9V1357.8M1121.5 1347.4V1357.4M1122.5 1345.9V1357.9M1123.5 1342.3V1357.3M1124.5 1346.5V1357.1M1125.5 1344.7V1357.7M1126.5 1350.3V1358.1M1127.5 1350.6V1357.7M1128.5 1352.1V1358M1129.5 1353.7V1357.9M1130.5 1351.9V1357.8M1131.5 1345.4V1357M1132.5 1349.8V1357.8M1133.5 1341.2V1357.7M1134.5 1347V1357.2M1135.5 1347V1357M1136.5 1346.8V1357.9M1137.5 1341.8V1357.9M1138.5 1339.4V1357.9M1139.5 1339.1V1357.8M1140.5 1345.7V1356.6M1141.5 1348V1358.1M1142.5 1345.4V1357.9M1143.5 1345.4V1357.7M1144.5 1349.7V1357.3M1145.5 1345.6V1357.7M1146.5 1346.1V1357.3M1147.5 1346.2V1356.6M1148.5 1348.5V1357.4M1149.5 1349.7V1358M1150.5 1344.6V1357.9M1151.5 1337.6V1358M1152.5 1346.4V1357.2M1153.5 1342.8V1357.4M1154.5 1338.4V1357.4M1155.5 1350.1V1357.2M1156.5 1342.7V1358M1157.5 1339.5V1357.6M1158.5 1339.3V1357.8M1159.5 1340.7V1357.6M1160.5 1341V1356.9M1161.5 1341.1V1357.3M1162.5 1345.2V1357.1M1163.5 1341.4V1357.5M1164.5 1345.4V1357.3M1165.5 1340.1V1357.6M1166.5 1344.4V1357.1M1167.5 1329.2V1356.6M1168.5 1343.1V1356.4M1169.5 1340.1V1356.9M1170.5 1336.1V1356.3M1171.5 1334.9V1356.6M1172.5 1337.2V1357.9M1173.5 1331.2V1357.8M1174.5 1327.3V1355.9M1175.5 1342V1356.6M1176.5 1331.3V1357.7M1177.5 1341.3V1357.1" stroke="#0000ff" stroke-width="1.15" fill="none"/>
<rect x="851" y="1170" width="329" height="1" fill="#484848"/>
<rect x="851" y="1170" width="2" height="189" fill="#727272"/>
<rect x="1178" y="1170" width="2" height="189" fill="#6a6a6a"/>
<rect x="851" y="1357" width="329" height="2" fill="#757575"/>
<text transform="translate(845.1 1176.01) scale(0.96 1)" font-size="17" text-anchor="end">.25</text>
<text transform="translate(845.1 1213.51) scale(0.96 1)" font-size="17" text-anchor="end">.20</text>
<text transform="translate(845.1 1251.01) scale(0.96 1)" font-size="17" text-anchor="end">.15</text>
<text transform="translate(845.1 1288.51) scale(0.96 1)" font-size="17" text-anchor="end">.10</text>
<text transform="translate(845.1 1326.01) scale(0.96 1)" font-size="17" text-anchor="end">.05</text>
<text transform="translate(845.1 1363.51) scale(0.96 1)" font-size="17" text-anchor="end">.00</text>
<text transform="translate(875.66 1380.6) scale(0.96 1)" font-size="17" text-anchor="middle">00</text>
<text transform="translate(909.1 1380.6) scale(0.96 1)" font-size="17" text-anchor="middle">02</text>
<text transform="translate(942.54 1380.6) scale(0.96 1)" font-size="17" text-anchor="middle">04</text>
<text transform="translate(975.98 1380.6) scale(0.96 1)" font-size="17" text-anchor="middle">06</text>
<text transform="translate(1009.42 1380.6) scale(0.96 1)" font-size="17" text-anchor="middle">08</text>
<text transform="translate(1042.86 1380.6) scale(0.96 1)" font-size="17" text-anchor="middle">10</text>
<text transform="translate(1076.3 1380.6) scale(0.96 1)" font-size="17" text-anchor="middle">12</text>
<text transform="translate(1109.74 1380.6) scale(0.96 1)" font-size="17" text-anchor="middle">14</text>
<text transform="translate(1143.18 1380.6) scale(0.96 1)" font-size="17" text-anchor="middle">16</text>
<text transform="translate(1176.62 1380.6) scale(0.96 1)" font-size="17" text-anchor="middle">18</text>
<path d="M846.8 1170.4H852.3M846.8 1207.9H852.3M846.8 1245.4H852.3M846.8 1282.9H852.3M846.8 1320.4H852.3M846.8 1357.9H852.3M867.3 1357.9V1363.9M884.02 1357.9V1363.9M900.74 1357.9V1363.9M917.46 1357.9V1363.9M934.18 1357.9V1363.9M950.9 1357.9V1363.9M967.62 1357.9V1363.9M984.34 1357.9V1363.9M1001.06 1357.9V1363.9M1017.78 1357.9V1363.9M1034.5 1357.9V1363.9M1051.22 1357.9V1363.9M1067.94 1357.9V1363.9M1084.66 1357.9V1363.9M1101.38 1357.9V1363.9M1118.1 1357.9V1363.9M1134.82 1357.9V1363.9M1151.54 1357.9V1363.9M1168.26 1357.9V1363.9" stroke="#555" stroke-width="1.3" fill="none"/>
</svg>
</body></html>
